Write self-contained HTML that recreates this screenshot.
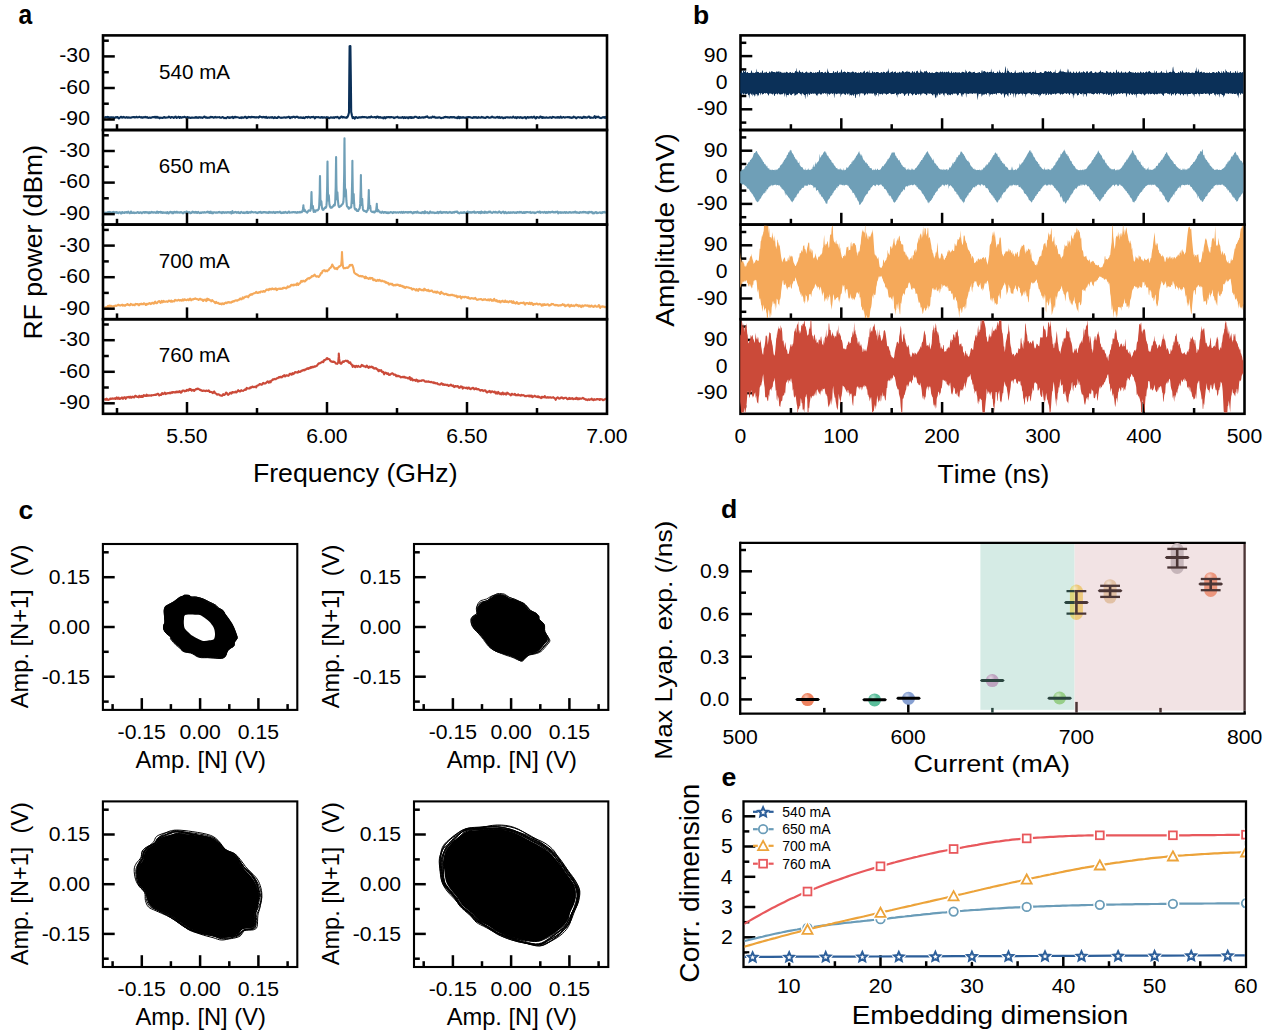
<!DOCTYPE html><html><head><meta charset="utf-8"><title>Figure</title><style>html,body{margin:0;padding:0;background:#fff;overflow:hidden}svg{display:block}text{font-family:"Liberation Sans",Arial,sans-serif;font-kerning:none;white-space:pre}</style></head><body>
<svg width="1268" height="1034" viewBox="0 0 1268 1034" font-family="Liberation Sans, Arial, sans-serif">
<rect width="1268" height="1034" fill="#fff"/>
<g id="pa">
<clipPath id="ca0"><rect x="104.1" y="36.5" width="501.8" height="92.4"/></clipPath>
<path d="M104.2 116.7 104.7 117.4 105.2 117.5 105.7 117.1 106.2 117.3 106.7 117.2 107.2 116.9 107.7 117.2 108.2 117.7 108.7 117 109.2 117.5 109.7 118.2 110.2 117.5 110.7 117.4 111.2 117.5 111.7 117.3 112.2 117.6 112.7 117.3 113.2 117.2 113.7 117.9 114.2 118.1 114.7 117.7 115.2 117.6 115.7 117.2 116.2 117 116.7 117.5 117.2 117.2 117.7 117 118.2 117.8 118.7 118.5 119.2 118.2 119.7 117.8 120.2 117.4 120.7 116.9 121.2 116.7 121.7 117.2 122.2 117.7 122.7 117.4 123.2 116.9 123.7 117.2 124.2 117.5 124.7 117.4 125.2 117.7 125.7 117.7 126.2 117.4 126.7 117.1 127.2 117.2 127.7 117.8 128.2 117.8 128.7 117.4 129.2 117.5 129.7 117.6 130.2 117.6 130.7 117.7 131.2 117.7 131.7 117.4 132.2 117.3 132.7 117.1 133.2 117.1 133.7 117.2 134.2 117.1 134.7 117.5 135.2 117.4 135.7 117.3 136.2 117 136.7 116.8 137.2 117.4 137.7 117.3 138.2 117.3 138.7 117.2 139.2 116.8 139.7 116.9 140.2 117.1 140.7 117.5 141.2 117.3 141.7 117.1 142.2 117.8 142.7 117.7 143.2 117.1 143.7 117.3 144.2 117.4 144.7 117.2 145.2 116.8 145.7 117.2 146.2 117.5 146.7 117.3 147.2 117.1 147.7 117.5 148.2 117.9 148.7 117.8 149.2 117.6 149.7 117.5 150.2 117.7 150.7 117.9 151.2 117.7 151.7 117.5 152.2 117.3 152.7 117.1 153.2 117 153.7 117.2 154.2 117.4 154.7 116.8 155.2 116.9 155.7 117.6 156.2 117.6 156.7 116.9 157.2 116.9 157.7 117.6 158.2 117.6 158.7 117.3 159.2 117.8 159.7 118.3 160.2 117.9 160.7 117.6 161.2 117.7 161.7 117.7 162.2 118 162.7 118 163.2 117.6 163.7 117.3 164.2 117 164.7 117.2 165.2 117.7 165.7 117.8 166.2 117.5 166.7 117.5 167.2 117.5 167.7 117.5 168.2 117.3 168.7 116.6 169.2 116.8 169.7 117 170.2 117.5 170.7 117.8 171.2 117.3 171.7 117 172.2 117.1 172.7 117.3 173.2 117.5 173.7 117.9 174.2 117.4 174.7 117.3 175.2 116.8 175.7 116.6 176.2 117.5 176.7 117.9 177.2 117.6 177.7 117.4 178.2 117 178.7 116.7 179.2 117.1 179.7 117.9 180.2 117.3 180.7 117 181.2 117.7 181.7 117.8 182.2 117.4 182.7 117.1 183.2 117.3 183.7 117.2 184.2 116.8 184.7 116.9 185.2 117.2 185.7 117.5 186.2 117.5 186.7 117.4 187.2 117.2 187.7 117 188.2 117.5 188.7 117.7 189.2 117.4 189.7 117.6 190.2 117.9 190.7 118 191.2 117.8 191.7 117.5 192.2 117.5 192.7 117.5 193.2 117.8 193.7 117.8 194.2 117.6 194.7 117.6 195.2 117.7 195.7 117.2 196.2 117 196.7 117.7 197.2 117.3 197.7 117.6 198.2 117.9 198.7 117.3 199.2 117.1 199.7 117.3 200.2 117.7 200.7 117.3 201.2 117.3 201.7 117.6 202.2 117.9 202.7 117.8 203.2 117.2 203.7 117 204.2 116.7 204.7 116.6 205.2 117.4 205.7 117.7 206.2 117.5 206.7 117.3 207.2 117.7 207.7 117.9 208.2 117.7 208.7 117.7 209.2 117.3 209.7 117.6 210.2 117.5 210.7 116.8 211.2 117 211.7 117.1 212.2 117.1 212.7 117.1 213.2 117.5 213.7 117.7 214.2 117.5 214.7 117.1 215.2 116.8 215.7 117.5 216.2 117.4 216.7 117.4 217.2 117.4 217.7 117.2 218.2 117.3 218.7 117.2 219.2 117.2 219.7 117.1 220.2 117.8 220.7 117.7 221.2 117.8 221.7 117.8 222.2 117 222.7 117.1 223.2 117.3 223.7 117.7 224.2 118.1 224.7 117.9 225.2 117.9 225.7 118.2 226.2 118.2 226.7 117.7 227.2 117.3 227.7 117 228.2 117.2 228.7 117.7 229.2 117.9 229.7 117.4 230.2 117.3 230.7 117.6 231.2 117.2 231.7 117.2 232.2 117 232.7 116.9 233.2 118.1 233.7 117.8 234.2 117.1 234.7 116.9 235.2 116.7 235.7 117.4 236.2 117.3 236.7 117.1 237.2 117.3 237.7 117.2 238.2 117.4 238.7 117.6 239.2 117.8 239.7 117.9 240.2 117.5 240.7 117.6 241.2 118.1 241.7 117.3 242.2 117.2 242.7 117.8 243.2 117.8 243.7 117.8 244.2 117.2 244.7 117 245.2 116.8 245.7 116.8 246.2 117.9 246.7 118.1 247.2 117.8 247.7 117.5 248.2 117 248.7 116.9 249.2 117.2 249.7 117.2 250.2 117 250.7 117.5 251.2 117.3 251.7 116.7 252.2 116.9 252.7 117.2 253.2 117.3 253.7 117 254.2 117.1 254.7 117.4 255.2 117.5 255.7 117.2 256.2 117.2 256.7 117.5 257.2 117.3 257.7 117.2 258.2 117.2 258.7 117.6 259.2 117 259.7 116.3 260.2 116.6 260.7 116.9 261.2 117.1 261.7 117.1 262.2 117.5 262.7 117.2 263.2 116.8 263.7 117.1 264.2 117 264.7 117.2 265.2 117.6 265.7 117.3 266.2 116.8 266.7 117.4 267.2 117.9 267.7 117.6 268.2 117.5 268.7 117.4 269.2 117.6 269.7 117.6 270.2 117.2 270.7 117.4 271.2 117.6 271.7 117.2 272.2 117 272.7 117.5 273.2 117.8 273.7 118.1 274.2 117.8 274.7 117.1 275.2 117.3 275.7 117.8 276.2 117.9 276.7 117.7 277.2 118 277.7 117.7 278.2 116.9 278.7 116.9 279.2 117.1 279.7 117.4 280.2 117.7 280.7 117.8 281.2 117.9 281.7 117.6 282.2 117.7 282.7 117.7 283.2 117.5 283.7 117.5 284.2 117.3 284.7 117.5 285.2 117.5 285.7 117.7 286.2 117.5 286.7 117.3 287.2 117.4 287.7 117.1 288.2 116.9 288.7 116.8 289.2 117 289.7 118 290.2 118.1 290.7 117.4 291.2 117 291.7 117.5 292.2 117.5 292.7 116.9 293.2 116.7 293.7 116.9 294.2 116.9 294.7 117.3 295.2 117.6 295.7 117 296.2 116.9 296.7 117 297.2 116.8 297.7 116.7 298.2 117.5 298.7 117.8 299.2 117.5 299.7 117.8 300.2 117.5 300.7 117.4 301.2 117.7 301.7 117.6 302.2 118 302.7 118 303.2 117.4 303.7 117.5 304.2 118 304.7 118.1 305.2 117.5 305.7 117.1 306.2 117 306.7 117 307.2 117.3 307.7 117.7 308.2 117 308.7 116.8 309.2 117.1 309.7 117.3 310.2 117.8 310.7 117.4 311.2 117.1 311.7 117 312.2 117.3 312.7 117.1 313.2 116.7 313.7 116.9 314.2 117.5 314.7 118.3 315.2 118 315.7 117.1 316.2 117.1 316.7 117.2 317.2 117.3 317.7 117.2 318.2 117 318.7 117.3 319.2 117.5 319.7 117.5 320.2 117.7 320.7 117.7 321.2 117 321.7 117.2 322.2 117.6 322.7 117.2 323.2 117.6 323.7 117.5 324.2 117.2 324.7 117.2 325.2 117.6 325.7 117.6 326.2 117.4 326.7 117.1 327.2 117.4 327.7 117.5 328.2 117.4 328.7 117.9 329.2 118 329.7 118.2 330.2 117.6 330.7 117.2 331.2 117.5 331.7 117.5 332.2 117.8 332.7 117.7 333.2 117.2 333.7 117.2 334.2 117.8 334.7 117.5 335.2 117.1 335.7 117.2 336.2 117.4 336.7 117.3 337.2 116.9 337.7 117.3 338.2 117.4 338.7 118 339.2 118.4 339.7 117.5 340.2 117.7 340.7 117.6 341.2 116.6 341.7 116.6 342.2 117.1 342.7 117.6 343.2 117 343.7 117 344.2 117.4 344.7 117.5 345.2 117.5 345.7 117.5 346.2 117.8 346.7 117.2 347.2 117.5 348.2 115.5 349 112.5 349.3 75 349.6 46.3 350.4 46 350.8 75 351.2 112 352 115.8 352.7 118.1 353.2 117.7 353.7 117.2 354.2 118 354.7 118.7 355.2 117.9 355.7 117.1 356.2 117.1 356.7 117.4 357.2 117.8 357.7 117.9 358.2 117.8 358.7 117.4 359.2 117.4 359.7 117.4 360.2 117.3 360.7 117.4 361.2 117.5 361.7 117.1 362.2 116.8 362.7 117.2 363.2 117 363.7 117.1 364.2 117.1 364.7 117 365.2 117.2 365.7 117.3 366.2 117.2 366.7 117.5 367.2 117.7 367.7 117.5 368.2 117.5 368.7 117.3 369.2 117 369.7 117.4 370.2 117.5 370.7 116.9 371.2 116.4 371.7 116.9 372.2 117.3 372.7 117.2 373.2 117.2 373.7 117.2 374.2 117.3 374.7 117 375.2 117.1 375.7 117.6 376.2 117.8 376.7 117.1 377.2 116.6 377.7 116.7 378.2 117 378.7 117.6 379.2 117.7 379.7 117 380.2 117 380.7 117.6 381.2 117.5 381.7 117.8 382.2 117.7 382.7 117.5 383.2 118.3 383.7 117.7 384.2 117 384.7 117.5 385.2 118.3 385.7 117.8 386.2 117.1 386.7 117.6 387.2 117.4 387.7 117.1 388.2 117.1 388.7 117.2 389.2 117 389.7 117.5 390.2 117.5 390.7 117 391.2 117.1 391.7 117.1 392.2 117.3 392.7 117.2 393.2 117.2 393.7 117.8 394.2 118.1 394.7 117.6 395.2 117.6 395.7 117.4 396.2 117.3 396.7 117.1 397.2 116.8 397.7 116.9 398.2 117.5 398.7 117.8 399.2 117.6 399.7 117.6 400.2 117.5 400.7 117.6 401.2 117.7 401.7 117.6 402.2 117.2 402.7 117 403.2 117.5 403.7 118.1 404.2 117.9 404.7 117.1 405.2 117.4 405.7 117.9 406.2 117.5 406.7 117.4 407.2 117.3 407.7 117.7 408.2 118.3 408.7 117.6 409.2 117.1 409.7 117.4 410.2 117.8 410.7 117.1 411.2 117 411.7 118 412.2 117.7 412.7 117.3 413.2 117.7 413.7 117.8 414.2 117.2 414.7 116.8 415.2 116.8 415.7 116.8 416.2 117 416.7 117.3 417.2 117.3 417.7 117.6 418.2 118 418.7 117.9 419.2 117 419.7 117.3 420.2 117.7 420.7 117.7 421.2 117.6 421.7 117.4 422.2 117.4 422.7 117.4 423.2 117.7 423.7 117.5 424.2 117.3 424.7 117.5 425.2 117.3 425.7 116.7 426.2 116.9 426.7 116.8 427.2 116.3 427.7 116.9 428.2 117.4 428.7 117.7 429.2 117.8 429.7 117.7 430.2 117.4 430.7 117.6 431.2 117.6 431.7 117.6 432.2 117.1 432.7 116.6 433.2 117 433.7 117.2 434.2 116.8 434.7 117 435.2 117.8 435.7 117.8 436.2 117.5 436.7 117.6 437.2 117.6 437.7 117.5 438.2 117.6 438.7 117.4 439.2 117.3 439.7 117.3 440.2 117.7 440.7 118 441.2 118.1 441.7 118 442.2 117.8 442.7 117.7 443.2 117.9 443.7 117.7 444.2 117.1 444.7 117.2 445.2 117 445.7 116.9 446.2 117.3 446.7 117.1 447.2 117 447.7 117.4 448.2 117.5 448.7 117.4 449.2 117.7 449.7 117.5 450.2 117 450.7 117.1 451.2 117.5 451.7 117 452.2 117.1 452.7 117.5 453.2 117.2 453.7 117.1 454.2 117.1 454.7 117.6 455.2 117.8 455.7 117.7 456.2 117.5 456.7 117.7 457.2 118.1 457.7 117.7 458.2 116.7 458.7 116.8 459.2 118.1 459.7 118.1 460.2 117.1 460.7 117.6 461.2 117.7 461.7 117.4 462.2 117.7 462.7 117.2 463.2 117.1 463.7 117.7 464.2 117.6 464.7 117.5 465.2 117.6 465.7 117.6 466.2 118.1 466.7 117.6 467.2 117.1 467.7 117.4 468.2 117.3 468.7 117 469.2 117.1 469.7 117.2 470.2 117.2 470.7 117.3 471.2 117.7 471.7 117.8 472.2 117.8 472.7 117.9 473.2 117.4 473.7 117 474.2 117.4 474.7 117.6 475.2 117.1 475.7 117.5 476.2 117.6 476.7 117.2 477.2 117.7 477.7 117.9 478.2 117.5 478.7 117.1 479.2 117.4 479.7 117.6 480.2 117.8 480.7 117.6 481.2 117.2 481.7 116.9 482.2 117.5 482.7 117.5 483.2 117.2 483.7 117.6 484.2 117.7 484.7 117.8 485.2 118 485.7 117.7 486.2 117.5 486.7 117 487.2 116.9 487.7 117.2 488.2 117.1 488.7 117.7 489.2 117.7 489.7 117.7 490.2 117.6 490.7 117.5 491.2 117.4 491.7 116.7 492.2 116.6 492.7 117.2 493.2 117.4 493.7 117.4 494.2 117.4 494.7 117.6 495.2 117.8 495.7 117.5 496.2 117.5 496.7 117.1 497.2 116.8 497.7 117.3 498.2 117.7 498.7 117.6 499.2 116.9 499.7 117.1 500.2 117.9 500.7 117.8 501.2 117.3 501.7 117.3 502.2 117.4 502.7 117.7 503.2 118.2 503.7 118 504.2 117.5 504.7 117.8 505.2 117.9 505.7 117.4 506.2 117.3 506.7 117.2 507.2 117.4 507.7 117.4 508.2 117.4 508.7 117.5 509.2 117.6 509.7 117.5 510.2 117.3 510.7 117.4 511.2 117.5 511.7 117.5 512.2 117.7 512.7 117.4 513.2 116.7 513.7 117.1 514.2 117.5 514.7 117.7 515.2 117.7 515.7 117.1 516.2 117.7 516.7 118.1 517.2 117.4 517.7 117.1 518.2 117.4 518.7 117.4 519.2 117.3 519.7 117.8 520.2 117.4 520.7 117 521.2 117.4 521.7 117.9 522.2 118.1 522.7 117.5 523.2 117.7 523.7 117.7 524.2 117.3 524.7 117.5 525.2 117.2 525.7 117.9 526.2 118.5 526.7 117.8 527.2 117.3 527.7 117 528.2 117.2 528.7 117.7 529.2 117.5 529.7 117.3 530.2 117.5 530.7 117.5 531.2 116.9 531.7 117.1 532.2 117.6 532.7 117.6 533.2 117.4 533.7 116.7 534.2 116.6 534.7 117.2 535.2 118 535.7 118.5 536.2 118.1 536.7 117.1 537.2 117 537.7 117.4 538.2 117.6 538.7 117.5 539.2 117.8 539.7 117.5 540.2 116.6 540.7 116.6 541.2 116.9 541.7 117.7 542.2 117.9 542.7 117 543.2 117.2 543.7 117.8 544.2 117.7 544.7 117.5 545.2 117.7 545.7 117.8 546.2 117.4 546.7 117.4 547.2 117.8 547.7 117.7 548.2 117.7 548.7 117.8 549.2 117.5 549.7 117.3 550.2 117.5 550.7 117.4 551.2 117.6 551.7 118 552.2 117.2 552.7 116.9 553.2 117.2 553.7 117.1 554.2 117.3 554.7 117.4 555.2 117.5 555.7 117.6 556.2 117.6 556.7 117.3 557.2 117.1 557.7 117.7 558.2 117.1 558.7 117.2 559.2 117.7 559.7 117.6 560.2 117 560.7 116.6 561.2 117.5 561.7 117.7 562.2 117.7 562.7 117.4 563.2 117 563.7 117.1 564.2 117.4 564.7 117.6 565.2 117.5 565.7 117.3 566.2 117.3 566.7 117.3 567.2 117.2 567.7 117.1 568.2 117.4 568.7 117.2 569.2 117.1 569.7 117.6 570.2 117.6 570.7 117.3 571.2 117.8 571.7 117.9 572.2 117.6 572.7 117.7 573.2 117.3 573.7 116.7 574.2 117 574.7 117.2 575.2 117.3 575.7 117.8 576.2 118.3 576.7 117.8 577.2 117.5 577.7 117.2 578.2 117.3 578.7 117.1 579.2 117.4 579.7 117.6 580.2 117.4 580.7 117.2 581.2 117.4 581.7 117.9 582.2 118 582.7 117.9 583.2 117 583.7 116.8 584.2 116.9 584.7 117.5 585.2 117.6 585.7 117.1 586.2 117.4 586.7 117.6 587.2 117.6 587.7 117.4 588.2 116.8 588.7 116.6 589.2 116.5 589.7 117.2 590.2 117.9 590.7 117.5 591.2 117.5 591.7 117.7 592.2 117.7 592.7 117.7 593.2 117.8 593.7 117.6 594.2 116.9 594.7 116.2 595.2 117 595.7 117.9 596.2 116.9 596.7 116.8 597.2 117.2 597.7 117 598.2 116.6 598.7 116.9 599.2 117.6 599.7 117.6 600.2 117.9 600.7 118 601.2 118.1 601.7 117.9 602.2 117.5 602.7 117.3 603.2 117.4 603.7 117.5 604.2 117 604.7 117.4 605.2 117.9 605.7 116.9 606.2 116.3" fill="none" stroke="#0b3058" stroke-width="2.1" stroke-linejoin="round" clip-path="url(#ca0)"/>
<clipPath id="ca1"><rect x="104.1" y="131.1" width="501.8" height="92.4"/></clipPath>
<path d="M104.2 212 104.5 212.3 104.7 212.4 105 212.8 105.2 212.7 105.5 213 105.7 212.8 106 212.7 106.2 212.5 106.5 212.7 106.7 212.7 107 213 107.2 212.9 107.5 212.7 107.7 212.4 108 212.1 108.2 212.3 108.5 212.6 108.7 212.7 109 212.3 109.2 211.9 109.5 212 109.7 212.3 110 212.2 110.2 212.3 110.5 212.1 110.7 212.5 111 212.5 111.2 212.8 111.5 212.6 111.7 212.6 112 212.6 112.2 212.4 112.5 212.4 112.7 212.2 113 212.4 113.2 212.2 113.5 212.1 113.7 211.8 114 212 114.2 212.4 114.5 212.5 114.7 212.6 115 212.4 115.2 212.6 115.5 212.5 115.7 212.7 116 212 116.2 212 116.5 212.1 116.7 212.8 117 213.1 117.2 212.7 117.5 212.5 117.7 212.4 118 212.8 118.2 212.9 118.5 213.1 118.7 212.6 119 212.6 119.2 212.4 119.5 212.5 119.7 212.2 120 212.3 120.2 212.4 120.5 212.7 120.7 212.9 121 213.5 121.2 213.2 121.5 213.3 121.7 212.5 122 212.5 122.2 212 122.5 212.4 122.7 212.5 123 212.8 123.2 212.5 123.5 212.6 123.7 212.5 124 212.6 124.2 212.9 124.5 213 124.7 212.8 125 212.1 125.2 212.3 125.5 212.4 125.7 212.5 126 212.1 126.2 212.1 126.5 212.1 126.7 212.7 127 212.6 127.2 212.8 127.5 212.4 127.7 212 128 211.8 128.2 211.7 128.4 212.1 128.7 212.1 128.9 212.5 129.2 212.6 129.4 213.1 129.7 213 129.9 212.9 130.2 213.1 130.4 212.9 130.7 212.6 130.9 211.6 131.2 211.6 131.4 212.2 131.7 212.6 131.9 213 132.2 212.8 132.4 212.9 132.7 212.7 132.9 212.5 133.2 212.5 133.4 212.4 133.7 212.8 133.9 213 134.2 213.1 134.4 212.7 134.7 212.6 134.9 212.7 135.2 212.8 135.4 212.8 135.7 212.8 135.9 213 136.2 212.9 136.4 212.8 136.7 212.6 136.9 212.6 137.2 212.4 137.4 212.3 137.7 212 137.9 212.1 138.2 212.3 138.4 212.7 138.7 212.9 138.9 212.7 139.2 212.8 139.4 212.6 139.7 212.8 139.9 212.6 140.2 212.5 140.4 212.2 140.7 212.3 140.9 212.5 141.2 212.7 141.4 213.1 141.7 213.2 141.9 213.2 142.2 212.7 142.4 212.5 142.7 212.4 142.9 212.4 143.2 212.3 143.4 212.4 143.7 212.2 143.9 212.4 144.2 212.1 144.4 212.5 144.7 212.4 144.9 212.9 145.2 212.3 145.4 212.1 145.7 212 145.9 212.1 146.2 212.5 146.4 212.3 146.7 212.2 146.9 212.1 147.2 212.5 147.4 212.8 147.7 212.8 147.9 212.7 148.2 212.3 148.4 212.6 148.7 212.8 148.9 213.2 149.2 212.6 149.4 212.5 149.7 212.2 149.9 212.6 150.2 212.5 150.4 212.9 150.7 212.7 150.9 212.6 151.2 212.1 151.4 211.9 151.7 212.1 151.9 212.1 152.2 212.5 152.4 212.3 152.7 212.4 152.9 212.4 153.2 212.7 153.4 212.6 153.7 212.4 153.9 212.2 154.2 212.5 154.4 212.4 154.7 212.3 154.9 212.2 155.2 212.5 155.4 212.7 155.7 212.6 155.9 212.9 156.2 212.8 156.4 212.7 156.7 212 156.9 211.9 157.2 211.5 157.4 211.9 157.7 212.1 157.9 212.8 158.2 212.9 158.4 212.4 158.7 212.1 158.9 212.2 159.2 212.1 159.4 212 159.7 212 159.9 212.4 160.2 212.2 160.4 211.9 160.7 211.9 160.9 212.7 161.2 212.8 161.4 212.6 161.7 212.2 161.9 212.4 162.2 212.7 162.4 212.9 162.7 212.8 162.9 212.4 163.2 212.2 163.4 212.2 163.7 212.6 163.9 212.8 164.2 212.6 164.4 212.6 164.7 212.6 164.9 212.7 165.2 212.8 165.4 212.6 165.7 212.7 165.9 212.5 166.2 212.6 166.4 213.1 166.7 213.2 166.9 212.8 167.2 212.2 167.4 212 167.7 212.3 167.9 212.4 168.2 213 168.4 213.1 168.7 213.5 168.9 212.8 169.2 212.6 169.4 212.7 169.7 212.5 169.9 212.5 170.2 211.8 170.4 212.5 170.7 212.1 170.9 212.4 171.2 212.1 171.4 212 171.7 212.6 171.9 212.6 172.2 213.2 172.4 212.6 172.7 212.3 172.9 212 173.2 212.2 173.4 213.1 173.7 212.8 173.9 212.5 174.2 211.8 174.4 212 174.7 212.5 174.9 212.5 175.2 212.3 175.4 212.3 175.7 212.7 175.9 212.6 176.2 212.6 176.4 211.8 176.7 211.7 176.9 211.8 177.2 212.3 177.4 212.5 177.7 212.7 177.9 212.7 178.2 212.5 178.4 212.2 178.7 212.3 178.9 212.3 179.2 212.4 179.4 212.7 179.7 212.8 179.9 212.5 180.2 212.1 180.4 212.5 180.7 212.5 180.9 212.4 181.2 212 181.4 212.2 181.7 212.4 181.9 212.5 182.2 212.7 182.4 213.1 182.7 213 182.9 213 183.2 212.6 183.4 213.3 183.7 212.9 183.9 212.8 184.2 212.2 184.4 212.1 184.7 212.1 184.9 212.2 185.2 212.2 185.4 212.3 185.7 212.5 185.9 212.7 186.2 212.5 186.4 211.6 186.7 211.7 186.9 211.6 187.2 212.2 187.4 212.5 187.7 213 187.9 212.7 188.2 212.5 188.4 212.3 188.7 212.2 188.9 212 189.2 212.1 189.4 212.3 189.7 212.5 189.9 212.9 190.2 213.1 190.4 213.1 190.7 212.6 190.9 212.7 191.2 212.6 191.4 213 191.7 212.5 191.9 212.5 192.2 211.8 192.4 211.9 192.7 211.7 192.9 212 193.2 212.4 193.4 212.3 193.7 212.4 193.9 212.1 194.2 212.5 194.4 212.7 194.7 212.4 194.9 212.2 195.2 211.8 195.4 212.3 195.7 212.6 195.9 212.7 196.2 212.4 196.4 212 196.7 212.2 196.9 212.6 197.2 212.9 197.4 212.7 197.7 212.2 197.9 212 198.2 211.8 198.4 212.3 198.7 212.4 198.9 212.7 199.2 212.8 199.4 212.8 199.7 213.2 199.9 212.8 200.2 213 200.4 212.7 200.7 212.6 200.9 212.4 201.2 212.6 201.4 212.9 201.7 212.8 201.9 212.6 202.2 212.3 202.4 212.3 202.7 212.3 202.9 212.3 203.2 212.4 203.4 212.6 203.7 212.7 203.9 212.5 204.2 212.1 204.4 212 204.7 212.2 204.9 212.4 205.2 212.4 205.4 212.5 205.7 212.6 205.9 212.6 206.2 212.2 206.4 212.2 206.7 212 206.9 211.9 207.2 212 207.4 211.6 207.7 211.9 207.9 212 208.2 212.6 208.4 212.3 208.7 212.2 208.9 211.8 209.2 211.9 209.4 212.1 209.7 212.5 209.9 213 210.2 212.5 210.4 212 210.7 211.6 210.9 212.1 211.2 212.7 211.4 213.1 211.7 212.8 211.9 212.6 212.2 212.3 212.4 212.9 212.7 213 212.9 213.4 213.2 212.7 213.4 213 213.7 212.4 213.9 212.4 214.2 212.2 214.4 212.3 214.7 212.3 214.9 212.2 215.2 212.2 215.4 212.6 215.7 212.8 215.9 212.7 216.2 212.7 216.4 212.5 216.7 212.7 216.9 212.4 217.2 212.5 217.4 212.7 217.7 212.6 217.9 212.5 218.2 212.1 218.4 212.5 218.7 212.4 218.9 212.4 219.2 211.9 219.4 212.1 219.7 212.4 219.9 212.5 220.2 212.5 220.4 212.3 220.7 212.6 220.9 212.7 221.2 212.4 221.4 212.4 221.7 212.4 221.9 213.2 222.2 212.7 222.4 212.6 222.7 212.2 222.9 212 223.2 212 223.4 212.3 223.7 212.7 223.9 212.3 224.2 212.3 224.4 212.3 224.7 212.9 224.9 212.7 225.2 212.6 225.4 212.5 225.7 212.5 225.9 212.2 226.2 212.4 226.4 212.5 226.7 212.8 226.9 212.6 227.2 212.5 227.4 212.4 227.7 212.1 227.9 212.2 228.2 212.3 228.4 212.5 228.7 212.1 228.9 212.3 229.2 212.3 229.4 212.7 229.7 212.3 229.9 212.2 230.2 212.2 230.4 212 230.7 212 230.9 212.5 231.2 213 231.4 213.5 231.7 212.9 231.9 212.3 232.2 211.6 232.4 211.2 232.7 211.8 232.9 212.4 233.2 212.9 233.4 212.8 233.7 212.6 233.9 212.5 234.2 212.6 234.4 212.3 234.7 212.3 234.9 212.1 235.2 212 235.4 211.9 235.7 212 235.9 212.4 236.2 212.1 236.4 212.2 236.7 212.2 236.9 212.8 237.2 212.6 237.4 212.7 237.7 212.3 237.9 212.2 238.2 211.9 238.4 212.1 238.7 212.3 238.9 212.9 239.2 213 239.4 212.7 239.7 212.5 239.9 212.6 240.2 213.1 240.4 213 240.7 212.5 240.9 212.1 241.2 211.9 241.4 212.2 241.7 212.2 241.9 212.3 242.2 212.4 242.4 212.7 242.7 212.7 242.9 212.9 243.2 212.6 243.4 212.8 243.7 212.5 243.9 212.7 244.2 212.4 244.4 212.9 244.7 213 244.9 213.1 245.2 212.7 245.4 212.5 245.7 212.5 245.9 212.3 246.2 212.1 246.4 211.9 246.7 212.5 246.9 212.9 247.2 212.9 247.4 212.5 247.7 211.9 247.9 212.1 248.2 212.4 248.4 213 248.7 212.7 248.9 212.7 249.2 212.3 249.4 212.4 249.7 212.2 249.9 212.1 250.2 212.3 250.4 212.4 250.7 212.7 250.9 212.6 251.2 212.2 251.4 211.7 251.7 211.9 251.9 212 252.2 212 252.4 212.1 252.7 212.1 252.9 212.4 253.2 212.4 253.4 212.5 253.7 212.4 253.9 212.2 254.2 212.2 254.4 212.2 254.7 212.3 254.9 212.3 255.2 212.3 255.4 212.1 255.7 212.5 255.9 212.4 256.2 212.6 256.4 212.4 256.7 212.8 256.9 212.7 257.2 212.9 257.4 213 257.7 213.1 257.9 212.5 258.2 212.2 258.4 212.3 258.7 212.4 258.9 212.2 259.2 212.1 259.4 212.2 259.7 212.5 259.9 212.2 260.2 211.7 260.4 211.7 260.7 212 260.9 212.6 261.2 212.4 261.4 212.8 261.7 212.9 261.9 212.8 262.2 212.5 262.4 212.4 262.7 212.6 262.9 212.5 263.2 212.1 263.4 212 263.7 212.1 263.9 212.4 264.2 212.2 264.4 212.3 264.7 212 264.9 212.1 265.2 212.2 265.4 212.4 265.7 212.5 265.9 212.4 266.2 212.7 266.4 212.3 266.7 212.4 266.9 212.3 267.2 212.7 267.4 212.6 267.7 212.6 267.9 212.7 268.2 213 268.4 212.6 268.7 212.2 268.9 211.9 269.2 211.8 269.4 212.2 269.7 212.1 269.9 212.7 270.2 212.4 270.4 212.5 270.7 212.2 270.9 212.1 271.2 212.2 271.4 212.5 271.7 212.6 271.9 212.5 272.2 212.3 272.4 212.6 272.7 212.7 272.9 212.6 273.2 212.1 273.4 212 273.7 211.9 273.9 212.1 274.2 212.4 274.4 212.7 274.7 212.9 274.9 212.7 275.2 212.9 275.4 212.6 275.7 212.6 275.9 212.2 276.2 212.5 276.4 212.4 276.7 212.4 276.9 212.5 277.2 212 277.4 212.2 277.7 212.2 277.9 212.4 278.2 212.2 278.4 212.4 278.7 212.4 278.9 212.5 279.2 212 279.4 212.1 279.7 212 279.9 211.7 280.2 212.3 280.4 212.3 280.7 212.8 280.9 212.3 281.2 212.7 281.4 212.8 281.7 213.1 281.9 213 282.2 213 282.4 212.8 282.7 212.8 282.9 212.3 283.2 212.5 283.4 212.4 283.7 212.8 283.9 212.4 284.2 212.5 284.4 212.3 284.7 212.7 284.9 212 285.2 212.1 285.4 211.9 285.7 212.1 285.9 212 286.2 212.5 286.4 212.6 286.7 212.8 286.9 212.9 287.2 212.6 287.4 212.9 287.7 212.4 287.9 212.5 288.2 212.1 288.4 211.8 288.7 211.7 288.9 211.5 289.2 211.8 289.4 212.2 289.7 212.7 289.9 212.7 290.2 212.6 290.4 212.5 290.7 212.5 290.9 212.5 291.2 212.3 291.4 212.4 291.7 212.3 291.9 212.5 292.2 212.4 292.4 212.5 292.7 212.3 292.9 212 293.2 212 293.4 212 293.7 212.1 293.9 212.1 294.2 212.1 294.4 212.3 294.7 212.4 294.9 212.4 295.2 212.3 295.4 212.1 295.7 212.4 295.9 212.4 296.2 212.6 296.4 212.6 296.7 212.7 296.9 212.8 297.2 212.2 297.4 212 297.7 212 297.9 212.5 298.2 212.3 298.4 212.4 298.7 212.3 298.9 212.5 299.2 212.1 299.4 211.9 299.7 212 299.9 212.4 300.2 212.5 300.4 212.5 300.7 212.3 300.9 212.2 301.2 211.7 301.4 211.8 301.7 211.8 301.9 212.1 302.2 211.5 302.4 211.2 302.7 210.6 302.9 209.8 303.2 208 303.4 205.3 303.4 206.1 303.7 208.7 303.9 210.3 304.2 211.1 304.4 210.6 304.7 209.8 304.9 210.5 305.2 211.2 305.4 211.3 305.7 211.5 305.9 211.5 306.2 211.7 306.4 211.9 306.7 212.3 306.9 212.4 307.2 212.6 307.4 212.2 307.7 212 307.9 211.5 308.2 211 308.4 210.7 308.7 210.3 308.9 210.3 309.2 210.2 309.4 210.4 309.7 210.5 309.9 210.6 310.2 210.8 310.4 210.6 310.7 209.4 310.9 206.9 311.2 202.3 311.4 194.3 311.5 192.1 311.7 199.2 311.9 204.8 312.2 208 312.4 208.1 312.7 205.8 312.9 206.2 313.2 208.7 313.4 210.5 313.7 211.9 313.9 211.8 314.2 211.5 314.4 210.4 314.7 210.6 314.9 211.1 315.2 211.8 315.4 211.7 315.7 211.1 315.9 210.5 316.2 210.3 316.4 210.2 316.7 210.2 316.9 210.3 317.2 210.3 317.4 210.3 317.7 210.4 317.9 210.1 318.2 209.7 318.4 209.2 318.7 209.1 318.9 208.4 319.2 205.6 319.4 200.9 319.7 193.2 319.9 179.6 320 176.1 320.2 188.4 320.4 198.5 320.7 204 320.9 204.7 321.2 201 321.4 201.6 321.7 205.2 321.9 207.3 322.2 208.6 322.4 209.2 322.7 209.6 322.9 209.9 323.2 209.9 323.4 209.8 323.7 209.4 323.9 209 324.2 208.4 324.4 208.6 324.7 208 324.9 207.8 325.2 207.3 325.4 207.5 325.7 207.8 325.9 207.5 326.2 207 326.4 205.9 326.7 202.5 326.9 196.6 327.2 185.9 327.4 167.1 327.5 161.5 327.7 178.5 327.9 192 328.2 199.9 328.4 200.4 328.7 195.1 328.9 196.3 329.2 201.2 329.4 204.2 329.7 205.4 329.9 206.5 330.2 206.6 330.4 207.5 330.7 207.6 330.9 207.8 331.2 207.4 331.4 207.5 331.7 207.6 331.9 207.5 332.2 207.1 332.4 206.6 332.7 206.6 332.9 206.4 333.2 206.4 333.4 205.8 333.7 205.5 333.9 204.9 334.2 205.1 334.4 205.2 334.7 205.3 334.9 204.7 335.2 201.8 335.4 196.2 335.7 187 335.9 171.5 336.1 157.1 336.2 167.5 336.4 184.6 336.7 194.3 336.9 199.2 337.2 195.1 337.4 192.2 337.7 197.5 337.9 200.7 338.2 202.8 338.4 205.1 338.7 206.1 338.9 206.8 339.2 207.1 339.4 207 339.7 206.7 339.9 206.5 340.2 206.4 340.4 206.4 340.7 206 340.9 205.8 341.2 205.8 341.4 205.4 341.7 204.9 341.9 204.4 342.2 204.3 342.4 204.3 342.7 204.1 342.9 203.3 343.2 202.8 343.4 201.7 343.7 197 343.9 188.1 344.2 172.6 344.4 145.5 344.5 138.3 344.7 163.7 344.9 183.4 345.2 194.6 345.4 196.2 345.7 189.3 345.9 190.6 346.2 196.6 346.4 200.7 346.7 203.8 346.9 206 347.2 206.4 347.4 206.8 347.7 206.7 347.9 207 348.2 207.3 348.4 208.2 348.7 208.6 348.9 208.8 349.2 208.1 349.4 207.9 349.7 207.7 349.9 207.8 350.2 207.6 350.4 207.5 350.7 207.4 350.9 207.6 351.2 207.1 351.4 204.7 351.7 199.9 351.9 192.1 352.2 178.8 352.4 160.8 352.4 166.1 352.7 185.4 352.9 196.5 353.2 203 353.4 200 353.7 194.1 353.9 200 354.2 204 354.4 206.4 354.7 208.3 354.9 208.8 355.2 209.4 355.4 209.7 355.7 209.7 355.9 209.6 356.2 209.2 356.4 209.8 356.7 210 356.9 210.9 357.2 210.9 357.4 210.5 357.7 210.6 357.9 210.6 358.2 210.9 358.4 210.3 358.7 210.1 358.9 209.3 359.2 209.3 359.4 208.5 359.7 208.5 359.9 206.6 360.2 203.9 360.4 198.4 360.7 188.4 360.9 175 360.9 178.8 361.2 192.8 361.4 200.6 361.7 205 361.9 203.1 362.2 198.8 362.4 203.5 362.7 206.6 362.9 208.7 363.2 209.9 363.4 210.4 363.7 210.4 363.9 210.6 364.2 211 364.4 211 364.7 211.1 364.9 210.9 365.2 211.2 365.4 211.5 365.7 211.4 365.9 211.5 366.2 211.6 366.4 212.1 366.7 211.8 366.9 211.2 367.2 210.5 367.4 210.4 367.7 210.3 367.9 209.1 368.2 206.5 368.4 201.8 368.7 194.3 368.8 190.1 368.9 196.6 369.2 203 369.4 206.8 369.7 208.1 369.9 206.1 370.2 205.8 370.4 208 370.7 209.7 370.9 210.6 371.2 211.2 371.4 211.3 371.7 211.4 371.9 211.7 372.2 212 372.4 211.9 372.7 211.9 372.9 212.1 373.2 211.9 373.4 211.7 373.7 211.5 373.9 211.8 374.2 212.3 374.4 212.5 374.7 212.4 374.9 212 375.2 211.5 375.4 211.2 375.7 211.4 375.9 210.9 376.2 210.2 376.4 208.2 376.7 205.7 376.8 203.9 376.9 206.7 377.2 209.4 377.4 211 377.7 211.3 377.9 210 378.2 210.1 378.4 210.4 378.7 211.2 378.9 211.3 379.2 211.7 379.4 211.5 379.7 211.6 379.9 211.9 380.2 212.4 380.4 212.3 380.7 212.4 380.9 212.5 381.2 212.4 381.4 212.9 381.7 212.4 381.9 212.2 382.2 211.7 382.4 212 382.7 211.9 382.9 211.9 383.2 212.2 383.4 212.5 383.7 212.9 383.9 212.6 384.2 212.5 384.4 212.1 384.7 212.1 384.9 212.2 385.2 212.3 385.4 212.1 385.7 212.4 385.9 212.7 386.2 212.9 386.4 212.6 386.7 212.3 386.9 212.6 387.2 212.6 387.4 213.1 387.7 212.6 387.9 212.4 388.2 212.4 388.4 212.5 388.7 213.1 388.9 212.8 389.2 212.7 389.4 212.6 389.7 212.5 389.9 212.6 390.2 212.4 390.4 212.1 390.7 212.1 390.9 212 391.2 212.3 391.4 212.3 391.7 212.2 391.9 212.3 392.2 212.3 392.4 213 392.7 213.1 392.9 213 393.2 212.5 393.4 212.3 393.7 212 393.9 212.2 394.2 212.2 394.4 212.4 394.7 212.3 394.9 212.4 395.2 212.5 395.4 212.3 395.7 212.5 395.9 212.4 396.2 212.7 396.4 212.5 396.7 212.3 396.9 212.3 397.2 212.2 397.4 212.2 397.7 212.2 397.9 212.4 398.2 212.7 398.4 212.7 398.7 212.4 398.9 212.2 399.2 212.2 399.4 212 399.7 212.2 399.9 212.3 400.2 212.3 400.4 212.4 400.7 212.8 400.9 212.8 401.2 212.5 401.4 211.9 401.7 212.3 401.9 212.1 402.2 212.4 402.4 212.3 402.7 212.8 402.9 212.3 403.2 212.1 403.4 211.8 403.7 212.4 403.9 212.5 404.2 212.7 404.4 212.6 404.7 212.4 404.9 212.3 405.2 212.1 405.4 212.2 405.7 212.1 405.9 212.3 406.2 212.4 406.4 212.2 406.7 212.2 406.9 212 407.2 212.1 407.4 212.2 407.7 212.3 407.9 212.7 408.2 212.4 408.4 212.4 408.7 212 408.9 212.2 409.2 212 409.4 212.4 409.7 212.2 409.9 212.2 410.2 211.9 410.4 211.9 410.7 212.3 410.9 212.5 411.2 212.4 411.4 212.1 411.7 212.2 411.9 212.5 412.2 212.6 412.4 213.2 412.7 213 412.9 213.4 413.2 212.7 413.4 212.8 413.7 212.1 413.9 212.1 414.2 212 414.4 212.4 414.7 212.7 414.9 212.7 415.2 212.3 415.4 212.1 415.7 212.1 415.9 212.3 416.2 212.4 416.4 212.7 416.7 212.7 416.9 212.3 417.2 211.6 417.4 211.6 417.7 211.9 417.9 212.3 418.2 212.6 418.4 212.5 418.7 212.8 418.9 212.8 419.2 212.6 419.4 212.7 419.7 212.8 419.9 212.9 420.2 212.7 420.4 212.7 420.7 213 420.9 212.9 421.2 212.8 421.4 212.5 421.7 213.1 421.9 212.8 422.2 212.7 422.4 212.1 422.7 212.3 422.9 212.2 423.2 212.5 423.4 212.2 423.7 212.7 423.9 212.9 424.2 213.2 424.4 212.6 424.7 212 424.9 211.2 425.2 212.1 425.4 212.3 425.7 212.8 425.9 212.2 426.2 212.5 426.4 212.5 426.7 212.5 426.9 212.4 427.2 212.2 427.4 212.5 427.7 212.9 427.9 213.1 428.2 212.8 428.4 212.8 428.7 213.3 428.9 213.3 429.2 213.1 429.4 212.5 429.7 212.5 429.9 211.9 430.2 211.5 430.4 211.6 430.7 212 430.9 212.6 431.2 212.5 431.4 212.7 431.7 212.6 431.9 212.6 432.2 212.5 432.4 212.4 432.7 212.7 432.9 212.4 433.2 212.5 433.4 212.4 433.7 212.5 433.9 212.7 434.2 212.9 434.4 213.1 434.7 212.8 434.9 212.9 435.2 212.8 435.4 212.7 435.7 212.8 435.9 212.7 436.2 213 436.4 212.8 436.7 212.7 436.9 212.7 437.2 212.3 437.4 212.2 437.7 211.9 437.9 212.6 438.2 212.9 438.4 213.2 438.7 212.7 438.9 212.7 439.2 212.1 439.4 212.1 439.7 212.1 439.9 212.4 440.2 212 440.4 211.6 440.7 211.9 440.9 212.5 441.2 212.8 441.4 213 441.7 212.4 441.9 212.6 442.2 212.4 442.4 212.9 442.7 212.4 442.9 212.6 443.2 212.4 443.4 212.5 443.7 212.2 443.9 212.1 444.2 212.4 444.4 212.3 444.7 212.2 444.9 212.1 445.2 212.3 445.4 212.6 445.7 212.7 445.9 212.3 446.2 212.2 446.4 212.1 446.7 212.5 446.9 212.3 447.2 212.4 447.4 212.7 447.7 212.9 447.9 212.6 448.2 212.4 448.4 212.4 448.7 212.6 448.9 212.5 449.2 212.4 449.4 212.4 449.7 212.2 449.9 211.9 450.2 212.1 450.4 212.3 450.7 212.7 450.9 212.7 451.2 212.6 451.4 212.9 451.7 212.8 451.9 212.7 452.2 212.3 452.4 212.2 452.7 212.3 452.9 212.8 453.2 212.3 453.4 212.3 453.7 212.1 453.9 212.5 454.2 212.5 454.4 212.6 454.7 212 454.9 211.9 455.2 211.7 455.4 211.9 455.7 212 455.9 212 456.2 212.1 456.4 211.8 456.7 212 456.9 211.7 457.2 211.9 457.4 211.6 457.7 212.2 457.9 212.6 458.2 213 458.4 213 458.7 212.9 458.9 213.1 459.2 213.3 459.4 213.4 459.7 213 459.9 213 460.2 212.6 460.4 212.4 460.7 212.3 460.9 212.2 461.2 212.2 461.4 212.7 461.7 213 461.9 213 462.2 212.9 462.4 213 462.7 212.8 462.9 212.4 463.2 212.4 463.4 212.6 463.7 212.8 463.9 212.4 464.2 212.1 464.4 212.3 464.7 212.3 464.9 212.6 465.2 212.7 465.4 213 465.7 212.9 465.9 212.6 466.2 212.6 466.4 212.6 466.7 212.5 466.9 212.1 467.2 211.9 467.4 211.7 467.7 211.6 467.9 211.8 468.2 211.9 468.4 212.3 468.7 212.8 468.9 212.6 469.2 212.5 469.4 212 469.7 212 469.9 212.5 470.2 212.5 470.4 212.6 470.7 212.2 470.9 212.8 471.2 212.8 471.4 212.7 471.7 212.4 471.9 212.4 472.2 212.1 472.4 212.1 472.7 212.4 472.9 212.5 473.2 212 473.4 211.8 473.7 211.9 473.9 211.9 474.2 211.6 474.4 212.2 474.7 212.7 474.9 212.8 475.2 212.4 475.4 212.2 475.7 212.3 475.9 212.3 476.2 212.7 476.4 212.6 476.7 212.4 476.9 212.1 477.2 212.1 477.4 212.1 477.7 212.1 477.9 212 478.2 212.3 478.4 212.3 478.7 212.8 478.9 212.3 479.2 212.3 479.4 212.1 479.7 212.2 479.9 212.5 480.2 212.6 480.4 213.2 480.7 212.4 480.9 212 481.2 211.5 481.4 212.1 481.7 212.3 481.9 212.8 482.2 212.4 482.4 212.6 482.7 212 482.9 212.5 483.2 212.5 483.4 212.6 483.7 212.7 483.9 212.8 484.2 213 484.4 212.5 484.7 212.1 484.9 211.6 485.2 211.8 485.4 211.9 485.7 212.6 485.9 212.6 486.2 212.6 486.4 212.1 486.7 212.6 486.9 212.5 487.2 212.6 487.4 212.5 487.7 212.7 487.9 212.2 488.2 211.8 488.4 211.8 488.7 211.9 488.9 212.1 489.2 211.6 489.4 212.1 489.7 212.1 489.9 212.1 490.2 212 490.4 211.7 490.7 211.9 490.9 212.3 491.2 212.5 491.4 212.7 491.7 212.8 491.9 212.7 492.2 212.9 492.4 212.7 492.7 212.7 492.9 212.4 493.2 212.1 493.4 211.9 493.7 211.8 493.9 212 494.2 212.3 494.4 212.3 494.7 212.5 494.9 212.3 495.2 212.4 495.4 211.8 495.7 211.8 495.9 212.1 496.2 212.4 496.4 212.5 496.7 212.5 496.9 212.4 497.2 212.6 497.4 212.5 497.7 212.7 497.9 212.6 498.2 212.1 498.4 212.3 498.7 211.9 498.9 212 499.2 211.4 499.4 211.7 499.7 212 499.9 212.3 500.2 212.3 500.4 212.2 500.7 212.6 500.9 213 501.2 213.1 501.4 212.5 501.7 212.2 501.9 212.2 502.2 212.3 502.4 212.3 502.7 212 502.9 211.8 503.2 211.6 503.4 211.9 503.7 212 503.9 212.7 504.2 212.8 504.4 213.1 504.7 212.8 504.9 212.5 505.2 212.1 505.4 211.9 505.7 212.2 505.9 212.5 506.2 212.9 506.4 213.1 506.7 213.2 506.9 213.1 507.2 212.9 507.4 212.8 507.7 212.6 507.9 212.4 508.2 212.4 508.4 212.2 508.7 212.5 508.9 212.7 509.2 213 509.4 212.9 509.7 212.5 509.9 212.4 510.2 212.3 510.4 212.4 510.7 212.8 510.9 212.7 511.2 212.6 511.4 212.3 511.7 212.6 511.9 212.5 512.2 212.8 512.5 212.5 512.7 212.5 513 212.2 513.2 212.1 513.5 212.3 513.7 212.5 514 212.6 514.2 212.5 514.5 212.4 514.7 212.8 515 212.5 515.2 212.6 515.5 212.7 515.7 212.5 516 212.9 516.2 212.5 516.5 213 516.7 212.4 517 212.4 517.2 212 517.5 212.4 517.7 212.3 518 212.5 518.2 212.2 518.5 212.2 518.7 212.5 519 212.7 519.2 212.6 519.5 212.2 519.7 211.9 520 212.2 520.2 212.5 520.5 212.5 520.7 212 521 211.9 521.2 212 521.5 212.4 521.7 212.4 522 212.6 522.2 212.6 522.5 212.9 522.7 212.7 523 212.7 523.2 212.4 523.5 212.2 523.7 212.1 524 212.5 524.2 213 524.5 212.9 524.7 212.3 525 212.1 525.2 212.1 525.5 212.6 525.7 212.7 526 212.7 526.2 212.4 526.5 212.1 526.7 212 527 212 527.2 212.1 527.5 212.1 527.7 212.2 528 212.1 528.2 212.2 528.5 212.3 528.7 212.3 529 212.4 529.2 212.4 529.5 212.5 529.7 212.2 530 212 530.2 211.9 530.5 212.3 530.7 212.8 531 212.9 531.2 212.7 531.5 212.7 531.7 212.5 532 212.6 532.2 212.4 532.5 212.5 532.7 212.4 533 212.4 533.2 212.7 533.5 212.8 533.7 212.7 534 212.4 534.2 212.5 534.5 213 534.7 213.1 535 212.9 535.2 212.9 535.5 212.9 535.7 212.9 536 212.5 536.2 212.3 536.5 212.5 536.7 212.4 537 212 537.2 212 537.5 211.9 537.7 211.9 538 211.8 538.2 212 538.5 212.3 538.7 212.4 539 212.5 539.2 212.5 539.5 212.3 539.7 211.6 540 211.9 540.2 212.2 540.5 212.9 540.7 212.6 541 212.3 541.2 212.3 541.5 212.3 541.7 212.2 542 212.3 542.2 212 542.5 212.2 542.7 212.3 543 212.5 543.2 212.6 543.5 212.4 543.7 212.6 544 212.3 544.2 212 544.5 212 544.7 211.9 545 212.3 545.2 212.4 545.5 212.8 545.7 212.6 546 212.6 546.2 212.4 546.5 212.1 546.7 212.1 547 212.2 547.2 212.8 547.5 212.4 547.7 212.5 548 212.6 548.2 212.5 548.5 212.3 548.7 211.9 549 212.5 549.2 212.5 549.5 212.5 549.7 212.1 550 212.2 550.2 212.1 550.5 212.4 550.7 212.6 551 212.3 551.2 212 551.5 212 551.7 211.9 552 211.9 552.2 211.8 552.5 211.7 552.7 212.2 553 212 553.2 212.4 553.5 212 553.7 212.2 554 212.4 554.2 212.5 554.5 212.4 554.7 212.4 555 212.5 555.2 212.5 555.5 211.9 555.7 212 556 212.2 556.2 212.2 556.5 212.1 556.7 211.9 557 212 557.2 211.7 557.5 211.6 557.7 211.9 558 212.8 558.2 213.3 558.5 213.2 558.7 212.5 559 212.3 559.2 212.3 559.5 212.5 559.7 212.4 560 212.4 560.2 212.2 560.5 212.4 560.7 212.6 561 212.9 561.2 212.7 561.5 212.4 561.7 212.3 562 212.3 562.2 212.4 562.5 212.4 562.7 212.5 563 212.8 563.2 212.5 563.5 212.6 563.7 212.3 564 212.6 564.2 212.2 564.5 212.2 564.7 212 565 212.6 565.2 212.4 565.5 212.8 565.7 212.3 566 212.2 566.2 212.1 566.5 212.4 566.7 212.6 567 212.7 567.2 212.5 567.5 212.5 567.7 212.7 568 212.7 568.2 212.8 568.5 212.3 568.7 212.3 569 212.3 569.2 212.4 569.5 212.1 569.7 212 570 212.2 570.2 212.6 570.5 212.5 570.7 212.3 571 212.4 571.2 212.6 571.5 212.8 571.7 212.7 572 212.3 572.2 212.3 572.5 212.2 572.7 212.5 573 212.3 573.2 212.3 573.5 212.1 573.7 212.4 574 212.6 574.2 212.4 574.5 212.4 574.7 212.1 575 211.9 575.2 211.6 575.5 211.9 575.7 212.5 576 212.7 576.2 212.5 576.5 212.2 576.7 212.6 577 212.8 577.2 212.8 577.5 212.4 577.7 212.4 578 212.7 578.2 212.8 578.5 212.6 578.7 212.6 579 212.5 579.2 213 579.5 212.6 579.7 212.5 580 212.2 580.2 212.1 580.5 212.1 580.7 212.2 581 212.5 581.2 212.6 581.5 212.5 581.7 212.4 582 212.4 582.2 212.2 582.5 212.4 582.7 212.1 583 212.3 583.2 212.3 583.5 212.4 583.7 211.8 584 211.8 584.2 212.1 584.5 212.1 584.7 212.3 585 212.1 585.2 212.1 585.5 212 585.7 212.2 586 212.5 586.2 212.7 586.5 212.7 586.7 212.6 587 212.7 587.2 212.3 587.5 212.2 587.7 212.3 588 212.8 588.2 213.2 588.5 212.6 588.7 212.3 589 211.9 589.2 212.6 589.5 212.4 589.7 212.3 590 211.8 590.2 212.1 590.5 212.3 590.7 212.3 591 212.3 591.2 212.4 591.5 212.1 591.7 211.8 592 212.1 592.2 212.5 592.5 213.1 592.7 213.1 593 213.3 593.2 213 593.5 213 593.7 212.7 594 213.1 594.2 212.9 594.5 213.1 594.7 212.6 595 212.4 595.2 212.2 595.5 212.2 595.7 212.1 596 212 596.2 212.1 596.5 212.5 596.7 213.1 597 213.2 597.2 213 597.5 212.7 597.7 212.9 598 213 598.2 213 598.5 212.8 598.7 212.8 599 212.5 599.2 212.5 599.5 212.3 599.7 212.3 600 212.2 600.2 212.5 600.5 212.9 600.7 213 601 212.8 601.2 212.6 601.5 212.6 601.7 213.1 602 212.6 602.2 212.6 602.5 212.2 602.7 212.8 603 212.4 603.2 212.2 603.5 212 603.7 212.2 604 212.1 604.2 212.3 604.5 211.9 604.7 212.4 605 212.5 605.2 212.6 605.5 212.5 605.7 212.2 606 212.3 606.2 212.2 606.5 212.3" fill="none" stroke="#6f9fb7" stroke-width="2.1" stroke-linejoin="round" clip-path="url(#ca1)"/>
<clipPath id="ca2"><rect x="104.1" y="225.7" width="501.8" height="92.4"/></clipPath>
<path d="M104.2 307.3 104.7 307.6 105.2 307.3 105.7 307.2 106.2 307.3 106.7 307.1 107.2 307.1 107.7 306.3 108.2 305.8 108.7 306.8 109.2 306.4 109.7 305.5 110.2 306.7 110.7 306.6 111.2 305.9 111.7 306.4 112.2 306.2 112.7 306.4 113.2 306.8 113.7 306.1 114.2 306.4 114.7 306.3 115.2 305.5 115.7 305.7 116.2 305.9 116.7 305.5 117.2 305.5 117.7 305.1 118.2 304.7 118.7 305.2 119.2 305.1 119.7 305.3 120.2 305.6 120.7 305.4 121.2 305.2 121.7 304.9 122.2 304.7 122.7 305.6 123.2 305.5 123.7 305 124.2 305.2 124.7 305.6 125.2 305.7 125.7 305.3 126.2 304.7 126.7 304.8 127.2 304.1 127.7 304.1 128.2 304.9 128.7 304.9 129.2 305.2 129.7 305.4 130.2 305.1 130.7 303.9 131.2 304.1 131.7 304.6 132.2 304.5 132.7 305.1 133.2 304.8 133.7 304.6 134.2 305.2 134.7 305.3 135.2 304.2 135.7 303.8 136.2 304.3 136.7 304.1 137.2 304 137.7 304 138.2 304.6 138.7 305.3 139.2 305.2 139.7 304 140.2 304.2 140.7 304.2 141.2 303.5 141.7 304.3 142.2 304.2 142.7 304 143.2 304.1 143.7 303.3 144.2 303.5 144.7 303.6 145.2 304.2 145.7 305 146.2 304.9 146.7 303.8 147.2 303.8 147.7 304.3 148.2 303.7 148.7 303.6 149.2 303.2 149.7 303.1 150.2 303.6 150.7 304.1 151.2 303.9 151.7 303.3 152.2 302.8 152.7 302.7 153.2 303.4 153.7 303.7 154.2 303.2 154.7 302.2 155.2 301.5 155.7 302.3 156.2 303.1 156.7 303.2 157.2 303 157.7 302.3 158.2 301.5 158.7 301.4 159.2 301.1 159.7 301.5 160.2 302.5 160.7 302.9 161.2 302 161.7 300.9 162.2 301.7 162.7 302.3 163.2 301.3 163.7 300.9 164.2 301.6 164.7 301.7 165.2 301.7 165.7 301.8 166.2 301.4 166.7 301.5 167.2 301.6 167.7 301.9 168.2 301.3 168.7 300.7 169.2 301 169.7 300.9 170.2 301.3 170.7 301.6 171.2 300.6 171.7 300.7 172.2 301.7 172.7 301.4 173.2 301.2 173.7 301.3 174.2 301.4 174.7 300.3 175.2 299.9 175.7 300.4 176.2 300.5 176.7 300.4 177.2 300.7 177.7 300.4 178.2 299.9 178.7 299.9 179.2 300.1 179.7 300.6 180.2 300.2 180.7 300.1 181.2 300.2 181.7 300.6 182.2 299.9 182.7 299.3 183.2 300.5 183.7 300.4 184.2 299.5 184.7 299.3 185.2 299.8 185.7 299.9 186.2 300.1 186.7 300.2 187.2 299.6 187.7 299.4 188.2 299.7 188.7 300.2 189.2 299.7 189.7 298.8 190.2 298.6 190.7 299.2 191.2 300.3 191.7 299.9 192.2 299.4 192.7 299.4 193.2 299.5 193.7 299 194.2 298.9 194.7 298.9 195.2 298.3 195.7 298.9 196.2 299.1 196.7 298.9 197.2 299.2 197.7 299.3 198.2 299.7 198.7 300 199.2 299.1 199.7 298.9 200.2 299 200.7 298.9 201.2 299.8 201.7 299.7 202.2 299.6 202.7 300.5 203.2 301 203.7 300.5 204.2 299.6 204.7 299.8 205.2 299.6 205.7 300.1 206.2 301.1 206.7 299.6 207.2 298.7 207.7 300.1 208.2 299.9 208.7 299.2 209.2 299.8 209.7 300.2 210.2 300.3 210.7 300.4 211.2 301.4 211.7 300.7 212.2 300.1 212.7 300.7 213.2 301.1 213.7 301.6 214.2 301.9 214.7 302.2 215.2 303.1 215.7 302.8 216.2 301.9 216.7 302.9 217.2 303.1 217.7 303 218.2 302.8 218.7 303.2 219.2 303.9 219.7 304 220.2 303.9 220.7 303.6 221.2 303.6 221.7 304.3 222.2 303.8 222.7 303.3 223.2 303.9 223.7 304.1 224.2 304 224.7 303 225.2 303 225.7 302.6 226.2 302.7 226.7 303.2 227.2 302.4 227.7 302.2 228.2 302.5 228.7 302 229.2 302.3 229.7 302.6 230.2 302.4 230.7 302.6 231.2 302.6 231.7 302 232.2 301.5 232.7 301.8 233.2 301.1 233.7 301.4 234.2 301.4 234.7 300.7 235.2 300.6 235.7 300.4 236.2 300.3 236.7 300.5 237.2 300.8 237.7 300.6 238.2 299.7 238.7 299.8 239.2 299.8 239.7 298.9 240.2 298.4 240.7 299.2 241.2 299.4 241.7 299.2 242.2 298.6 242.7 297.4 243.2 298.3 243.7 298.4 244.2 297.4 244.7 297.2 245.2 296.7 245.7 297 246.2 296.7 246.7 296.4 247.2 296.3 247.7 296.8 248.2 297.3 248.7 296.5 249.2 295.4 249.7 294.9 250.2 295.1 250.7 294.4 251.2 294.1 251.7 294.6 252.2 294.7 252.7 294 253.2 293.6 253.7 293.4 254.2 293.3 254.7 293.3 255.2 292.9 255.7 292.5 256.2 291.9 256.7 292.1 257.2 293 257.7 292.7 258.2 292.9 258.7 292.6 259.2 292 259.7 292.5 260.2 292.5 260.7 291.6 261.2 291.5 261.7 291.5 262.2 291.6 262.7 291.9 263.2 291.2 263.7 291 264.2 291.6 264.7 291.7 265.2 291.2 265.7 290.5 266.2 289.8 266.7 289.5 267.2 289.9 267.7 289.7 268.2 289.3 268.7 290.2 269.2 289.3 269.7 288.8 270.2 289.1 270.7 288.9 271.2 289.5 271.7 289.1 272.2 288.4 272.7 288.6 273.2 289.2 273.7 289.2 274.2 288.8 274.7 289.2 275.2 289.1 275.7 288.3 276.2 288.8 276.7 290.1 277.2 289.9 277.7 289 278.2 288.9 278.7 288.7 279.2 288.6 279.7 288.9 280.2 289 280.7 288.5 281.2 289 281.7 288.6 282.2 288.4 282.7 288.7 283.2 287.9 283.7 287.8 284.2 287.9 284.7 287.9 285.2 287.7 285.7 288.2 286.2 288.5 286.7 288.1 287.2 287.1 287.7 286.4 288.2 287.1 288.7 287.3 289.2 286.7 289.7 286.3 290.2 286.5 290.7 285.7 291.2 284.8 291.7 284.8 292.2 285.4 292.7 285.2 293.2 284.5 293.7 285.4 294.2 285.2 294.7 284.6 295.2 284.6 295.7 284.6 296.2 285.2 296.7 284.4 297.2 283.3 297.7 284.2 298.2 285 298.7 284.1 299.2 283.5 299.7 283.6 300.2 283.1 300.7 282 301.2 280.9 301.7 281.3 302.2 281.7 302.7 281.3 303.2 280.7 303.7 281.1 304.2 281.2 304.7 281.5 305.2 281.2 305.7 280.1 306.2 280.2 306.7 279.7 307.2 278.8 307.7 278.5 308.2 278.5 308.7 278.2 309.2 278.7 309.7 278.3 310.2 277.5 310.7 277.7 311.2 277.1 311.7 276.1 312.2 275.9 312.7 276.4 313.2 276.1 313.7 275.7 314.2 275 314.7 274.7 315.2 275.5 315.7 276.1 316.2 276.6 316.7 276.5 317.2 276.4 317.7 276.3 318.2 276.5 318.7 277 319.2 276.2 319.7 275.6 320.2 274.9 320.7 273.6 321.2 272.9 321.7 273.2 322.2 272 322.7 270.7 323.2 270.7 323.7 270.5 324.2 270.1 324.7 270.4 325.2 271.3 325.7 270.9 326.2 270.5 326.7 270.7 327.2 271.3 327.7 270.5 328.2 270.2 328.7 270 329.2 269.1 329.7 268.2 330.2 268 330.7 267.7 331.2 266.9 331.7 265.9 332.2 264.6 332.7 265.4 333.2 266.5 333.7 266.9 334.2 267.9 334.7 268.7 335.2 268.8 335.7 268.5 336.2 268 336.7 268.7 337.2 269.2 337.7 268 338.2 267.4 338.7 267.1 339.2 266.3 339.7 266.5 340.2 265.8 340.7 265.5 341.2 264.9 341.7 259.6 342 252 342.2 257.4 342.7 264.3 343.2 267.3 343.7 268.3 344.2 268 344.7 268 345.2 268.3 345.7 268.1 346.2 267.8 346.7 267.6 347.2 267.5 347.7 267.9 348.2 267.5 348.7 266.7 349.2 266.5 349.7 265.1 350.2 264.8 350.7 265.4 351.2 265.1 351.7 264.8 352.2 264.8 352.7 266 353.2 267.6 353.7 269.8 354.2 272.5 354.7 273 355.2 273.4 355.7 274 356.2 274.1 356.7 274.6 357.2 274.6 357.7 274.7 358.2 275.6 358.7 275.8 359.2 276 359.7 276.2 360.2 276.1 360.7 275.8 361.2 276.3 361.7 276.5 362.2 276.1 362.7 276.2 363.2 276.6 363.7 276.8 364.2 277 364.7 278.2 365.2 278.2 365.7 276.7 366.2 277.1 366.7 278.1 367.2 278 367.7 278.2 368.2 278.5 368.7 278.9 369.2 278.5 369.7 277.8 370.2 277.8 370.7 278.7 371.2 278.1 371.7 278 372.2 278.1 372.7 278.6 373.2 280.2 373.7 280.2 374.2 279.5 374.7 279.6 375.2 280.4 375.7 280.8 376.2 281 376.7 280.9 377.2 280.1 377.7 279.8 378.2 280.5 378.7 280.7 379.2 279.9 379.7 279.9 380.2 280.5 380.7 280.8 381.2 281.3 381.7 280.8 382.2 280.5 382.7 281.3 383.2 281.3 383.7 281.4 384.2 281.6 384.7 281.4 385.2 282.2 385.7 282.6 386.2 282.2 386.7 282.9 387.2 283.1 387.7 282.7 388.2 282.9 388.7 284.2 389.2 284.6 389.7 283.9 390.2 283.6 390.7 283.8 391.2 284.4 391.7 283.8 392.2 283.7 392.7 284.8 393.2 285.5 393.7 285.1 394.2 285.4 394.7 285.2 395.2 284.8 395.7 285.4 396.2 284.7 396.7 285 397.2 285 397.7 284.5 398.2 285.1 398.7 285 399.2 285.6 399.7 286 400.2 285.2 400.7 285.6 401.2 286.2 401.7 285.8 402.2 285.7 402.7 286.6 403.2 287.2 403.7 286.4 404.2 286.6 404.7 287.7 405.2 287.9 405.7 287.4 406.2 286.8 406.7 287.1 407.2 287.3 407.7 287.3 408.2 287.5 408.7 287.6 409.2 287.7 409.7 287.9 410.2 288.3 410.7 288.3 411.2 288.1 411.7 288.9 412.2 289.6 412.7 289.3 413.2 288.7 413.7 288.9 414.2 289.2 414.7 289.3 415.2 289.6 415.7 290.4 416.2 290.4 416.7 289.2 417.2 289.7 417.7 290.6 418.2 290.8 418.7 289.5 419.2 288.8 419.7 289.5 420.2 289.2 420.7 289.4 421.2 290 421.7 290.2 422.2 290.3 422.7 289.9 423.2 290.3 423.7 290.5 424.2 288.9 424.7 288.8 425.2 289.7 425.7 290 426.2 290.2 426.7 290.1 427.2 290.8 427.7 290.8 428.2 289.8 428.7 290.3 429.2 291.2 429.7 291.1 430.2 291 430.7 290.9 431.2 290.5 431.7 290.5 432.2 290.7 432.7 291.6 433.2 292 433.7 292.2 434.2 292.3 434.7 291.5 435.2 291.7 435.7 292.3 436.2 292.8 436.7 292.1 437.2 291.5 437.7 292.5 438.2 292.5 438.7 292.5 439.2 292.8 439.7 293.4 440.2 294 440.7 292.8 441.2 291.8 441.7 292.4 442.2 293.1 442.7 293.4 443.2 293.4 443.7 293.8 444.2 294.4 444.7 294.3 445.2 293.9 445.7 294 446.2 293.9 446.7 294.3 447.2 295 447.7 294.4 448.2 294.8 448.7 295.2 449.2 295 449.7 295.1 450.2 294.8 450.7 295.2 451.2 295 451.7 294.7 452.2 294.7 452.7 295 453.2 295.5 453.7 295.3 454.2 295.2 454.7 295.7 455.2 296.1 455.7 295.8 456.2 295.6 456.7 296.5 457.2 297.3 457.7 296.3 458.2 296.3 458.7 297 459.2 296.7 459.7 296.8 460.2 296.2 460.7 297.1 461.2 298.4 461.7 297.6 462.2 296.9 462.7 297 463.2 296.9 463.7 297.1 464.2 297.4 464.7 296.9 465.2 296.8 465.7 297 466.2 297.1 466.7 297.3 467.2 297.8 467.7 297.9 468.2 297.1 468.7 297.9 469.2 298.4 469.7 298.4 470.2 298.8 470.7 298.5 471.2 298.2 471.7 298.1 472.2 298.3 472.7 298.3 473.2 298.7 473.7 298.6 474.2 298.8 474.7 298.4 475.2 297.8 475.7 298.5 476.2 299.2 476.7 299.5 477.2 299.9 477.7 299.7 478.2 299.5 478.7 299.4 479.2 299.3 479.7 299.2 480.2 299.2 480.7 299.1 481.2 299 481.7 299.6 482.2 299.9 482.7 300.1 483.2 299.8 483.7 299.3 484.2 299.6 484.7 299.5 485.2 299.1 485.7 299.7 486.2 299.9 486.7 300.1 487.2 300.3 487.7 299.8 488.2 299.4 488.7 300.1 489.2 300.5 489.7 299.8 490.2 299.3 490.7 299.2 491.2 299.7 491.7 300.7 492.2 300.5 492.7 300.2 493.2 300.7 493.7 299.4 494.2 298.8 494.7 300.4 495.2 300.2 495.7 300.4 496.2 301.2 496.7 300.2 497.2 300.9 497.7 301.6 498.2 301.5 498.7 301.7 499.2 300.8 499.7 301.2 500.2 302.3 500.7 302.4 501.2 301.3 501.7 301.1 502.2 301.1 502.7 300.7 503.2 301.7 503.7 301.5 504.2 302 504.7 302 505.2 300.6 505.7 301.5 506.2 302 506.7 301.7 507.2 301.4 507.7 301.8 508.2 302.3 508.7 302 509.2 301.7 509.7 301.2 510.2 301.6 510.7 301.4 511.2 301.2 511.7 302.3 512.2 302.8 512.7 302.5 513.2 301.3 513.7 301.7 514.2 303.1 514.7 302.9 515.2 303.1 515.7 303.6 516.2 302.5 516.7 302.1 517.2 302.6 517.7 303.3 518.2 303.9 518.7 303.4 519.2 303.3 519.7 303.6 520.2 303.1 520.7 302.8 521.2 303 521.7 303 522.2 302.9 522.7 303.2 523.2 302.9 523.7 302.4 524.2 303.2 524.7 304.3 525.2 304.7 525.7 303.5 526.2 303 526.7 303.3 527.2 303 527.7 303.3 528.2 303.7 528.7 304 529.2 303 529.7 302.6 530.2 303.9 530.7 304.2 531.2 303.2 531.7 302.8 532.2 303.2 532.7 304 533.2 305 533.7 304.2 534.2 303.8 534.7 304.1 535.2 304.2 535.7 304.2 536.2 303.6 536.7 303.5 537.2 303.7 537.7 304.5 538.2 304.5 538.7 304.2 539.2 304.2 539.7 303.8 540.2 304.2 540.7 304.3 541.2 305 541.7 305.7 542.2 304.6 542.7 304.3 543.2 305.3 543.7 304.7 544.2 304 544.7 305 545.2 304.9 545.7 304.6 546.2 304.9 546.7 304.7 547.2 304.4 547.7 304.3 548.2 304.5 548.7 305.3 549.2 305.7 549.7 305.1 550.2 304.8 550.7 305.1 551.2 304.5 551.7 303.8 552.2 304.1 552.7 304.2 553.2 304 553.7 304.5 554.2 304.9 554.7 305.2 555.2 305.4 555.7 304.8 556.2 305 556.7 305.3 557.2 305.1 557.7 305.2 558.2 305.8 558.7 305.4 559.2 305.4 559.7 305.5 560.2 305.4 560.7 305.5 561.2 305 561.7 305.1 562.2 304.9 562.7 304.2 563.2 304.6 563.7 305.1 564.2 304.7 564.7 305.7 565.2 306.3 565.7 305.2 566.2 305.2 566.7 305.7 567.2 305.4 567.7 305.1 568.2 304.6 568.7 304.8 569.2 306.2 569.7 306.6 570.2 306.3 570.7 305.6 571.2 304.9 571.7 305.4 572.2 306 572.7 305.6 573.2 305.4 573.7 305.8 574.2 306.2 574.7 305.7 575.2 305.4 575.7 305 576.2 304.6 576.7 305.4 577.2 305.7 577.7 305.2 578.2 305.5 578.7 306.3 579.2 305.9 579.7 305.3 580.2 305.6 580.7 306.6 581.2 307.1 581.7 306.3 582.2 305.4 582.7 305.6 583.2 306.4 583.7 306 584.2 305.6 584.7 305.5 585.2 305.2 585.7 305.2 586.2 305.7 586.7 305.5 587.2 305.6 587.7 305.3 588.2 305.9 588.7 306.4 589.2 305.6 589.7 305.9 590.2 306.6 590.7 306.2 591.2 305.5 591.7 305.6 592.2 306.3 592.7 306.6 593.2 306.8 593.7 306.9 594.2 306 594.7 305.8 595.2 305.6 595.7 306 596.2 306.8 596.7 306.8 597.2 306.7 597.7 306.4 598.2 306.2 598.7 305.1 599.2 305.3 599.7 307.3 600.2 307.9 600.7 306.9 601.2 306.5 601.7 306.8 602.2 306.5 602.7 306.3 603.2 306.7 603.7 306.5 604.2 306.5 604.7 307.2 605.2 307.3 605.7 307 606.2 306.6" fill="none" stroke="#f5a95a" stroke-width="2.1" stroke-linejoin="round" clip-path="url(#ca2)"/>
<clipPath id="ca3"><rect x="104.1" y="320.3" width="501.8" height="92.4"/></clipPath>
<path d="M104.2 400.1 104.7 399.5 105.2 399 105.7 399.6 106.2 399.7 106.7 398.7 107.2 399.1 107.7 399.8 108.2 399.9 108.7 399.5 109.2 399.5 109.7 399.4 110.2 398.6 110.7 398.5 111.2 398.9 111.7 398.6 112.2 398.3 112.7 398.8 113.2 398.7 113.7 398.6 114.2 398.7 114.7 398.3 115.2 398.4 115.7 398.9 116.2 397.9 116.7 397.4 117.2 398.4 117.7 398.8 118.2 397.8 118.7 397.6 119.2 398.8 119.7 399 120.2 398.8 120.7 398.3 121.2 398 121.7 397.6 122.2 397.5 122.7 398.8 123.2 398.7 123.7 397.5 124.2 397.6 124.7 397.2 125.2 397.8 125.7 398.8 126.2 397.8 126.7 397.3 127.2 397.1 127.7 397.2 128.2 397.5 128.7 396.8 129.2 397.2 129.7 397.6 130.2 396.7 130.7 397.2 131.2 397.8 131.7 397.2 132.2 396.6 132.7 397.2 133.2 397.3 133.7 396.9 134.2 397.5 134.7 396.9 135.2 395.8 135.7 395.9 136.2 396.2 136.7 396.5 137.2 397 137.7 396.8 138.2 397.1 138.7 397.3 139.2 395.8 139.7 395.7 140.2 396.7 140.7 397 141.2 396.4 141.7 395.9 142.2 397 142.7 397 143.2 395.8 143.7 395.1 144.2 395.2 144.7 395.9 145.2 395.6 145.7 395.9 146.2 396 146.7 394.7 147.2 395.2 147.7 395.8 148.2 395.4 148.7 395.8 149.2 395.7 149.7 395.4 150.2 395.4 150.7 395.6 151.2 395.8 151.7 395.1 152.2 395.3 152.7 395.2 153.2 395.1 153.7 395 154.2 395 154.7 395 155.2 394.5 155.7 394.7 156.2 395 156.7 394.3 157.2 394 157.7 393.7 158.2 393.8 158.7 394.7 159.2 395.5 159.7 395.2 160.2 394.7 160.7 395 161.2 394.9 161.7 393.6 162.2 393.1 162.7 393.8 163.2 394.1 163.7 393.9 164.2 393.4 164.7 392.6 165.2 393 165.7 394.1 166.2 393.7 166.7 393.4 167.2 393.4 167.7 393 168.2 393 168.7 393.3 169.2 393.1 169.7 392.7 170.2 393.4 170.7 393.2 171.2 392.4 171.7 392.4 172.2 392.8 172.7 392.1 173.2 392 173.7 392.3 174.2 392.5 174.7 392.4 175.2 392.1 175.7 392.4 176.2 391.6 176.7 391.7 177.2 392.3 177.7 391.5 178.2 391.5 178.7 392.2 179.2 391.8 179.7 391.1 180.2 391.8 180.7 392.6 181.2 392.7 181.7 392.1 182.2 390.9 182.7 390.5 183.2 390.6 183.7 390.5 184.2 390.8 184.7 391.5 185.2 390.9 185.7 390.9 186.2 390.9 186.7 390 187.2 389.8 187.7 390.2 188.2 390.6 188.7 390.3 189.2 389.2 189.7 388.9 190.2 390 190.7 389.1 191.2 389.7 191.7 390.7 192.2 390.3 192.7 390 193.2 389.9 193.7 390.4 194.2 391 194.7 390 195.2 389.8 195.7 389.7 196.2 388.9 196.7 389.2 197.2 389.1 197.7 388.6 198.2 388.7 198.7 389 199.2 389.2 199.7 389.8 200.2 390 200.7 389.9 201.2 390.5 201.7 390.7 202.2 390.5 202.7 391 203.2 390.8 203.7 390.5 204.2 390.8 204.7 390.8 205.2 391.1 205.7 391 206.2 390.5 206.7 390.8 207.2 390.9 207.7 391 208.2 391 208.7 390.3 209.2 391 209.7 391.9 210.2 391.9 210.7 391.9 211.2 392 211.7 392.1 212.2 392.6 212.7 393.2 213.2 392.7 213.7 391.9 214.2 391.4 214.7 392.4 215.2 393.2 215.7 393.4 216.2 393.6 216.7 394.3 217.2 394.6 217.7 394.2 218.2 394.3 218.7 394.2 219.2 394.8 219.7 395.3 220.2 395.2 220.7 395.5 221.2 395.6 221.7 395.7 222.2 395.8 222.7 394.9 223.2 394.2 223.7 394.9 224.2 395 224.7 394.7 225.2 394.4 225.7 393.1 226.2 392.5 226.7 393 227.2 393.6 227.7 394.6 228.2 394.9 228.7 394.2 229.2 394.1 229.7 393.1 230.2 392.7 230.7 393.1 231.2 393.7 231.7 393.4 232.2 392 232.7 392.1 233.2 392.5 233.7 392.4 234.2 392.4 234.7 392.3 235.2 391.9 235.7 391.5 236.2 392.5 236.7 392.3 237.2 391.5 237.7 391.2 238.2 390.2 238.7 390.8 239.2 391.3 239.7 391.4 240.2 391.5 240.7 391 241.2 390.2 241.7 390.7 242.2 390.8 242.7 390.8 243.2 390.9 243.7 390.3 244.2 390.1 244.7 389.8 245.2 389.3 245.7 389.9 246.2 389.5 246.7 387.9 247.2 388.2 247.7 388.4 248.2 388.5 248.7 388.5 249.2 388.4 249.7 388.4 250.2 387.5 250.7 387.2 251.2 387.6 251.7 387.3 252.2 386.6 252.7 386.6 253.2 386.9 253.7 387.3 254.2 387.1 254.7 386.9 255.2 386.5 255.7 386.7 256.2 387.4 256.7 386.3 257.2 385.5 257.7 385.5 258.2 385.4 258.7 385.2 259.2 384.6 259.7 384.1 260.2 384 260.7 384.4 261.2 384.8 261.7 384.8 262.2 384.1 262.7 383.5 263.2 382.9 263.7 383.2 264.2 383.6 264.7 383.4 265.2 383.5 265.7 383.3 266.2 382.8 266.7 382.3 267.2 381.7 267.7 381.4 268.2 381.8 268.7 382.7 269.2 382.2 269.7 381.3 270.2 382.4 270.7 382.2 271.2 380.7 271.7 380.5 272.2 380.3 272.7 379.4 273.2 379.6 273.7 379.5 274.2 378.8 274.7 379.1 275.2 379.3 275.7 379.2 276.2 378.7 276.7 378.2 277.2 378.3 277.7 378.3 278.2 377.8 278.7 377.2 279.2 377 279.7 377.4 280.2 376.9 280.7 376.8 281.2 377.2 281.7 377.4 282.2 377 282.7 376.1 283.2 376.1 283.7 376.2 284.2 375.1 284.7 375.5 285.2 376.4 285.7 375.9 286.2 375.4 286.7 375.3 287.2 375.3 287.7 375.6 288.2 375.9 288.7 375.6 289.2 374.8 289.7 373.8 290.2 373.9 290.7 373.9 291.2 374.5 291.7 374.7 292.2 373.5 292.7 373.2 293.2 374.1 293.7 373.9 294.2 373.3 294.7 372.6 295.2 372.1 295.7 372.5 296.2 372.4 296.7 372.4 297.2 372.4 297.7 372.7 298.2 371.8 298.7 371.2 299.2 372 299.7 371.9 300.2 371.9 300.7 371.6 301.2 370.9 301.7 370.5 302.2 370.8 302.7 370.5 303.2 369.9 303.7 370.2 304.2 370.4 304.7 370.2 305.2 369.4 305.7 369.6 306.2 369.4 306.7 368.7 307.2 368.3 307.7 368.4 308.2 369 308.7 368.1 309.2 367.8 309.7 368.4 310.2 368.1 310.7 367 311.2 367 311.7 367.7 312.2 366.8 312.7 366.7 313.2 367.2 313.7 367 314.2 366.5 314.7 366.3 315.2 366.6 315.7 366.3 316.2 366 316.7 365.8 317.2 365.5 317.7 364.6 318.2 364 318.7 363.2 319.2 363.3 319.7 363.4 320.2 363 320.7 362.7 321.2 362.5 321.7 362.3 322.2 361.6 322.7 361.6 323.2 362.2 323.7 361.3 324.2 360 324.7 360.2 325.2 359.7 325.7 359.6 326.2 359.3 326.7 358.2 327.2 358.1 327.7 359.1 328.2 359 328.7 358.9 329.2 359.1 329.7 359.6 330.2 360.7 330.7 361 331.2 361.8 331.7 361.8 332.2 361.5 332.7 361.9 333.2 362 333.7 361.6 334.2 361.8 334.7 362.1 335.2 362.5 335.7 363.4 336.2 363.4 336.7 363.6 337.2 363.9 337.7 363.3 338.2 362.4 338.7 356.9 338.8 353.5 339.2 358.9 339.7 361.9 340.2 363.3 340.7 363.7 341.2 363.8 341.7 363.2 342.2 362.4 342.7 361.5 343.2 361.4 343.7 362 344.2 361.5 344.7 361.2 345.2 360.9 345.7 360.6 346.2 360.8 346.7 361.2 347.2 360.7 347.7 360.7 348.2 362 348.7 362.5 349.2 362.8 349.7 362.2 350.2 362.2 350.7 363.6 351.2 364.3 351.7 364.3 352.2 365.5 352.7 366.9 353.2 365.9 353.7 365.6 354.2 366.3 354.7 366.8 355.2 367.1 355.7 366.3 356.2 365.8 356.7 366.2 357.2 366.8 357.7 366.5 358.2 365.9 358.7 366.3 359.2 366.6 359.7 366.8 360.2 366.9 360.7 366.8 361.2 365.8 361.7 364.9 362.2 365.1 362.7 365.3 363.2 366.1 363.7 366.3 364.2 366.4 364.7 366.3 365.2 366.6 365.7 367.2 366.2 366.3 366.7 365.6 367.2 366.1 367.7 366.9 368.2 367.5 368.7 367.9 369.2 367.1 369.7 366.6 370.2 367.2 370.7 367.1 371.2 367.1 371.7 366.6 372.2 366.9 372.7 367.7 373.2 367.3 373.7 368.2 374.2 368.6 374.7 368.3 375.2 368.5 375.7 368.1 376.2 368.3 376.7 369.2 377.2 369.2 377.7 369.5 378.2 370.7 378.7 371.2 379.2 370.6 379.7 370.1 380.2 370.8 380.7 370.7 381.2 370.2 381.7 371.5 382.2 372.2 382.7 371.9 383.2 371.8 383.7 372.8 384.2 374.3 384.7 373.3 385.2 372.6 385.7 372.7 386.2 372.7 386.7 373.5 387.2 374 387.7 373.5 388.2 373.3 388.7 374.7 389.2 375 389.7 374.6 390.2 374.6 390.7 374.2 391.2 373.7 391.7 373.5 392.2 373.4 392.7 373.4 393.2 373.9 393.7 374.7 394.2 374.5 394.7 374.5 395.2 374.5 395.7 375.4 396.2 376.1 396.7 375.3 397.2 376.3 397.7 376.3 398.2 375.8 398.7 376 399.2 376.3 399.7 376.2 400.2 376.8 400.7 377.5 401.2 377.1 401.7 377.2 402.2 377.2 402.7 376.7 403.2 376.8 403.7 377.3 404.2 376.9 404.7 376.8 405.2 377.6 405.7 377.5 406.2 377.6 406.7 377.7 407.2 377.8 407.7 378.3 408.2 378.5 408.7 378.4 409.2 377.6 409.7 377 410.2 379.3 410.7 379.9 411.2 378.3 411.7 378.3 412.2 379.3 412.7 380.4 413.2 380.3 413.7 379.7 414.2 379.9 414.7 380.2 415.2 380.5 415.7 380.8 416.2 379.6 416.7 379.7 417.2 380.4 417.7 381.5 418.2 381.5 418.7 380.6 419.2 381.1 419.7 381 420.2 380.7 420.7 380.8 421.2 380.9 421.7 380.5 422.2 380.2 422.7 380.4 423.2 380.3 423.7 380.3 424.2 380.8 424.7 381.3 425.2 381.7 425.7 381.6 426.2 381.8 426.7 381.4 427.2 381.6 427.7 381.8 428.2 381.4 428.7 381.5 429.2 381.9 429.7 381.9 430.2 382 430.7 382.2 431.2 381.9 431.7 382.3 432.2 382.2 432.7 382.6 433.2 382.8 433.7 382.3 434.2 383.1 434.7 382.8 435.2 382.8 435.7 383.5 436.2 383.3 436.7 383.4 437.2 383.1 437.7 383.8 438.2 384.4 438.7 384.2 439.2 384.4 439.7 384.6 440.2 384.5 440.7 383.9 441.2 383.3 441.7 383.3 442.2 383.7 442.7 384.7 443.2 384.5 443.7 384.1 444.2 384.9 444.7 385 445.2 384.7 445.7 384.6 446.2 384.8 446.7 385.1 447.2 384.8 447.7 384.9 448.2 385.4 448.7 386 449.2 385.5 449.7 385.4 450.2 385.4 450.7 384.6 451.2 384.8 451.7 385.6 452.2 385.9 452.7 386.1 453.2 385.4 453.7 385.9 454.2 387.1 454.7 386.8 455.2 386 455.7 386 456.2 386.5 456.7 386.2 457.2 386.4 457.7 386.1 458.2 386.6 458.7 387.6 459.2 387.6 459.7 387.8 460.2 386.9 460.7 386.3 461.2 386.9 461.7 386.6 462.2 387.1 462.7 388.6 463.2 388 463.7 387.3 464.2 387.8 464.7 387.7 465.2 387.8 465.7 388.1 466.2 387.9 466.7 387.5 467.2 388.5 467.7 388.7 468.2 388.1 468.7 387.5 469.2 387.8 469.7 388.7 470.2 388.7 470.7 389.2 471.2 388.4 471.7 388.2 472.2 388.4 472.7 387.8 473.2 387.7 473.7 388.5 474.2 389.3 474.7 388.9 475.2 389 475.7 388.5 476.2 388.3 476.7 389.3 477.2 389.4 477.7 389.3 478.2 389 478.7 389.2 479.2 389.8 479.7 389.9 480.2 390.7 480.7 390.7 481.2 390 481.7 390.2 482.2 390 482.7 390.6 483.2 391.1 483.7 390.6 484.2 390.8 484.7 390.4 485.2 390.3 485.7 390.8 486.2 391.7 486.7 392.4 487.2 392.4 487.7 391.9 488.2 391.4 488.7 391.8 489.2 391.6 489.7 390.9 490.2 391.9 490.7 392.5 491.2 392.2 491.7 391.4 492.2 391.2 492.7 391.7 493.2 391.7 493.7 392.1 494.2 392.1 494.7 391.6 495.2 392.7 495.7 393.4 496.2 392.3 496.7 393 497.2 393.7 497.7 393.1 498.2 391.9 498.7 392.4 499.2 393.5 499.7 393.5 500.2 394.2 500.7 393.3 501.2 393.4 501.7 394.3 502.2 393.7 502.7 392.5 503.2 393.3 503.7 394.3 504.2 393.9 504.7 393.4 505.2 393.4 505.7 394.2 506.2 394.6 506.7 394.1 507.2 392.7 507.7 392.9 508.2 393.4 508.7 393.8 509.2 394.2 509.7 394.2 510.2 394.8 510.7 395.4 511.2 395 511.7 393.8 512.2 393.9 512.7 394.4 513.2 394.5 513.7 394.5 514.2 394.6 514.7 393.9 515.2 394.2 515.7 395.3 516.2 395.2 516.7 395 517.2 395.3 517.7 394.8 518.2 394.4 518.7 395.3 519.2 395.3 519.7 395.1 520.2 395.6 520.7 395.6 521.2 395 521.7 394.9 522.2 395.4 522.7 395.2 523.2 395.1 523.7 395.4 524.2 395.5 524.7 396 525.2 396.3 525.7 396 526.2 395.9 526.7 396.2 527.2 395.9 527.7 395.7 528.2 395.6 528.7 396 529.2 396.5 529.7 395.6 530.2 395.5 530.7 396.3 531.2 396.6 531.7 395.7 532.2 396.3 532.7 397.1 533.2 396.6 533.7 396.5 534.2 396.1 534.7 395.7 535.2 396.1 535.7 396.6 536.2 396.5 536.7 396.9 537.2 397.1 537.7 396.5 538.2 396.3 538.7 397.1 539.2 396.8 539.7 397.2 540.2 397.6 540.7 397.8 541.2 398.2 541.7 396.7 542.2 396.7 542.7 397.4 543.2 397.1 543.7 397.1 544.2 397.3 544.7 396.1 545.2 396.4 545.7 397.5 546.2 397.3 546.7 397.7 547.2 397.7 547.7 397 548.2 397.3 548.7 397.7 549.2 397.5 549.7 397.4 550.2 397.3 550.7 397.2 551.2 397.8 551.7 397.8 552.2 397.6 552.7 397.4 553.2 397.1 553.7 397.7 554.2 398 554.7 398.3 555.2 398.8 555.7 399.8 556.2 398.8 556.7 398 557.2 397.8 557.7 397.3 558.2 397.6 558.7 398.3 559.2 398.6 559.7 398.2 560.2 398.4 560.7 398.1 561.2 397.4 561.7 397.8 562.2 397.5 562.7 398.1 563.2 398.7 563.7 398.1 564.2 398.3 564.7 398 565.2 397.8 565.7 397.7 566.2 397.7 566.7 398.4 567.2 399.1 567.7 399.1 568.2 399 568.7 399 569.2 397.9 569.7 398.2 570.2 398.9 570.7 398.4 571.2 398.7 571.7 398.6 572.2 398.1 572.7 398.8 573.2 399.2 573.7 398.7 574.2 398.6 574.7 398.8 575.2 399 575.7 398.9 576.2 397.9 576.7 397.8 577.2 399.2 577.7 399.1 578.2 398.4 578.7 399.1 579.2 399.1 579.7 398.4 580.2 398.5 580.7 398.8 581.2 398.5 581.7 398.6 582.2 398.4 582.7 397.9 583.2 398 583.7 398.5 584.2 399 584.7 398.8 585.2 399.2 585.7 399.7 586.2 399.3 586.7 399.6 587.2 400.1 587.7 400 588.2 399.2 588.7 399.3 589.2 400 589.7 399.8 590.2 399.4 590.7 399.3 591.2 399.5 591.7 398.7 592.2 399.2 592.7 399.9 593.2 400.1 593.7 400.1 594.2 399.1 594.7 399.4 595.2 399.8 595.7 399.8 596.2 399.6 596.7 399.1 597.2 399.1 597.7 399 598.2 399.4 598.7 399.2 599.2 399.1 599.7 400 600.2 399.6 600.7 399.1 601.2 399.2 601.7 399.2 602.2 399.5 602.7 400 603.2 400.2 603.7 399.7 604.2 399.6 604.7 399.7 605.2 399 605.7 398.8 606.2 398.6" fill="none" stroke="#cb4a39" stroke-width="2.1" stroke-linejoin="round" clip-path="url(#ca3)"/>
<rect x="103.00" y="35.40" width="504.00" height="94.60" fill="none" stroke="#000" stroke-width="2.6"/>
<line x1="103" y1="56.4" x2="114.8" y2="56.4" stroke="#000" stroke-width="2.5"/>
<text transform="translate(59.31,62.34) scale(1.0700,1)" font-size="19.80" fill="#000">-30</text>
<line x1="103" y1="88" x2="114.8" y2="88" stroke="#000" stroke-width="2.5"/>
<text transform="translate(59.31,93.87) scale(1.0700,1)" font-size="19.80" fill="#000">-60</text>
<line x1="103" y1="119.5" x2="114.8" y2="119.5" stroke="#000" stroke-width="2.5"/>
<text transform="translate(59.31,125.40) scale(1.0700,1)" font-size="19.80" fill="#000">-90</text>
<line x1="103" y1="40.7" x2="108.8" y2="40.7" stroke="#000" stroke-width="2.5"/>
<line x1="103" y1="72.2" x2="108.8" y2="72.2" stroke="#000" stroke-width="2.5"/>
<line x1="103" y1="103.7" x2="108.8" y2="103.7" stroke="#000" stroke-width="2.5"/>
<line x1="187" y1="130" x2="187" y2="118.2" stroke="#000" stroke-width="2.5"/>
<line x1="327" y1="130" x2="327" y2="118.2" stroke="#000" stroke-width="2.5"/>
<line x1="467" y1="130" x2="467" y2="118.2" stroke="#000" stroke-width="2.5"/>
<line x1="117" y1="130" x2="117" y2="124.2" stroke="#000" stroke-width="2.5"/>
<line x1="257" y1="130" x2="257" y2="124.2" stroke="#000" stroke-width="2.5"/>
<line x1="397" y1="130" x2="397" y2="124.2" stroke="#000" stroke-width="2.5"/>
<line x1="537" y1="130" x2="537" y2="124.2" stroke="#000" stroke-width="2.5"/>
<rect x="103.00" y="130.00" width="504.00" height="94.60" fill="none" stroke="#000" stroke-width="2.6"/>
<line x1="103" y1="151" x2="114.8" y2="151" stroke="#000" stroke-width="2.5"/>
<text transform="translate(59.31,156.94) scale(1.0700,1)" font-size="19.80" fill="#000">-30</text>
<line x1="103" y1="182.6" x2="114.8" y2="182.6" stroke="#000" stroke-width="2.5"/>
<text transform="translate(59.31,188.47) scale(1.0700,1)" font-size="19.80" fill="#000">-60</text>
<line x1="103" y1="214.1" x2="114.8" y2="214.1" stroke="#000" stroke-width="2.5"/>
<text transform="translate(59.31,220.00) scale(1.0700,1)" font-size="19.80" fill="#000">-90</text>
<line x1="103" y1="135.3" x2="108.8" y2="135.3" stroke="#000" stroke-width="2.5"/>
<line x1="103" y1="166.8" x2="108.8" y2="166.8" stroke="#000" stroke-width="2.5"/>
<line x1="103" y1="198.3" x2="108.8" y2="198.3" stroke="#000" stroke-width="2.5"/>
<line x1="187" y1="224.6" x2="187" y2="212.8" stroke="#000" stroke-width="2.5"/>
<line x1="327" y1="224.6" x2="327" y2="212.8" stroke="#000" stroke-width="2.5"/>
<line x1="467" y1="224.6" x2="467" y2="212.8" stroke="#000" stroke-width="2.5"/>
<line x1="117" y1="224.6" x2="117" y2="218.8" stroke="#000" stroke-width="2.5"/>
<line x1="257" y1="224.6" x2="257" y2="218.8" stroke="#000" stroke-width="2.5"/>
<line x1="397" y1="224.6" x2="397" y2="218.8" stroke="#000" stroke-width="2.5"/>
<line x1="537" y1="224.6" x2="537" y2="218.8" stroke="#000" stroke-width="2.5"/>
<rect x="103.00" y="224.60" width="504.00" height="94.60" fill="none" stroke="#000" stroke-width="2.6"/>
<line x1="103" y1="245.6" x2="114.8" y2="245.6" stroke="#000" stroke-width="2.5"/>
<text transform="translate(59.31,251.54) scale(1.0700,1)" font-size="19.80" fill="#000">-30</text>
<line x1="103" y1="277.2" x2="114.8" y2="277.2" stroke="#000" stroke-width="2.5"/>
<text transform="translate(59.31,283.07) scale(1.0700,1)" font-size="19.80" fill="#000">-60</text>
<line x1="103" y1="308.7" x2="114.8" y2="308.7" stroke="#000" stroke-width="2.5"/>
<text transform="translate(59.31,314.60) scale(1.0700,1)" font-size="19.80" fill="#000">-90</text>
<line x1="103" y1="229.9" x2="108.8" y2="229.9" stroke="#000" stroke-width="2.5"/>
<line x1="103" y1="261.4" x2="108.8" y2="261.4" stroke="#000" stroke-width="2.5"/>
<line x1="103" y1="292.9" x2="108.8" y2="292.9" stroke="#000" stroke-width="2.5"/>
<line x1="187" y1="319.2" x2="187" y2="307.4" stroke="#000" stroke-width="2.5"/>
<line x1="327" y1="319.2" x2="327" y2="307.4" stroke="#000" stroke-width="2.5"/>
<line x1="467" y1="319.2" x2="467" y2="307.4" stroke="#000" stroke-width="2.5"/>
<line x1="117" y1="319.2" x2="117" y2="313.4" stroke="#000" stroke-width="2.5"/>
<line x1="257" y1="319.2" x2="257" y2="313.4" stroke="#000" stroke-width="2.5"/>
<line x1="397" y1="319.2" x2="397" y2="313.4" stroke="#000" stroke-width="2.5"/>
<line x1="537" y1="319.2" x2="537" y2="313.4" stroke="#000" stroke-width="2.5"/>
<rect x="103.00" y="319.20" width="504.00" height="94.60" fill="none" stroke="#000" stroke-width="2.6"/>
<line x1="103" y1="340.2" x2="114.8" y2="340.2" stroke="#000" stroke-width="2.5"/>
<text transform="translate(59.31,346.14) scale(1.0700,1)" font-size="19.80" fill="#000">-30</text>
<line x1="103" y1="371.8" x2="114.8" y2="371.8" stroke="#000" stroke-width="2.5"/>
<text transform="translate(59.31,377.67) scale(1.0700,1)" font-size="19.80" fill="#000">-60</text>
<line x1="103" y1="403.3" x2="114.8" y2="403.3" stroke="#000" stroke-width="2.5"/>
<text transform="translate(59.31,409.20) scale(1.0700,1)" font-size="19.80" fill="#000">-90</text>
<line x1="103" y1="324.5" x2="108.8" y2="324.5" stroke="#000" stroke-width="2.5"/>
<line x1="103" y1="356" x2="108.8" y2="356" stroke="#000" stroke-width="2.5"/>
<line x1="103" y1="387.5" x2="108.8" y2="387.5" stroke="#000" stroke-width="2.5"/>
<line x1="187" y1="413.8" x2="187" y2="402" stroke="#000" stroke-width="2.5"/>
<line x1="327" y1="413.8" x2="327" y2="402" stroke="#000" stroke-width="2.5"/>
<line x1="467" y1="413.8" x2="467" y2="402" stroke="#000" stroke-width="2.5"/>
<line x1="117" y1="413.8" x2="117" y2="408" stroke="#000" stroke-width="2.5"/>
<line x1="257" y1="413.8" x2="257" y2="408" stroke="#000" stroke-width="2.5"/>
<line x1="397" y1="413.8" x2="397" y2="408" stroke="#000" stroke-width="2.5"/>
<line x1="537" y1="413.8" x2="537" y2="408" stroke="#000" stroke-width="2.5"/>
<text transform="translate(159.08,78.60)" font-size="20.60" fill="#000">540 mA</text>
<text transform="translate(158.85,173.20)" font-size="20.60" fill="#000">650 mA</text>
<text transform="translate(158.84,267.80)" font-size="20.60" fill="#000">700 mA</text>
<text transform="translate(158.84,362.40)" font-size="20.60" fill="#000">760 mA</text>
<text transform="translate(166.37,443.02) scale(1.0700,1)" font-size="19.80" fill="#000">5.50</text>
<text transform="translate(306.26,443.02) scale(1.0700,1)" font-size="19.80" fill="#000">6.00</text>
<text transform="translate(446.26,443.02) scale(1.0700,1)" font-size="19.80" fill="#000">6.50</text>
<text transform="translate(586.25,443.02) scale(1.0700,1)" font-size="19.80" fill="#000">7.00</text>
<text transform="translate(252.91,482.10) scale(1.0269,1)" font-size="26.00" fill="#000">Frequency (GHz)</text>
<text transform="translate(42.38,339.58) rotate(-90) scale(1.0411,1)" font-size="25.50">RF power (dBm)</text>
<text transform="translate(18.48,23.70) scale(0.9200,1)" font-size="26.80" font-weight="bold" fill="#000">a</text>
</g>
<g id="pb">
<line x1="740.5" y1="56.1" x2="752.3" y2="56.1" stroke="#000" stroke-width="2.5"/>
<text transform="translate(703.86,62.11) scale(1.0700,1)" font-size="19.80" fill="#000">90</text>
<line x1="740.5" y1="82.7" x2="752.3" y2="82.7" stroke="#000" stroke-width="2.5"/>
<text transform="translate(715.64,88.72) scale(1.0700,1)" font-size="19.80" fill="#000">0</text>
<line x1="740.5" y1="109.3" x2="752.3" y2="109.3" stroke="#000" stroke-width="2.5"/>
<text transform="translate(696.81,115.32) scale(1.0700,1)" font-size="19.80" fill="#000">-90</text>
<line x1="740.5" y1="42.8" x2="746.3" y2="42.8" stroke="#000" stroke-width="2.5"/>
<line x1="740.5" y1="69.4" x2="746.3" y2="69.4" stroke="#000" stroke-width="2.5"/>
<line x1="740.5" y1="96" x2="746.3" y2="96" stroke="#000" stroke-width="2.5"/>
<line x1="740.5" y1="122.6" x2="746.3" y2="122.6" stroke="#000" stroke-width="2.5"/>
<line x1="841.3" y1="130" x2="841.3" y2="118.2" stroke="#000" stroke-width="2.5"/>
<line x1="942.1" y1="130" x2="942.1" y2="118.2" stroke="#000" stroke-width="2.5"/>
<line x1="1042.9" y1="130" x2="1042.9" y2="118.2" stroke="#000" stroke-width="2.5"/>
<line x1="1143.7" y1="130" x2="1143.7" y2="118.2" stroke="#000" stroke-width="2.5"/>
<line x1="790.9" y1="130" x2="790.9" y2="124.2" stroke="#000" stroke-width="2.5"/>
<line x1="891.7" y1="130" x2="891.7" y2="124.2" stroke="#000" stroke-width="2.5"/>
<line x1="992.5" y1="130" x2="992.5" y2="124.2" stroke="#000" stroke-width="2.5"/>
<line x1="1093.3" y1="130" x2="1093.3" y2="124.2" stroke="#000" stroke-width="2.5"/>
<line x1="1194.1" y1="130" x2="1194.1" y2="124.2" stroke="#000" stroke-width="2.5"/>
<rect x="740.50" y="35.40" width="504.00" height="94.60" fill="none" stroke="#000" stroke-width="2.6"/>
<line x1="740.5" y1="150.7" x2="752.3" y2="150.7" stroke="#000" stroke-width="2.5"/>
<text transform="translate(703.86,156.71) scale(1.0700,1)" font-size="19.80" fill="#000">90</text>
<line x1="740.5" y1="177.3" x2="752.3" y2="177.3" stroke="#000" stroke-width="2.5"/>
<text transform="translate(715.64,183.32) scale(1.0700,1)" font-size="19.80" fill="#000">0</text>
<line x1="740.5" y1="203.9" x2="752.3" y2="203.9" stroke="#000" stroke-width="2.5"/>
<text transform="translate(696.81,209.92) scale(1.0700,1)" font-size="19.80" fill="#000">-90</text>
<line x1="740.5" y1="137.4" x2="746.3" y2="137.4" stroke="#000" stroke-width="2.5"/>
<line x1="740.5" y1="164" x2="746.3" y2="164" stroke="#000" stroke-width="2.5"/>
<line x1="740.5" y1="190.6" x2="746.3" y2="190.6" stroke="#000" stroke-width="2.5"/>
<line x1="740.5" y1="217.2" x2="746.3" y2="217.2" stroke="#000" stroke-width="2.5"/>
<line x1="841.3" y1="224.6" x2="841.3" y2="212.8" stroke="#000" stroke-width="2.5"/>
<line x1="942.1" y1="224.6" x2="942.1" y2="212.8" stroke="#000" stroke-width="2.5"/>
<line x1="1042.9" y1="224.6" x2="1042.9" y2="212.8" stroke="#000" stroke-width="2.5"/>
<line x1="1143.7" y1="224.6" x2="1143.7" y2="212.8" stroke="#000" stroke-width="2.5"/>
<line x1="790.9" y1="224.6" x2="790.9" y2="218.8" stroke="#000" stroke-width="2.5"/>
<line x1="891.7" y1="224.6" x2="891.7" y2="218.8" stroke="#000" stroke-width="2.5"/>
<line x1="992.5" y1="224.6" x2="992.5" y2="218.8" stroke="#000" stroke-width="2.5"/>
<line x1="1093.3" y1="224.6" x2="1093.3" y2="218.8" stroke="#000" stroke-width="2.5"/>
<line x1="1194.1" y1="224.6" x2="1194.1" y2="218.8" stroke="#000" stroke-width="2.5"/>
<rect x="740.50" y="130.00" width="504.00" height="94.60" fill="none" stroke="#000" stroke-width="2.6"/>
<line x1="740.5" y1="245.3" x2="752.3" y2="245.3" stroke="#000" stroke-width="2.5"/>
<text transform="translate(703.86,251.31) scale(1.0700,1)" font-size="19.80" fill="#000">90</text>
<line x1="740.5" y1="271.9" x2="752.3" y2="271.9" stroke="#000" stroke-width="2.5"/>
<text transform="translate(715.64,277.92) scale(1.0700,1)" font-size="19.80" fill="#000">0</text>
<line x1="740.5" y1="298.5" x2="752.3" y2="298.5" stroke="#000" stroke-width="2.5"/>
<text transform="translate(696.81,304.52) scale(1.0700,1)" font-size="19.80" fill="#000">-90</text>
<line x1="740.5" y1="232" x2="746.3" y2="232" stroke="#000" stroke-width="2.5"/>
<line x1="740.5" y1="258.6" x2="746.3" y2="258.6" stroke="#000" stroke-width="2.5"/>
<line x1="740.5" y1="285.2" x2="746.3" y2="285.2" stroke="#000" stroke-width="2.5"/>
<line x1="740.5" y1="311.8" x2="746.3" y2="311.8" stroke="#000" stroke-width="2.5"/>
<line x1="841.3" y1="319.2" x2="841.3" y2="307.4" stroke="#000" stroke-width="2.5"/>
<line x1="942.1" y1="319.2" x2="942.1" y2="307.4" stroke="#000" stroke-width="2.5"/>
<line x1="1042.9" y1="319.2" x2="1042.9" y2="307.4" stroke="#000" stroke-width="2.5"/>
<line x1="1143.7" y1="319.2" x2="1143.7" y2="307.4" stroke="#000" stroke-width="2.5"/>
<line x1="790.9" y1="319.2" x2="790.9" y2="313.4" stroke="#000" stroke-width="2.5"/>
<line x1="891.7" y1="319.2" x2="891.7" y2="313.4" stroke="#000" stroke-width="2.5"/>
<line x1="992.5" y1="319.2" x2="992.5" y2="313.4" stroke="#000" stroke-width="2.5"/>
<line x1="1093.3" y1="319.2" x2="1093.3" y2="313.4" stroke="#000" stroke-width="2.5"/>
<line x1="1194.1" y1="319.2" x2="1194.1" y2="313.4" stroke="#000" stroke-width="2.5"/>
<rect x="740.50" y="224.60" width="504.00" height="94.60" fill="none" stroke="#000" stroke-width="2.6"/>
<line x1="740.5" y1="339.9" x2="752.3" y2="339.9" stroke="#000" stroke-width="2.5"/>
<text transform="translate(703.86,345.91) scale(1.0700,1)" font-size="19.80" fill="#000">90</text>
<line x1="740.5" y1="366.5" x2="752.3" y2="366.5" stroke="#000" stroke-width="2.5"/>
<text transform="translate(715.64,372.52) scale(1.0700,1)" font-size="19.80" fill="#000">0</text>
<line x1="740.5" y1="393.1" x2="752.3" y2="393.1" stroke="#000" stroke-width="2.5"/>
<text transform="translate(696.81,399.12) scale(1.0700,1)" font-size="19.80" fill="#000">-90</text>
<line x1="740.5" y1="326.6" x2="746.3" y2="326.6" stroke="#000" stroke-width="2.5"/>
<line x1="740.5" y1="353.2" x2="746.3" y2="353.2" stroke="#000" stroke-width="2.5"/>
<line x1="740.5" y1="379.8" x2="746.3" y2="379.8" stroke="#000" stroke-width="2.5"/>
<line x1="740.5" y1="406.4" x2="746.3" y2="406.4" stroke="#000" stroke-width="2.5"/>
<line x1="841.3" y1="413.8" x2="841.3" y2="402" stroke="#000" stroke-width="2.5"/>
<line x1="942.1" y1="413.8" x2="942.1" y2="402" stroke="#000" stroke-width="2.5"/>
<line x1="1042.9" y1="413.8" x2="1042.9" y2="402" stroke="#000" stroke-width="2.5"/>
<line x1="1143.7" y1="413.8" x2="1143.7" y2="402" stroke="#000" stroke-width="2.5"/>
<line x1="790.9" y1="413.8" x2="790.9" y2="408" stroke="#000" stroke-width="2.5"/>
<line x1="891.7" y1="413.8" x2="891.7" y2="408" stroke="#000" stroke-width="2.5"/>
<line x1="992.5" y1="413.8" x2="992.5" y2="408" stroke="#000" stroke-width="2.5"/>
<line x1="1093.3" y1="413.8" x2="1093.3" y2="408" stroke="#000" stroke-width="2.5"/>
<line x1="1194.1" y1="413.8" x2="1194.1" y2="408" stroke="#000" stroke-width="2.5"/>
<rect x="740.50" y="319.20" width="504.00" height="94.60" fill="none" stroke="#000" stroke-width="2.6"/>
<clipPath id="cb0"><rect x="739.5" y="36.6" width="503.8" height="92.2"/></clipPath>
<path d="M740.2 73.1 740.7 73.1 741.2 71.1 741.7 71.1 742.2 72.9 742.7 72.9 743.2 70.2 743.7 70.2 744.2 72.1 744.7 72.1 745.2 70.8 745.7 70.8 746.2 72.7 746.7 72.7 747.2 71.9 747.7 71.9 748.2 73 748.7 73 749.2 73.1 749.7 73.1 750.2 72.9 750.7 72.9 751.2 70.6 751.7 70.6 752.2 72.8 752.7 72.8 753.2 72.8 753.7 72.8 754.2 73 754.7 73 755.2 72.3 755.7 72.3 756.2 72.4 756.7 68.6 757.2 71.9 757.7 71.9 758.2 72.1 758.7 72.1 759.2 72.9 759.7 72.9 760.2 72.4 760.7 72.4 761.2 72.7 761.7 72.7 762.2 70.6 762.7 70.6 763.2 73 763.7 73 764.2 72.4 764.7 72.4 765.2 72.5 765.7 72.5 766.2 71.8 766.7 71.8 767.2 72.9 767.7 72.9 768.2 73 768.7 73 769.2 71.6 769.7 71.6 770.2 72.4 770.7 72.4 771.2 71.2 771.7 71.2 772.2 71.5 772.7 71.5 773.2 72 773.7 72 774.2 72.1 774.7 72.1 775.2 72.4 775.7 72.4 776.2 71.4 776.7 71.4 777.2 71.8 777.7 71.8 778.2 71.6 778.7 71.6 779.2 71.1 779.7 72.8 780.2 71.8 780.7 71.8 781.2 72.6 781.7 72.6 782.2 72.7 782.7 72.7 783.2 72.8 783.7 72.8 784.2 72.5 784.7 72.5 785.2 72.8 785.7 72.8 786.2 71.7 786.7 71.7 787.2 72.2 787.7 72.2 788.2 73.1 788.7 73.1 789.2 72.6 789.7 72.6 790.2 72 790.7 72 791.2 73.1 791.7 73.1 792.2 72.5 792.7 72.5 793.2 73 793.7 73 794.2 72.8 794.7 72.8 795.2 71.1 795.7 71.1 796.2 71.8 796.7 67.6 797.2 72 797.7 72 798.2 71.4 798.7 73 799.2 70.2 799.7 70.2 800.2 72.1 800.7 72.1 801.2 72.6 801.7 72.6 802.2 71.7 802.7 71.7 803.2 72.7 803.7 72.7 804.2 72.9 804.7 72.9 805.2 72.3 805.7 72.3 806.2 71.6 806.7 71.6 807.2 72.6 807.7 72.6 808.2 72.8 808.7 72.8 809.2 72.8 809.7 72.8 810.2 71.7 810.7 71.7 811.2 71.9 811.7 71.9 812.2 72.9 812.7 72.9 813.2 72.5 813.7 72.5 814.2 73 814.7 73 815.2 72.2 815.7 72.2 816.2 72.8 816.7 72.8 817.2 71.9 817.7 71.9 818.2 72.2 818.7 72.2 819.2 69.9 819.7 69.9 820.2 72.5 820.7 72.5 821.2 72 821.7 72 822.2 72 822.7 72 823.2 73 823.7 73 824.2 72.5 824.7 72.5 825.2 71.8 825.7 71.8 826.2 73.1 826.7 73.1 827.2 71.6 827.7 68 828.2 71.7 828.7 71.7 829.2 72.9 829.7 72.9 830.2 73.1 830.7 73.1 831.2 73 831.7 73 832.2 73 832.7 73 833.2 71 833.7 71 834.2 72.7 834.7 72.7 835.2 72 835.7 72 836.2 72.6 836.7 72.6 837.2 70.8 837.7 70.8 838.2 72.9 838.7 72.9 839.2 72.3 839.7 72.3 840.2 72.4 840.7 72.4 841.2 69.6 841.7 69.6 842.2 72.6 842.7 72.6 843.2 71.9 843.7 71.9 844.2 71.4 844.7 71.4 845.2 72 845.7 72 846.2 72.9 846.7 72.9 847.2 71.7 847.7 71.7 848.2 71.9 848.7 71.9 849.2 72.3 849.7 72.3 850.2 72.4 850.7 72.4 851.2 72.3 851.7 72.3 852.2 71.5 852.7 71.5 853.2 71.8 853.7 71.8 854.2 72.8 854.7 72.8 855.2 72 855.7 72 856.2 72.5 856.7 72.5 857.2 73 857.7 73 858.2 72.6 858.7 72.6 859.2 73 859.7 73 860.2 72.1 860.7 72.1 861.2 72.4 861.7 72.4 862.2 72.7 862.7 72.7 863.2 71.8 863.7 71.8 864.2 70.8 864.7 70.8 865.2 73 865.7 73 866.2 71.9 866.7 71.9 867.2 71.6 867.7 71.6 868.2 72.6 868.7 72.6 869.2 69.8 869.7 73 870.2 72.7 870.7 72.7 871.2 72.9 871.7 72.9 872.2 71.3 872.7 71.3 873.2 72.6 873.7 72.6 874.2 72.1 874.7 72.1 875.2 72.7 875.7 72.7 876.2 72.1 876.7 72.1 877.2 72.1 877.7 72.1 878.2 72.2 878.7 72.2 879.2 72.9 879.7 72.9 880.2 72.8 880.7 72.8 881.2 72 881.7 72 882.2 72.8 882.7 72.8 883.2 71.7 883.7 71.7 884.2 72.1 884.7 72.1 885.2 72.9 885.7 72.9 886.2 71.8 886.7 71.8 887.2 72.5 887.7 70.4 888.2 71.4 888.7 68.1 889.2 73 889.7 73 890.2 72.5 890.7 72.5 891.2 72.1 891.7 72.1 892.2 71.3 892.7 71.3 893.2 72.7 893.7 72.7 894.2 71.9 894.7 71.9 895.2 71.4 895.7 71.4 896.2 73.1 896.7 73.1 897.2 72.4 897.7 72.4 898.2 72.7 898.7 72.7 899.2 71.7 899.7 71.7 900.2 72.6 900.7 72.6 901.2 72.5 901.7 72.5 902.2 71.1 902.7 71.1 903.2 71.6 903.7 71.6 904.2 72.6 904.7 72.6 905.2 72 905.7 72 906.2 71.5 906.7 71.5 907.2 70.5 907.7 72.2 908.2 71.7 908.7 71.7 909.2 71.8 909.7 71.8 910.2 72.8 910.7 72.8 911.2 72.8 911.7 72.8 912.2 71.1 912.7 71.1 913.2 72.6 913.7 72.6 914.2 71.6 914.7 71.6 915.2 73 915.7 73 916.2 71.3 916.7 71.3 917.2 70.7 917.7 70.7 918.2 72.6 918.7 72.6 919.2 72.9 919.7 72.9 920.2 68.7 920.7 71.5 921.2 71.5 921.7 71.5 922.2 72.2 922.7 72.2 923.2 72.8 923.7 72.8 924.2 71.3 924.7 71.3 925.2 71.6 925.7 71.6 926.2 70.7 926.7 70.7 927.2 72.3 927.7 72.3 928.2 73 928.7 73 929.2 72.1 929.7 72.1 930.2 73.1 930.7 73.1 931.2 72.8 931.7 72.8 932.2 72.5 932.7 72.5 933.2 73 933.7 73 934.2 73 934.7 73 935.2 72.3 935.7 72.3 936.2 71.8 936.7 71.8 937.2 72.1 937.7 72.1 938.2 72.6 938.7 72.6 939.2 72.6 939.7 72.6 940.2 71.4 940.7 71.4 941.2 72.2 941.7 72.2 942.2 71.6 942.7 71.6 943.2 72.6 943.7 72.6 944.2 71.7 944.7 71.7 945.2 72.4 945.7 72.4 946.2 71.7 946.7 71.7 947.2 72.3 947.7 72.3 948.2 71.3 948.7 71.3 949.2 72.5 949.7 72.5 950.2 72.9 950.7 72.9 951.2 71.3 951.7 71.3 952.2 73 952.7 73 953.2 72.3 953.7 72.3 954.2 72.7 954.7 72.7 955.2 72.1 955.7 72.1 956.2 72.5 956.7 72.5 957.2 72.6 957.7 72.6 958.2 72.4 958.7 72.4 959.2 72.2 959.7 72.2 960.2 72.9 960.7 72.9 961.2 72.5 961.7 72.5 962.2 71.8 962.7 71.8 963.2 72.1 963.7 72.1 964.2 72.4 964.7 72.4 965.2 72.8 965.7 69.2 966.2 71.3 966.7 71.3 967.2 72.9 967.7 72.9 968.2 72 968.7 72 969.2 71.3 969.7 71.3 970.2 71.7 970.7 71.7 971.2 72.6 971.7 72.6 972.2 72.6 972.7 72.6 973.2 72.1 973.7 72.1 974.2 71.7 974.7 71.7 975.2 72.9 975.7 72.9 976.2 73 976.7 73 977.2 72.8 977.7 72.8 978.2 72.6 978.7 72.6 979.2 72 979.7 72 980.2 73 980.7 73 981.2 72.9 981.7 69.8 982.2 73 982.7 70.1 983.2 71.6 983.7 71.6 984.2 71 984.7 71 985.2 71.8 985.7 71.8 986.2 72.5 986.7 72.5 987.2 71.7 987.7 71.7 988.2 72.5 988.7 72.5 989.2 72.1 989.7 72.1 990.2 72.1 990.7 72.1 991.2 68.6 991.7 71.7 992.2 72.5 992.7 72.5 993.2 71.5 993.7 71.5 994.2 72.9 994.7 72.9 995.2 73 995.7 73 996.2 72.9 996.7 72.9 997.2 71.6 997.7 71.6 998.2 72.7 998.7 72.7 999.2 72.1 999.7 69.4 1000.2 72.3 1000.7 72.3 1001.2 72.9 1001.7 72.9 1002.2 72.3 1002.7 72.3 1003.2 72.9 1003.7 72.9 1004.2 72.6 1004.7 72.6 1005.2 67.7 1005.7 66 1006.2 72.9 1006.7 72.9 1007.2 67.5 1007.7 71.2 1008.2 70.8 1008.7 70.8 1009.2 72.3 1009.7 72.3 1010.2 72.8 1010.7 72.8 1011.2 72 1011.7 72 1012.2 73.1 1012.7 73.1 1013.2 72.9 1013.7 72.9 1014.2 72.4 1014.7 72.4 1015.2 69.8 1015.7 72.1 1016.2 73.1 1016.7 73.1 1017.2 72.7 1017.7 72.7 1018.2 72.7 1018.7 72.7 1019.2 72.2 1019.7 72.2 1020.2 72.5 1020.7 72.5 1021.2 71.8 1021.7 71.8 1022.2 73 1022.7 73 1023.2 70.5 1023.7 70.5 1024.2 72.3 1024.7 72.3 1025.2 72.7 1025.7 72.7 1026.2 72.6 1026.7 72.6 1027.2 72.6 1027.7 72.6 1028.2 72.7 1028.7 72.7 1029.2 72 1029.7 72 1030.2 71.7 1030.7 71.7 1031.2 73 1031.7 73 1032.2 71.9 1032.7 71.9 1033.2 71.8 1033.7 71.8 1034.2 72.4 1034.7 72.4 1035.2 72.2 1035.7 69.6 1036.2 73.1 1036.7 73.1 1037.2 72.9 1037.7 72.9 1038.2 72.9 1038.7 72.9 1039.2 72.7 1039.7 72.7 1040.2 72 1040.7 72 1041.2 72.4 1041.7 72.4 1042.2 72.9 1042.7 72.9 1043.2 73.1 1043.7 73.1 1044.2 71.6 1044.7 71.6 1045.2 71 1045.7 71 1046.2 71.5 1046.7 71.5 1047.2 72 1047.7 72 1048.2 71.3 1048.7 71.3 1049.2 72 1049.7 72 1050.2 71.1 1050.7 71.1 1051.2 72.1 1051.7 72.1 1052.2 72.9 1052.7 72.9 1053.2 72.2 1053.7 72.2 1054.2 72.2 1054.7 72.2 1055.2 69.2 1055.7 72.8 1056.2 72.9 1056.7 72.9 1057.2 72.9 1057.7 72.9 1058.2 72.5 1058.7 72.5 1059.2 71.6 1059.7 71.6 1060.2 68.6 1060.7 71.1 1061.2 71.4 1061.7 71.4 1062.2 71.4 1062.7 71.4 1063.2 71.6 1063.7 71.6 1064.2 72.1 1064.7 72.1 1065.2 72.3 1065.7 72.3 1066.2 72.3 1066.7 72.3 1067.2 72.7 1067.7 68.3 1068.2 72.8 1068.7 68.4 1069.2 72.5 1069.7 72.5 1070.2 71.4 1070.7 71.4 1071.2 72.7 1071.7 72.7 1072.2 73.1 1072.7 73.1 1073.2 71.5 1073.7 71.5 1074.2 72.7 1074.7 72.7 1075.2 73 1075.7 73 1076.2 71.5 1076.7 71.5 1077.2 73 1077.7 73 1078.2 72.5 1078.7 72.5 1079.2 71.3 1079.7 71.3 1080.2 72.7 1080.7 72.7 1081.2 72.2 1081.7 72.2 1082.2 72.5 1082.7 72.5 1083.2 71.3 1083.7 71.3 1084.2 71.9 1084.7 71.9 1085.2 73.1 1085.7 73.1 1086.2 71.5 1086.7 71.5 1087.2 71.3 1087.7 71.3 1088.2 73 1088.7 73 1089.2 72.2 1089.7 72.2 1090.2 71.5 1090.7 71.5 1091.2 71.1 1091.7 71.1 1092.2 72.8 1092.7 72.8 1093.2 72.9 1093.7 72.9 1094.2 72.8 1094.7 72.8 1095.2 71.8 1095.7 71.8 1096.2 72.4 1096.7 72.4 1097.2 72.8 1097.7 72.8 1098.2 72.5 1098.7 72.5 1099.2 72.1 1099.7 72.1 1100.2 70.6 1100.7 70.6 1101.2 72.2 1101.7 72.2 1102.2 71.9 1102.7 71.9 1103.2 72.5 1103.7 72.5 1104.2 72.8 1104.7 72.8 1105.2 73 1105.7 73 1106.2 70.9 1106.7 70.9 1107.2 71.5 1107.7 71.5 1108.2 72.4 1108.7 72.4 1109.2 72.6 1109.7 72.6 1110.2 71.8 1110.7 71.8 1111.2 72.8 1111.7 72.8 1112.2 73 1112.7 73 1113.2 71.8 1113.7 71.8 1114.2 72.5 1114.7 72.5 1115.2 72.9 1115.7 72.9 1116.2 69.7 1116.7 69.7 1117.2 72.6 1117.7 72.6 1118.2 71.6 1118.7 71.6 1119.2 72.7 1119.7 72.7 1120.2 72.8 1120.7 72.8 1121.2 71.2 1121.7 71.2 1122.2 72.7 1122.7 72.7 1123.2 72.4 1123.7 72.4 1124.2 72.7 1124.7 72.7 1125.2 71.8 1125.7 71.8 1126.2 72.7 1126.7 72.7 1127.2 72.7 1127.7 72.7 1128.2 72.2 1128.7 72.2 1129.2 70.9 1129.7 70.9 1130.2 72 1130.7 72 1131.2 72.2 1131.7 72.2 1132.2 72.5 1132.7 72.5 1133.2 72.6 1133.7 72.6 1134.2 73 1134.7 73 1135.2 72 1135.7 72 1136.2 73 1136.7 73 1137.2 72.4 1137.7 72.4 1138.2 72.5 1138.7 72.5 1139.2 72.9 1139.7 72.9 1140.2 71.5 1140.7 71.5 1141.2 72.5 1141.7 72.5 1142.2 72.7 1142.7 72.7 1143.2 72.1 1143.7 72.1 1144.2 72.9 1144.7 72.9 1145.2 72.3 1145.7 72.3 1146.2 71.4 1146.7 71.4 1147.2 72.4 1147.7 72.4 1148.2 71.6 1148.7 71.6 1149.2 71 1149.7 71 1150.2 71.9 1150.7 71.9 1151.2 72.8 1151.7 72.8 1152.2 72.7 1152.7 72.7 1153.2 72.7 1153.7 72.7 1154.2 73 1154.7 69.7 1155.2 72.8 1155.7 72.8 1156.2 71.1 1156.7 71.1 1157.2 73.1 1157.7 73.1 1158.2 72.8 1158.7 72.8 1159.2 72.8 1159.7 72.8 1160.2 72.5 1160.7 72.5 1161.2 70.9 1161.7 70.9 1162.2 72.7 1162.7 72.7 1163.2 72.5 1163.7 72.5 1164.2 72.8 1164.7 72.8 1165.2 72.9 1165.7 72.9 1166.2 73 1166.7 69.3 1167.2 72.8 1167.7 72.8 1168.2 72.7 1168.7 72.7 1169.2 72 1169.7 72 1170.2 71.7 1170.7 71.7 1171.2 72.3 1171.7 72.3 1172.2 72.1 1172.7 67.7 1173.2 66.6 1173.7 70.8 1174.2 71.8 1174.7 71.8 1175.2 73 1175.7 73 1176.2 72.9 1176.7 72.9 1177.2 72.9 1177.7 72.9 1178.2 71.9 1178.7 71.9 1179.2 72.9 1179.7 72.9 1180.2 71 1180.7 71 1181.2 72.4 1181.7 72.4 1182.2 70.5 1182.7 70.5 1183.2 72.5 1183.7 72.5 1184.2 72.8 1184.7 72.8 1185.2 72.5 1185.7 72.5 1186.2 72.1 1186.7 72.1 1187.2 72.8 1187.7 72.8 1188.2 72.3 1188.7 72.3 1189.2 72.4 1189.7 72.4 1190.2 73 1190.7 73 1191.2 72.7 1191.7 72.7 1192.2 72.4 1192.7 72.4 1193.2 72.7 1193.7 72.7 1194.2 73 1194.7 73 1195.2 71 1195.7 71 1196.2 67 1196.7 71 1197.2 71.8 1197.7 71.8 1198.2 70.8 1198.7 68.4 1199.2 72.6 1199.7 72.6 1200.2 72.1 1200.7 72.1 1201.2 71.6 1201.7 71.6 1202.2 72.7 1202.7 72.7 1203.2 72.2 1203.7 72.2 1204.2 72.3 1204.7 72.3 1205.2 73 1205.7 73 1206.2 72.8 1206.7 72.8 1207.2 72.8 1207.7 72.8 1208.2 73 1208.7 73 1209.2 72.2 1209.7 72.2 1210.2 73.1 1210.7 73.1 1211.2 72.9 1211.7 72.9 1212.2 72.2 1212.7 72.2 1213.2 72 1213.7 72 1214.2 72.4 1214.7 72.4 1215.2 72.9 1215.7 72.9 1216.2 72.1 1216.7 72.1 1217.2 72.8 1217.7 72.8 1218.2 71.1 1218.7 71.1 1219.2 71.9 1219.7 71.9 1220.2 73 1220.7 73 1221.2 72.9 1221.7 70.5 1222.2 72.9 1222.7 72.9 1223.2 70.9 1223.7 70.9 1224.2 72.4 1224.7 72.4 1225.2 73 1225.7 68.8 1226.2 71.1 1226.7 71.1 1227.2 72.3 1227.7 72.3 1228.2 72.3 1228.7 72.3 1229.2 72.7 1229.7 72.7 1230.2 71.1 1230.7 71.1 1231.2 72.9 1231.7 72.9 1232.2 72.8 1232.7 72.8 1233.2 72.5 1233.7 72.5 1234.2 72.9 1234.7 72.9 1235.2 70.9 1235.7 70.9 1236.2 72.7 1236.7 72.7 1237.2 72.9 1237.7 70.2 1238.2 72.9 1238.7 72.9 1239.2 72.5 1239.7 72.5 1240.2 72.1 1240.7 72.1 1241.2 72.8 1241.7 72.8 1242.2 72.3 1242.7 72.3 1243.2 71.3 1243.7 71.3 1244.2 71.7 1244.2 94.9 1243.7 93.4 1243.2 93.4 1242.7 93.7 1242.2 93.7 1241.7 93.3 1241.2 93.3 1240.7 94.7 1240.2 94.7 1239.7 93.1 1239.2 93.1 1238.7 95.3 1238.2 98.6 1237.7 94 1237.2 96 1236.7 93.4 1236.2 93.4 1235.7 94 1235.2 94 1234.7 94 1234.2 94 1233.7 93.4 1233.2 93.4 1232.7 94 1232.2 94 1231.7 93.4 1231.2 93.4 1230.7 93.4 1230.2 93.4 1229.7 93.2 1229.2 93.2 1228.7 94 1228.2 94 1227.7 93.5 1227.2 93.5 1226.7 93.4 1226.2 93.4 1225.7 93.3 1225.2 93.3 1224.7 95.6 1224.2 95.6 1223.7 97.8 1223.2 95.6 1222.7 95.1 1222.2 95.1 1221.7 94.2 1221.2 94.2 1220.7 93.7 1220.2 93.7 1219.7 94.4 1219.2 97.7 1218.7 93.9 1218.2 93.9 1217.7 94.8 1217.2 94.8 1216.7 93.8 1216.2 93.8 1215.7 96.8 1215.2 93.9 1214.7 94.8 1214.2 94.8 1213.7 93.1 1213.2 93.1 1212.7 93.2 1212.2 93.2 1211.7 93.9 1211.2 93.9 1210.7 93.8 1210.2 93.8 1209.7 95.6 1209.2 95.6 1208.7 93.8 1208.2 93.8 1207.7 93.4 1207.2 93.4 1206.7 93.7 1206.2 93.7 1205.7 93.9 1205.2 93.9 1204.7 93.3 1204.2 93.3 1203.7 93.7 1203.2 93.7 1202.7 94 1202.2 94 1201.7 94.1 1201.2 94.1 1200.7 93.7 1200.2 93.7 1199.7 93.9 1199.2 97 1198.7 94.1 1198.2 94.1 1197.7 93.2 1197.2 93.2 1196.7 94.3 1196.2 94.3 1195.7 93.9 1195.2 93.9 1194.7 93.9 1194.2 97.5 1193.7 93.4 1193.2 95.6 1192.7 93.8 1192.2 93.8 1191.7 93.3 1191.2 93.3 1190.7 93.9 1190.2 93.9 1189.7 94 1189.2 94 1188.7 94 1188.2 94 1187.7 94.2 1187.2 97 1186.7 93.8 1186.2 93.8 1185.7 94.2 1185.2 94.2 1184.7 94 1184.2 94 1183.7 95.5 1183.2 95.5 1182.7 94.1 1182.2 94.1 1181.7 93.7 1181.2 93.7 1180.7 95.2 1180.2 95.2 1179.7 93.7 1179.2 93.7 1178.7 93.8 1178.2 93.8 1177.7 93.3 1177.2 93.3 1176.7 93.9 1176.2 93.9 1175.7 95.6 1175.2 95.6 1174.7 93.1 1174.2 93.1 1173.7 94.4 1173.2 94.4 1172.7 94 1172.2 94 1171.7 95.7 1171.2 95.7 1170.7 93.3 1170.2 93.3 1169.7 94.4 1169.2 94.4 1168.7 93.8 1168.2 93.8 1167.7 93.7 1167.2 93.7 1166.7 93.1 1166.2 93.1 1165.7 93.3 1165.2 93.3 1164.7 93.6 1164.2 93.6 1163.7 95.9 1163.2 95.9 1162.7 94.8 1162.2 94.8 1161.7 93.8 1161.2 93.8 1160.7 93.6 1160.2 93.6 1159.7 93.7 1159.2 93.7 1158.7 93.4 1158.2 93.4 1157.7 94.2 1157.2 94.2 1156.7 94.2 1156.2 94.2 1155.7 93.8 1155.2 93.8 1154.7 94.7 1154.2 94.7 1153.7 94.1 1153.2 94.1 1152.7 93.6 1152.2 93.6 1151.7 94.1 1151.2 94.1 1150.7 94.3 1150.2 94.3 1149.7 93.5 1149.2 93.5 1148.7 94.6 1148.2 94.6 1147.7 93.4 1147.2 93.4 1146.7 93.7 1146.2 93.7 1145.7 94.4 1145.2 94.4 1144.7 95.5 1144.2 95.5 1143.7 94.2 1143.2 94.2 1142.7 93.4 1142.2 93.4 1141.7 94.6 1141.2 94.6 1140.7 93.9 1140.2 93.9 1139.7 93.8 1139.2 93.8 1138.7 93.8 1138.2 93.8 1137.7 94 1137.2 94 1136.7 94.8 1136.2 98.4 1135.7 94 1135.2 94 1134.7 94.7 1134.2 94.7 1133.7 93.8 1133.2 93.8 1132.7 95 1132.2 95 1131.7 94.3 1131.2 94.3 1130.7 93.3 1130.2 93.3 1129.7 95.1 1129.2 95.1 1128.7 93.5 1128.2 93.5 1127.7 93.6 1127.2 93.6 1126.7 97.4 1126.2 95.8 1125.7 93.3 1125.2 93.3 1124.7 93.2 1124.2 93.2 1123.7 93.3 1123.2 93.3 1122.7 94 1122.2 94 1121.7 93.1 1121.2 93.1 1120.7 93.6 1120.2 93.6 1119.7 94 1119.2 94 1118.7 93.3 1118.2 93.3 1117.7 94 1117.2 94 1116.7 94.6 1116.2 94.6 1115.7 93.4 1115.2 93.4 1114.7 94.1 1114.2 94.1 1113.7 95.4 1113.2 95.4 1112.7 93.5 1112.2 93.5 1111.7 96.6 1111.2 96.6 1110.7 93.7 1110.2 93.7 1109.7 94.8 1109.2 94.8 1108.7 95 1108.2 95 1107.7 93.4 1107.2 93.4 1106.7 94.8 1106.2 94.8 1105.7 93.5 1105.2 93.5 1104.7 94 1104.2 94 1103.7 94.6 1103.2 94.6 1102.7 93.6 1102.2 93.6 1101.7 93.3 1101.2 93.3 1100.7 93.1 1100.2 93.1 1099.7 94.5 1099.2 94.5 1098.7 93.1 1098.2 93.1 1097.7 94.2 1097.2 94.2 1096.7 93.8 1096.2 93.8 1095.7 93.1 1095.2 93.1 1094.7 94.1 1094.2 94.1 1093.7 94.4 1093.2 94.4 1092.7 94.1 1092.2 94.1 1091.7 93.7 1091.2 93.7 1090.7 93.3 1090.2 93.3 1089.7 93.5 1089.2 93.5 1088.7 93.2 1088.2 93.2 1087.7 93.3 1087.2 93.3 1086.7 97.2 1086.2 95.4 1085.7 93.9 1085.2 93.9 1084.7 94.3 1084.2 94.3 1083.7 93.2 1083.2 97.5 1082.7 93.2 1082.2 93.2 1081.7 94.3 1081.2 94.3 1080.7 93.9 1080.2 93.9 1079.7 93.1 1079.2 93.1 1078.7 94.9 1078.2 94.9 1077.7 95.6 1077.2 95.6 1076.7 93.4 1076.2 93.4 1075.7 93.5 1075.2 93.5 1074.7 93.5 1074.2 95.4 1073.7 94.8 1073.2 99 1072.7 93.9 1072.2 93.9 1071.7 93.4 1071.2 93.4 1070.7 93.2 1070.2 93.2 1069.7 95.1 1069.2 95.1 1068.7 93.6 1068.2 93.6 1067.7 93.3 1067.2 93.3 1066.7 94.1 1066.2 94.1 1065.7 93.2 1065.2 93.2 1064.7 93.3 1064.2 93.3 1063.7 93.9 1063.2 93.9 1062.7 94.6 1062.2 94.6 1061.7 93.7 1061.2 93.7 1060.7 94.8 1060.2 94.8 1059.7 93.6 1059.2 93.6 1058.7 93.3 1058.2 93.3 1057.7 93.2 1057.2 93.2 1056.7 93.7 1056.2 93.7 1055.7 94.4 1055.2 94.4 1054.7 93.4 1054.2 93.4 1053.7 94.1 1053.2 94.1 1052.7 93.8 1052.2 93.8 1051.7 94.8 1051.2 94.8 1050.7 94.5 1050.2 94.5 1049.7 93.7 1049.2 93.7 1048.7 94.9 1048.2 94.9 1047.7 93.2 1047.2 93.2 1046.7 95 1046.2 95 1045.7 95.8 1045.2 93.2 1044.7 93.7 1044.2 93.7 1043.7 94.3 1043.2 94.3 1042.7 93.5 1042.2 93.5 1041.7 93.9 1041.2 93.9 1040.7 95.6 1040.2 95.6 1039.7 94.1 1039.2 97.4 1038.7 95 1038.2 95 1037.7 94.1 1037.2 94.1 1036.7 94.2 1036.2 94.2 1035.7 94.3 1035.2 94.3 1034.7 94 1034.2 94 1033.7 93.3 1033.2 96.1 1032.7 93.8 1032.2 93.8 1031.7 95.1 1031.2 95.1 1030.7 93.7 1030.2 93.7 1029.7 93.2 1029.2 93.2 1028.7 93.3 1028.2 93.3 1027.7 93.5 1027.2 93.5 1026.7 94.2 1026.2 94.2 1025.7 97.7 1025.2 94 1024.7 94 1024.2 94 1023.7 93.6 1023.2 93.6 1022.7 95.9 1022.2 93.8 1021.7 93.7 1021.2 93.7 1020.7 93.4 1020.2 93.4 1019.7 94.1 1019.2 94.1 1018.7 94.6 1018.2 94.6 1017.7 93.5 1017.2 93.5 1016.7 94.3 1016.2 94.3 1015.7 98.3 1015.2 94.5 1014.7 93.2 1014.2 93.2 1013.7 98 1013.2 93.6 1012.7 93.7 1012.2 93.7 1011.7 93.3 1011.2 93.3 1010.7 95 1010.2 95 1009.7 93.1 1009.2 93.1 1008.7 93.2 1008.2 97.2 1007.7 95.4 1007.2 95.4 1006.7 93.9 1006.2 93.9 1005.7 94.4 1005.2 94.4 1004.7 97.7 1004.2 97.4 1003.7 93.6 1003.2 93.6 1002.7 93.6 1002.2 93.6 1001.7 94.8 1001.2 94.8 1000.7 93.6 1000.2 93.6 999.7 93.1 999.2 93.1 998.7 93.3 998.2 93.3 997.7 93.1 997.2 93.1 996.7 94.7 996.2 94.7 995.7 93.5 995.2 93.5 994.7 94.1 994.2 94.1 993.7 93.8 993.2 93.8 992.7 94.4 992.2 94.4 991.7 94 991.2 94 990.7 94.7 990.2 94.7 989.7 93.5 989.2 97.4 988.7 93.3 988.2 93.3 987.7 93.1 987.2 93.1 986.7 94.7 986.2 94.7 985.7 93.8 985.2 93.8 984.7 94.5 984.2 94.5 983.7 94.4 983.2 94.4 982.7 95.9 982.2 94.1 981.7 97.2 981.2 93.8 980.7 93.8 980.2 93.8 979.7 94 979.2 94 978.7 93.5 978.2 95.8 977.7 100.2 977.2 96.6 976.7 93.3 976.2 93.3 975.7 93.5 975.2 93.5 974.7 93.6 974.2 93.6 973.7 93.2 973.2 93.2 972.7 94.1 972.2 94.1 971.7 93.5 971.2 93.5 970.7 93.4 970.2 93.4 969.7 93.6 969.2 93.6 968.7 94.1 968.2 94.1 967.7 93.7 967.2 93.7 966.7 93.6 966.2 98 965.7 93.3 965.2 93.3 964.7 93.3 964.2 93.3 963.7 94.4 963.2 94.4 962.7 93.9 962.2 97 961.7 96.5 961.2 94.9 960.7 93.2 960.2 93.2 959.7 93.1 959.2 93.1 958.7 94.7 958.2 94.7 957.7 95.6 957.2 95.6 956.7 93.8 956.2 93.8 955.7 93.5 955.2 93.5 954.7 93.8 954.2 93.8 953.7 93.4 953.2 93.4 952.7 94.8 952.2 94.8 951.7 94 951.2 94 950.7 95.2 950.2 95.2 949.7 94.7 949.2 94.7 948.7 93.8 948.2 95.7 947.7 94.9 947.2 94.9 946.7 93.4 946.2 93.4 945.7 93.2 945.2 93.2 944.7 93.6 944.2 97 943.7 94.8 943.2 94.8 942.7 93.2 942.2 93.2 941.7 93.8 941.2 93.8 940.7 93.3 940.2 95.1 939.7 94.8 939.2 94.8 938.7 93.2 938.2 93.2 937.7 97 937.2 94.5 936.7 94.8 936.2 97.8 935.7 97.3 935.2 98.5 934.7 94.2 934.2 94.2 933.7 93.8 933.2 95.4 932.7 95.2 932.2 95.2 931.7 94 931.2 94 930.7 93.6 930.2 93.6 929.7 93.8 929.2 93.8 928.7 93.4 928.2 93.4 927.7 93.1 927.2 94.8 926.7 95.2 926.2 95.2 925.7 94 925.2 94 924.7 93.8 924.2 93.8 923.7 93.3 923.2 93.3 922.7 93.5 922.2 93.5 921.7 94.9 921.2 93.2 920.7 96.3 920.2 94.2 919.7 93.7 919.2 93.7 918.7 94.5 918.2 94.5 917.7 93.8 917.2 93.8 916.7 94.9 916.2 94.9 915.7 94.9 915.2 94.9 914.7 93.6 914.2 93.6 913.7 94.2 913.2 94.2 912.7 95.4 912.2 95.4 911.7 94.1 911.2 94.1 910.7 93.3 910.2 93.3 909.7 93.6 909.2 93.6 908.7 96.1 908.2 96.1 907.7 93.2 907.2 93.2 906.7 93.7 906.2 93.7 905.7 94.4 905.2 94.4 904.7 96.1 904.2 96.1 903.7 93.8 903.2 93.8 902.7 93.3 902.2 93.3 901.7 93.3 901.2 93.3 900.7 94.1 900.2 94.1 899.7 93.4 899.2 93.4 898.7 94.5 898.2 94.5 897.7 93.7 897.2 98 896.7 94.9 896.2 94.9 895.7 93.1 895.2 93.1 894.7 93.8 894.2 93.8 893.7 93.9 893.2 93.9 892.7 94.1 892.2 94.1 891.7 94.2 891.2 94.2 890.7 93.4 890.2 93.4 889.7 93.1 889.2 93.1 888.7 93.7 888.2 93.7 887.7 93.9 887.2 93.9 886.7 94.8 886.2 94.8 885.7 93.7 885.2 93.7 884.7 93.5 884.2 93.5 883.7 93.5 883.2 93.5 882.7 94.8 882.2 94.8 881.7 93.7 881.2 93.7 880.7 94.2 880.2 94.2 879.7 93.7 879.2 93.7 878.7 97.1 878.2 93.1 877.7 93.1 877.2 93.1 876.7 95.1 876.2 95.1 875.7 96.9 875.2 93.5 874.7 96.2 874.2 93.9 873.7 93.2 873.2 93.2 872.7 93.7 872.2 93.7 871.7 93.4 871.2 93.4 870.7 93.5 870.2 93.5 869.7 93.6 869.2 93.6 868.7 93.2 868.2 93.2 867.7 94.5 867.2 94.5 866.7 93.3 866.2 93.3 865.7 94.6 865.2 94.6 864.7 95.4 864.2 95.4 863.7 93.6 863.2 93.6 862.7 93.6 862.2 93.6 861.7 93.3 861.2 93.3 860.7 93.4 860.2 93.4 859.7 97.7 859.2 93.2 858.7 93.9 858.2 93.9 857.7 93.8 857.2 95.4 856.7 94.3 856.2 94.3 855.7 98.1 855.2 98.1 854.7 93.9 854.2 93.9 853.7 95.7 853.2 95.7 852.7 94.4 852.2 94.4 851.7 95.4 851.2 95.4 850.7 95 850.2 95 849.7 93.1 849.2 96.6 848.7 93.6 848.2 93.6 847.7 94.4 847.2 94.4 846.7 93.3 846.2 93.3 845.7 94.9 845.2 94.9 844.7 94.3 844.2 94.3 843.7 93.6 843.2 93.6 842.7 93.8 842.2 93.8 841.7 94.6 841.2 94.6 840.7 97.5 840.2 93.3 839.7 93.8 839.2 93.8 838.7 93.4 838.2 93.4 837.7 93.8 837.2 93.8 836.7 94.2 836.2 94.2 835.7 93.4 835.2 93.4 834.7 94.8 834.2 98.6 833.7 93.3 833.2 93.3 832.7 93.9 832.2 93.9 831.7 93.2 831.2 93.2 830.7 93.8 830.2 93.8 829.7 94.8 829.2 94.8 828.7 93.7 828.2 93.7 827.7 93.5 827.2 97.3 826.7 93.2 826.2 93.2 825.7 93.7 825.2 93.7 824.7 93.1 824.2 93.1 823.7 93.8 823.2 93.8 822.7 93.2 822.2 93.2 821.7 94.5 821.2 94.5 820.7 94.6 820.2 94.6 819.7 93.4 819.2 93.4 818.7 93.8 818.2 93.8 817.7 96.6 817.2 94 816.7 95.6 816.2 95.6 815.7 93.7 815.2 93.7 814.7 93.5 814.2 93.5 813.7 93.8 813.2 93.8 812.7 93.5 812.2 93.5 811.7 93.9 811.2 93.9 810.7 93.5 810.2 93.5 809.7 94.9 809.2 94.9 808.7 93.6 808.2 93.6 807.7 97.7 807.2 93.7 806.7 94 806.2 94 805.7 95.3 805.2 99.6 804.7 95.1 804.2 95.1 803.7 94.2 803.2 94.2 802.7 93.3 802.2 93.3 801.7 96.2 801.2 93.4 800.7 94.3 800.2 94.3 799.7 93.3 799.2 93.3 798.7 93.1 798.2 93.1 797.7 94.3 797.2 94.3 796.7 94.4 796.2 94.4 795.7 95.3 795.2 95.3 794.7 96.2 794.2 93.3 793.7 93.4 793.2 93.4 792.7 93.9 792.2 93.9 791.7 95.2 791.2 95.2 790.7 94.8 790.2 94.8 789.7 93.5 789.2 93.5 788.7 95.3 788.2 95.3 787.7 95.1 787.2 95.1 786.7 94.7 786.2 97.9 785.7 93.6 785.2 93.6 784.7 97.3 784.2 93.7 783.7 93.3 783.2 93.3 782.7 94.3 782.2 94.3 781.7 94.3 781.2 94.3 780.7 94.4 780.2 94.4 779.7 94.2 779.2 94.2 778.7 93.2 778.2 93.2 777.7 94.5 777.2 94.5 776.7 93.5 776.2 93.5 775.7 94 775.2 94 774.7 96 774.2 96 773.7 93.4 773.2 93.4 772.7 94.6 772.2 94.6 771.7 93.7 771.2 93.7 770.7 93.5 770.2 93.5 769.7 93.4 769.2 93.4 768.7 95.6 768.2 95.6 767.7 93.7 767.2 93.7 766.7 93.1 766.2 93.1 765.7 93.5 765.2 93.5 764.7 93.1 764.2 93.1 763.7 94.1 763.2 94.1 762.7 94.5 762.2 94.5 761.7 93.1 761.2 93.1 760.7 95.5 760.2 93.5 759.7 93.1 759.2 93.1 758.7 95.5 758.2 95.5 757.7 94.2 757.2 96.7 756.7 94.1 756.2 94.1 755.7 93.8 755.2 95.7 754.7 96.8 754.2 95.1 753.7 94.5 753.2 94.5 752.7 96.5 752.2 93.2 751.7 94.8 751.2 94.8 750.7 93.4 750.2 93.4 749.7 94.8 749.2 98.7 748.7 94.9 748.2 94.9 747.7 93.4 747.2 93.4 746.7 93.9 746.2 93.9 745.7 94.6 745.2 94.6 744.7 93.4 744.2 93.4 743.7 94.4 743.2 94.4 742.7 93.3 742.2 93.3 741.7 95.1 741.2 95.1 740.7 93.2 740.2 93.2Z" fill="#0b3058" clip-path="url(#cb0)"/>
<clipPath id="cb1"><rect x="739.5" y="131.2" width="503.8" height="92.2"/></clipPath>
<path d="M740.2 171.3 740.7 171.3 741.2 171.3 741.7 168.7 742.2 170.3 742.7 169.3 743.2 169.7 743.7 169 744.2 168.9 744.7 167.7 745.2 166.8 745.7 166.1 746.2 165.9 746.7 166.1 747.2 163.8 747.7 164.2 748.2 162.7 748.7 162 749.2 162.2 749.7 161.5 750.2 159.7 750.7 160 751.2 159.3 751.7 158.6 752.2 158 752.7 157.1 753.2 155.6 753.7 153.8 754.2 153.1 754.7 153.1 755.2 152.8 755.7 151.8 756.2 151 756.7 151.1 757.2 152.1 757.7 153.5 758.2 154 758.7 154.7 759.2 155.6 759.7 156.1 760.2 157.2 760.7 157.3 761.2 158.3 761.7 159.5 762.2 159.4 762.7 160.9 763.2 162.1 763.7 161.8 764.2 163.4 764.7 164.2 765.2 163.8 765.7 165.3 766.2 165.4 766.7 166.8 767.2 165.6 767.7 168 768.2 168.6 768.7 168.3 769.2 168.2 769.7 170.1 770.2 169.5 770.7 169.9 771.2 169.6 771.7 170.2 772.2 169.9 772.7 169.6 773.2 169.9 773.7 170.1 774.2 170.3 774.7 169.8 775.2 169.2 775.7 170.4 776.2 169.3 776.7 170.1 777.2 169.5 777.7 169.4 778.2 168.1 778.7 168.4 779.2 168.1 779.7 167.2 780.2 165.4 780.7 165.3 781.2 165 781.7 164.1 782.2 164.1 782.7 162.5 783.2 162.2 783.7 160.9 784.2 160.1 784.7 159.8 785.2 158.6 785.7 158.2 786.2 157.8 786.7 155.8 787.2 154.7 787.7 155.1 788.2 153.1 788.7 152 789.2 152.6 789.7 150.6 790.2 150.7 790.7 149.8 791.2 150.1 791.7 151.8 792.2 153.2 792.7 153.2 793.2 154.6 793.7 154.8 794.2 156.8 794.7 156.9 795.2 158.3 795.7 159.3 796.2 159.1 796.7 160.5 797.2 160 797.7 162.3 798.2 162.9 798.7 163.1 799.2 160.9 799.7 165.1 800.2 165.4 800.7 166.2 801.2 167.2 801.7 166.7 802.2 167.7 802.7 167 803.2 169.3 803.7 169.4 804.2 169.5 804.7 170.3 805.2 168 805.7 170.3 806.2 169.7 806.7 170.2 807.2 169.3 807.7 170.3 808.2 167.9 808.7 169.8 809.2 169.9 809.7 169.7 810.2 169.4 810.7 169.9 811.2 169.6 811.7 168.4 812.2 169.2 812.7 166.4 813.2 167.3 813.7 164 814.2 167 814.7 166.5 815.2 161.4 815.7 164.2 816.2 164.5 816.7 163.1 817.2 162.6 817.7 161.9 818.2 161.5 818.7 161 819.2 158.9 819.7 153.4 820.2 157.5 820.7 157.5 821.2 156.2 821.7 155 822.2 154.7 822.7 154.4 823.2 153.1 823.7 152.3 824.2 151.9 824.7 150.9 825.2 151.3 825.7 152.8 826.2 152.6 826.7 154.5 827.2 155.2 827.7 155.9 828.2 155.7 828.7 157.2 829.2 158.3 829.7 158.6 830.2 159.4 830.7 160.1 831.2 160.2 831.7 162.2 832.2 162.2 832.7 163.3 833.2 163.1 833.7 164.4 834.2 165.1 834.7 166 835.2 166.3 835.7 167.2 836.2 168.1 836.7 168.2 837.2 167.8 837.7 169.5 838.2 168.9 838.7 169.5 839.2 169.7 839.7 169.1 840.2 168 840.7 169.8 841.2 169 841.7 169.9 842.2 170.2 842.7 170.2 843.2 168.1 843.7 170.4 844.2 169.5 844.7 170.4 845.2 169.7 845.7 170.1 846.2 168.5 846.7 166.7 847.2 168.3 847.7 167.5 848.2 167.5 848.7 166.6 849.2 165.5 849.7 165.2 850.2 164.3 850.7 163.9 851.2 163.9 851.7 161.5 852.2 162.4 852.7 160.6 853.2 160.4 853.7 160.5 854.2 159.7 854.7 158.6 855.2 158.3 855.7 157.2 856.2 155.7 856.7 155.8 857.2 154.6 857.7 154.2 858.2 153 858.7 151.9 859.2 151.1 859.7 153.4 860.2 153.7 860.7 155.3 861.2 156.3 861.7 154.1 862.2 156.1 862.7 158 863.2 159.3 863.7 160 864.2 160.7 864.7 160.6 865.2 162.2 865.7 162.8 866.2 162.3 866.7 163.3 867.2 164.1 867.7 163.7 868.2 166.1 868.7 165.7 869.2 165.9 869.7 167.8 870.2 168.2 870.7 168 871.2 168.1 871.7 168.6 872.2 170 872.7 170.2 873.2 169.1 873.7 170.2 874.2 169.8 874.7 170.2 875.2 168.3 875.7 169.7 876.2 169.7 876.7 170.2 877.2 169.1 877.7 168.5 878.2 170.1 878.7 170.1 879.2 169.8 879.7 169.9 880.2 169.3 880.7 169.4 881.2 168.1 881.7 167.5 882.2 166.6 882.7 165.8 883.2 166.4 883.7 165.8 884.2 165 884.7 163.9 885.2 163.8 885.7 163 886.2 162.2 886.7 161.3 887.2 160.8 887.7 158.9 888.2 159.6 888.7 158.6 889.2 158.1 889.7 157.2 890.2 155.7 890.7 154.9 891.2 154 891.7 152.4 892.2 152.9 892.7 152.2 893.2 151.7 893.7 153 894.2 152.5 894.7 152.3 895.2 154.8 895.7 155.9 896.2 156.1 896.7 157.7 897.2 157.9 897.7 158.6 898.2 159.9 898.7 160.5 899.2 159.5 899.7 160.7 900.2 162.3 900.7 162.8 901.2 163.7 901.7 164.9 902.2 165.1 902.7 166.3 903.2 166.7 903.7 167.1 904.2 167.1 904.7 168 905.2 167 905.7 169 906.2 169.2 906.7 170.2 907.2 169.4 907.7 169.3 908.2 168.1 908.7 170 909.2 169.3 909.7 169.8 910.2 170.2 910.7 169.6 911.2 170.2 911.7 168.1 912.2 170.1 912.7 168.2 913.2 170 913.7 169.4 914.2 170 914.7 169.4 915.2 168 915.7 168.5 916.2 167.8 916.7 167.3 917.2 166.3 917.7 165.8 918.2 164.7 918.7 164.6 919.2 164.1 919.7 162.4 920.2 161.7 920.7 161.5 921.2 160.1 921.7 159.9 922.2 159.9 922.7 158.3 923.2 157.6 923.7 157.2 924.2 155.9 924.7 154.9 925.2 154.7 925.7 153.8 926.2 152.2 926.7 152.8 927.2 150.8 927.7 151.8 928.2 152.5 928.7 153.7 929.2 154.2 929.7 155.3 930.2 156.1 930.7 156.8 931.2 157.4 931.7 158.3 932.2 159.4 932.7 160 933.2 161 933.7 158.3 934.2 162.2 934.7 163.2 935.2 163.5 935.7 163.6 936.2 164.5 936.7 165.4 937.2 165.7 937.7 166 938.2 167.3 938.7 168.1 939.2 168.5 939.7 169.1 940.2 169.1 940.7 169.7 941.2 169.4 941.7 169.6 942.2 169.3 942.7 169.9 943.2 170.3 943.7 168.8 944.2 169.5 944.7 169.8 945.2 169.7 945.7 169.7 946.2 169 946.7 169.4 947.2 168.8 947.7 170.4 948.2 170.1 948.7 169.5 949.2 168 949.7 166.9 950.2 168.3 950.7 167.1 951.2 166.5 951.7 165.6 952.2 164.5 952.7 162.3 953.2 164.3 953.7 162.5 954.2 161.7 954.7 161.9 955.2 161.6 955.7 159.6 956.2 159.6 956.7 156.7 957.2 157.4 957.7 157.3 958.2 156.1 958.7 154.8 959.2 155.2 959.7 154.4 960.2 153.3 960.7 151.6 961.2 151.4 961.7 151.7 962.2 152.4 962.7 153.2 963.2 154.2 963.7 153.9 964.2 155.8 964.7 155.8 965.2 157.2 965.7 158.3 966.2 159.3 966.7 159.7 967.2 160.8 967.7 161.1 968.2 160.6 968.7 162.1 969.2 162.6 969.7 162.6 970.2 164.8 970.7 165.5 971.2 166.4 971.7 166.5 972.2 167.1 972.7 167.9 973.2 168.7 973.7 169.1 974.2 168.3 974.7 169.8 975.2 169.5 975.7 169.6 976.2 170.1 976.7 170.2 977.2 169.8 977.7 169.9 978.2 170 978.7 170.1 979.2 170.3 979.7 169.2 980.2 170.2 980.7 170.2 981.2 170.4 981.7 169.3 982.2 169.7 982.7 169.6 983.2 168.6 983.7 167.5 984.2 167.5 984.7 167.7 985.2 166.6 985.7 165.7 986.2 163.7 986.7 165.7 987.2 164.9 987.7 164.3 988.2 163.6 988.7 162.1 989.2 162.6 989.7 161.7 990.2 159.9 990.7 160.2 991.2 159.6 991.7 158.1 992.2 157.4 992.7 156.5 993.2 155.2 993.7 155.2 994.2 155 994.7 153.2 995.2 152.9 995.7 152 996.2 153.7 996.7 153.8 997.2 153.5 997.7 155.9 998.2 156.8 998.7 157.2 999.2 156.6 999.7 158.7 1000.2 158.5 1000.7 160.5 1001.2 160.8 1001.7 160.9 1002.2 162.5 1002.7 163 1003.2 162.7 1003.7 164.3 1004.2 164.6 1004.7 163.5 1005.2 166.1 1005.7 166.5 1006.2 167.3 1006.7 166.6 1007.2 167.8 1007.7 167.5 1008.2 168.9 1008.7 169.9 1009.2 170.2 1009.7 169.7 1010.2 170.3 1010.7 169.6 1011.2 170.2 1011.7 166.2 1012.2 170.2 1012.7 166.2 1013.2 170.1 1013.7 170.2 1014.2 170.1 1014.7 169.9 1015.2 169.1 1015.7 169.4 1016.2 170.3 1016.7 169.8 1017.2 168.5 1017.7 168.4 1018.2 168.2 1018.7 167.4 1019.2 166.5 1019.7 163 1020.2 165.6 1020.7 164.2 1021.2 164.2 1021.7 163 1022.2 162.6 1022.7 162.4 1023.2 161.8 1023.7 160.3 1024.2 159.7 1024.7 159 1025.2 158.1 1025.7 157.3 1026.2 156.4 1026.7 155.6 1027.2 154.4 1027.7 153.8 1028.2 152.4 1028.7 152.4 1029.2 150.7 1029.7 150.5 1030.2 149.7 1030.7 151.9 1031.2 151.2 1031.7 153 1032.2 153.1 1032.7 154.3 1033.2 155.6 1033.7 156.8 1034.2 157.7 1034.7 156.9 1035.2 159.1 1035.7 159.9 1036.2 160.8 1036.7 161.1 1037.2 162.1 1037.7 161.7 1038.2 163.4 1038.7 164.3 1039.2 163.7 1039.7 166.3 1040.2 166.5 1040.7 166.8 1041.2 167.4 1041.7 168 1042.2 169.1 1042.7 168.7 1043.2 170 1043.7 169.1 1044.2 169.4 1044.7 166.9 1045.2 169.9 1045.7 169.6 1046.2 169.4 1046.7 169.4 1047.2 170.2 1047.7 168.6 1048.2 169.5 1048.7 168.8 1049.2 169.5 1049.7 169.8 1050.2 169.6 1050.7 170.2 1051.2 169.6 1051.7 168.1 1052.2 168.5 1052.7 168.1 1053.2 167 1053.7 166.1 1054.2 165.4 1054.7 165.2 1055.2 164.8 1055.7 162.4 1056.2 162.5 1056.7 161.6 1057.2 160.9 1057.7 160.3 1058.2 159.4 1058.7 157.4 1059.2 158 1059.7 157.3 1060.2 156.6 1060.7 153.6 1061.2 154.3 1061.7 154.3 1062.2 152.6 1062.7 152.4 1063.2 151.5 1063.7 150.7 1064.2 149.3 1064.7 150.7 1065.2 151.2 1065.7 152.9 1066.2 153.7 1066.7 154.5 1067.2 154.1 1067.7 155.9 1068.2 155.7 1068.7 156.4 1069.2 158.2 1069.7 158.5 1070.2 160.4 1070.7 160.7 1071.2 161 1071.7 161.8 1072.2 163.7 1072.7 164 1073.2 164.7 1073.7 165.7 1074.2 165.9 1074.7 166.3 1075.2 167.2 1075.7 168.5 1076.2 168.8 1076.7 169.5 1077.2 168.9 1077.7 170.1 1078.2 170.2 1078.7 169.9 1079.2 170.2 1079.7 170 1080.2 170.2 1080.7 169.5 1081.2 169.9 1081.7 170.3 1082.2 170 1082.7 169.2 1083.2 170.4 1083.7 169.3 1084.2 170.2 1084.7 168.8 1085.2 169.6 1085.7 169 1086.2 169 1086.7 168.3 1087.2 167.4 1087.7 166.4 1088.2 166 1088.7 165.2 1089.2 165 1089.7 163.9 1090.2 163.9 1090.7 162.9 1091.2 162.8 1091.7 161.2 1092.2 160 1092.7 160.5 1093.2 159.2 1093.7 158.8 1094.2 157.2 1094.7 157.1 1095.2 156.4 1095.7 155.1 1096.2 154.5 1096.7 153.9 1097.2 153.3 1097.7 152.1 1098.2 150.2 1098.7 151.5 1099.2 152.9 1099.7 152.7 1100.2 154 1100.7 154.6 1101.2 155.9 1101.7 154.7 1102.2 157.5 1102.7 158.6 1103.2 159.1 1103.7 160 1104.2 159.3 1104.7 160.6 1105.2 162.1 1105.7 163.3 1106.2 162.7 1106.7 164.2 1107.2 164.9 1107.7 165.6 1108.2 166.3 1108.7 166.3 1109.2 166.9 1109.7 168.2 1110.2 168.4 1110.7 168.3 1111.2 169.8 1111.7 168.7 1112.2 168.9 1112.7 169.6 1113.2 169.7 1113.7 169 1114.2 169.1 1114.7 168.5 1115.2 170.4 1115.7 170.2 1116.2 169.5 1116.7 170.4 1117.2 169 1117.7 170.3 1118.2 170.2 1118.7 169.3 1119.2 169.9 1119.7 169 1120.2 168.7 1120.7 168.8 1121.2 167.9 1121.7 167.5 1122.2 166.8 1122.7 165.4 1123.2 165.6 1123.7 164.4 1124.2 163.4 1124.7 162.5 1125.2 162.3 1125.7 161.8 1126.2 160.7 1126.7 159.2 1127.2 160 1127.7 158.4 1128.2 158.2 1128.7 157.1 1129.2 156.5 1129.7 155.3 1130.2 155.1 1130.7 153.8 1131.2 153.4 1131.7 152.4 1132.2 150.8 1132.7 150 1133.2 150.9 1133.7 153 1134.2 153.6 1134.7 154.8 1135.2 155.5 1135.7 154.9 1136.2 156.1 1136.7 157.9 1137.2 158.9 1137.7 159.9 1138.2 159.7 1138.7 160.6 1139.2 161.8 1139.7 162 1140.2 161.3 1140.7 163.5 1141.2 164.8 1141.7 165 1142.2 165.4 1142.7 166.9 1143.2 166 1143.7 167.8 1144.2 168 1144.7 168.6 1145.2 168.1 1145.7 169.8 1146.2 170 1146.7 169.3 1147.2 168.1 1147.7 169.4 1148.2 166.5 1148.7 170.1 1149.2 169.1 1149.7 170.3 1150.2 169.8 1150.7 169.5 1151.2 169.7 1151.7 169.9 1152.2 169.6 1152.7 170 1153.2 169.3 1153.7 169.2 1154.2 167.9 1154.7 168.8 1155.2 168.6 1155.7 167.2 1156.2 165.7 1156.7 165.9 1157.2 166 1157.7 165.5 1158.2 164 1158.7 162.7 1159.2 162.4 1159.7 163.2 1160.2 161.2 1160.7 161.5 1161.2 159.3 1161.7 160.3 1162.2 159.9 1162.7 158.5 1163.2 157.8 1163.7 157.1 1164.2 156.3 1164.7 155.3 1165.2 153.7 1165.7 154.1 1166.2 152.5 1166.7 152 1167.2 152.8 1167.7 154.5 1168.2 154.9 1168.7 156.1 1169.2 156.2 1169.7 157.3 1170.2 158.4 1170.7 158.7 1171.2 159.8 1171.7 159.9 1172.2 160.4 1172.7 161.5 1173.2 161.5 1173.7 163.2 1174.2 164 1174.7 164 1175.2 164.1 1175.7 165 1176.2 166 1176.7 166.4 1177.2 167 1177.7 167.5 1178.2 167.8 1178.7 168.6 1179.2 168.7 1179.7 169.1 1180.2 168.2 1180.7 170.3 1181.2 169.8 1181.7 169.9 1182.2 170.3 1182.7 168.5 1183.2 168.6 1183.7 169.9 1184.2 168.3 1184.7 169.8 1185.2 170.3 1185.7 168.9 1186.2 168.9 1186.7 169.9 1187.2 169.4 1187.7 168.6 1188.2 168 1188.7 168.7 1189.2 168.3 1189.7 167.5 1190.2 166.5 1190.7 166 1191.2 165 1191.7 165.1 1192.2 163.9 1192.7 164.1 1193.2 161.8 1193.7 162.4 1194.2 161.9 1194.7 161.2 1195.2 160.5 1195.7 159.6 1196.2 158.7 1196.7 158.2 1197.2 156.1 1197.7 155.8 1198.2 154.8 1198.7 153.7 1199.2 154.1 1199.7 153 1200.2 151.6 1200.7 150.9 1201.2 151.6 1201.7 151.8 1202.2 149.4 1202.7 149.5 1203.2 154.8 1203.7 155.5 1204.2 154.6 1204.7 157.4 1205.2 157.9 1205.7 159.2 1206.2 159.9 1206.7 159.8 1207.2 160.9 1207.7 162.1 1208.2 162.2 1208.7 163.6 1209.2 162.9 1209.7 164.9 1210.2 165.8 1210.7 165.8 1211.2 166.5 1211.7 167.2 1212.2 167.5 1212.7 168.7 1213.2 168.5 1213.7 169 1214.2 169.8 1214.7 170.1 1215.2 169.4 1215.7 169.9 1216.2 169.6 1216.7 169.4 1217.2 169.5 1217.7 169.3 1218.2 170.1 1218.7 170.1 1219.2 169.8 1219.7 169.7 1220.2 170 1220.7 170 1221.2 170 1221.7 169.5 1222.2 169 1222.7 168.8 1223.2 168.5 1223.7 167.9 1224.2 167.7 1224.7 166.7 1225.2 166.8 1225.7 165.3 1226.2 163.2 1226.7 164.8 1227.2 163.6 1227.7 161.6 1228.2 162.6 1228.7 160.6 1229.2 160.9 1229.7 160.2 1230.2 159.7 1230.7 158.4 1231.2 156.8 1231.7 156.3 1232.2 157 1232.7 155.6 1233.2 155.3 1233.7 154.6 1234.2 153 1234.7 152.7 1235.2 151.4 1235.7 152.2 1236.2 153.5 1236.7 154.9 1237.2 155.4 1237.7 155.1 1238.2 155.9 1238.7 157.6 1239.2 158.6 1239.7 159 1240.2 160.2 1240.7 160.5 1241.2 161.3 1241.7 160.5 1242.2 162.1 1242.7 163.1 1243.2 163.6 1243.7 164.7 1244.2 165.7 1244.2 190.8 1243.7 191.1 1243.2 193.6 1242.7 192.6 1242.2 194 1241.7 194.2 1241.2 194.7 1240.7 195.9 1240.2 196.7 1239.7 197.3 1239.2 197.6 1238.7 198.4 1238.2 200 1237.7 201.4 1237.2 200.9 1236.7 202 1236.2 200.8 1235.7 199.9 1235.2 199.8 1234.7 198.4 1234.2 197.6 1233.7 198 1233.2 196.6 1232.7 197.3 1232.2 195.6 1231.7 195.1 1231.2 193.4 1230.7 193.2 1230.2 192.2 1229.7 192.8 1229.2 191.7 1228.7 190.6 1228.2 189.7 1227.7 190.7 1227.2 188.5 1226.7 189 1226.2 187.8 1225.7 186.8 1225.2 187.1 1224.7 186.4 1224.2 185.6 1223.7 185.8 1223.2 185.3 1222.7 184.4 1222.2 184.4 1221.7 184.7 1221.2 184.4 1220.7 185.2 1220.2 184.8 1219.7 185 1219.2 184.5 1218.7 185.2 1218.2 184.6 1217.7 184.7 1217.2 185.4 1216.7 185.3 1216.2 184.3 1215.7 185.3 1215.2 185 1214.7 185.7 1214.2 186.2 1213.7 186.3 1213.2 188.4 1212.7 188.3 1212.2 188.4 1211.7 188.9 1211.2 189.2 1210.7 190.5 1210.2 191.2 1209.7 192 1209.2 192.2 1208.7 192.6 1208.2 193.3 1207.7 193.9 1207.2 195.9 1206.7 196.3 1206.2 196.2 1205.7 196.7 1205.2 197.6 1204.7 199.3 1204.2 199 1203.7 200.3 1203.2 201.3 1202.7 201.8 1202.2 201.9 1201.7 201.3 1201.2 200.1 1200.7 200.4 1200.2 200.1 1199.7 198.2 1199.2 198.9 1198.7 196.4 1198.2 195.7 1197.7 198.4 1197.2 194.6 1196.7 194.5 1196.2 193.2 1195.7 192.6 1195.2 192.1 1194.7 191.6 1194.2 190.2 1193.7 190.7 1193.2 189.7 1192.7 189.1 1192.2 188.4 1191.7 187 1191.2 187 1190.7 186.7 1190.2 186.3 1189.7 185 1189.2 184.6 1188.7 185.1 1188.2 185.3 1187.7 184.5 1187.2 184.5 1186.7 184.9 1186.2 184.7 1185.7 185.3 1185.2 184.6 1184.7 185.6 1184.2 185.2 1183.7 185 1183.2 184.9 1182.7 184.6 1182.2 185.2 1181.7 184.9 1181.2 185.4 1180.7 188.7 1180.2 186.5 1179.7 186.3 1179.2 188.1 1178.7 187.5 1178.2 187.9 1177.7 188.5 1177.2 189.7 1176.7 191.3 1176.2 190.6 1175.7 191.3 1175.2 192.5 1174.7 192.4 1174.2 195.6 1173.7 194 1173.2 194.7 1172.7 196 1172.2 196.7 1171.7 197.2 1171.2 197.8 1170.7 198.6 1170.2 199.5 1169.7 200.9 1169.2 201.3 1168.7 202.2 1168.2 202.4 1167.7 202.6 1167.2 201.6 1166.7 201.1 1166.2 199.9 1165.7 199.8 1165.2 199.4 1164.7 196.9 1164.2 196.2 1163.7 195.9 1163.2 194.7 1162.7 195 1162.2 193.2 1161.7 192.6 1161.2 192.1 1160.7 191.2 1160.2 191.4 1159.7 191.7 1159.2 189.2 1158.7 188.6 1158.2 187.9 1157.7 187.5 1157.2 187 1156.7 186.9 1156.2 186.2 1155.7 186 1155.2 184.7 1154.7 184.7 1154.2 184.5 1153.7 185 1153.2 184.7 1152.7 184.4 1152.2 185 1151.7 184.5 1151.2 185.7 1150.7 184.8 1150.2 184.5 1149.7 185.2 1149.2 184.6 1148.7 184.9 1148.2 184.4 1147.7 185.5 1147.2 184.7 1146.7 185.9 1146.2 185.8 1145.7 186.6 1145.2 186.5 1144.7 188.1 1144.2 188.1 1143.7 188.4 1143.2 189.7 1142.7 189.4 1142.2 191.2 1141.7 191.8 1141.2 192 1140.7 192.5 1140.2 193.1 1139.7 193.7 1139.2 194.5 1138.7 196 1138.2 195.8 1137.7 196.5 1137.2 198 1136.7 198.7 1136.2 199.9 1135.7 201 1135.2 200.4 1134.7 201.4 1134.2 202.8 1133.7 202.2 1133.2 201.8 1132.7 201.9 1132.2 199.9 1131.7 198.9 1131.2 197.9 1130.7 197.8 1130.2 197.3 1129.7 196.2 1129.2 194.8 1128.7 195 1128.2 193.4 1127.7 193.2 1127.2 193.1 1126.7 191.6 1126.2 191.1 1125.7 191 1125.2 189.7 1124.7 188.6 1124.2 190 1123.7 187.5 1123.2 188.1 1122.7 186.3 1122.2 186.8 1121.7 185.7 1121.2 185.7 1120.7 185.6 1120.2 184.6 1119.7 184.5 1119.2 184.5 1118.7 186.3 1118.2 185.6 1117.7 186.6 1117.2 184.9 1116.7 184.8 1116.2 184.3 1115.7 184.8 1115.2 184.8 1114.7 186.5 1114.2 185.7 1113.7 184.8 1113.2 184.8 1112.7 185.3 1112.2 185.6 1111.7 186.3 1111.2 186.9 1110.7 187.3 1110.2 188.2 1109.7 187.9 1109.2 189.1 1108.7 189.5 1108.2 189.8 1107.7 190.2 1107.2 191.3 1106.7 191.8 1106.2 192.3 1105.7 194.2 1105.2 193.4 1104.7 194.1 1104.2 195.1 1103.7 196.9 1103.2 196.7 1102.7 197.1 1102.2 198.5 1101.7 198.4 1101.2 199.6 1100.7 200.1 1100.2 201.2 1099.7 201.6 1099.2 200.7 1098.7 199.8 1098.2 199.5 1097.7 199.1 1097.2 198.3 1096.7 196.9 1096.2 196.9 1095.7 196.6 1095.2 195 1094.7 194.5 1094.2 193.3 1093.7 194.7 1093.2 191.9 1092.7 191.2 1092.2 191.4 1091.7 190.1 1091.2 190.5 1090.7 189.3 1090.2 189.2 1089.7 188.3 1089.2 187.1 1088.7 186.6 1088.2 186 1087.7 186 1087.2 186.7 1086.7 184.8 1086.2 184.7 1085.7 184.7 1085.2 184.3 1084.7 186 1084.2 185.1 1083.7 184.6 1083.2 185 1082.7 184.3 1082.2 185.4 1081.7 185.8 1081.2 184.3 1080.7 184.6 1080.2 186.1 1079.7 185.7 1079.2 185.7 1078.7 185.6 1078.2 186.3 1077.7 186.6 1077.2 187.2 1076.7 188.8 1076.2 188.4 1075.7 188.3 1075.2 188.6 1074.7 189.7 1074.2 189.8 1073.7 190.5 1073.2 192 1072.7 193.1 1072.2 193.7 1071.7 193.7 1071.2 195.2 1070.7 195.1 1070.2 196.8 1069.7 197.4 1069.2 198 1068.7 199.2 1068.2 200.4 1067.7 199.9 1067.2 200.9 1066.7 201.7 1066.2 202.8 1065.7 203.7 1065.2 203.2 1064.7 201.9 1064.2 201.1 1063.7 202.5 1063.2 201.2 1062.7 200.5 1062.2 198.2 1061.7 197.5 1061.2 196 1060.7 196.4 1060.2 197.9 1059.7 193.7 1059.2 193.4 1058.7 192.4 1058.2 192 1057.7 191.1 1057.2 190.6 1056.7 189.4 1056.2 191.1 1055.7 188.6 1055.2 188.5 1054.7 187.5 1054.2 187.9 1053.7 186.2 1053.2 185.8 1052.7 185.5 1052.2 184.8 1051.7 184.6 1051.2 184.8 1050.7 184.5 1050.2 186 1049.7 184.4 1049.2 184.7 1048.7 184.3 1048.2 185.2 1047.7 185.6 1047.2 185.3 1046.7 186.1 1046.2 185.1 1045.7 184.4 1045.2 184.8 1044.7 184.8 1044.2 185.6 1043.7 185.6 1043.2 186.4 1042.7 186.6 1042.2 187.8 1041.7 187.9 1041.2 189.1 1040.7 189.1 1040.2 191.3 1039.7 190.9 1039.2 191.3 1038.7 191.8 1038.2 192.3 1037.7 193.9 1037.2 193.9 1036.7 194.4 1036.2 195.9 1035.7 195.8 1035.2 196.5 1034.7 198.3 1034.2 198.3 1033.7 199.7 1033.2 199.9 1032.7 200.3 1032.2 201.7 1031.7 202.5 1031.2 202.3 1030.7 201.3 1030.2 201 1029.7 199.8 1029.2 200.7 1028.7 199.4 1028.2 197.8 1027.7 196.9 1027.2 196.3 1026.7 195.8 1026.2 194.8 1025.7 193.8 1025.2 194.2 1024.7 193.4 1024.2 193.2 1023.7 191.8 1023.2 190.3 1022.7 189.5 1022.2 189.8 1021.7 188.5 1021.2 188.4 1020.7 187.8 1020.2 186.5 1019.7 187.2 1019.2 187.1 1018.7 187 1018.2 184.7 1017.7 185.2 1017.2 184.8 1016.7 185.5 1016.2 185.4 1015.7 184.4 1015.2 185.7 1014.7 185.2 1014.2 185 1013.7 184.5 1013.2 184.8 1012.7 185.5 1012.2 185.6 1011.7 185 1011.2 186.6 1010.7 185.9 1010.2 185.1 1009.7 185.6 1009.2 186.6 1008.7 187.1 1008.2 187.7 1007.7 188.9 1007.2 188 1006.7 188.7 1006.2 190 1005.7 191 1005.2 191.8 1004.7 192.4 1004.2 191.9 1003.7 192.6 1003.2 193.2 1002.7 194.3 1002.2 194.9 1001.7 195.7 1001.2 198.8 1000.7 197 1000.2 198.6 999.7 199.8 999.2 199.5 998.7 200 998.2 201.5 997.7 202.1 997.2 203 996.7 202.1 996.2 201.2 995.7 200.3 995.2 200.1 994.7 199.1 994.2 197.7 993.7 197.9 993.2 196.2 992.7 196.6 992.2 194.9 991.7 195.2 991.2 194.2 990.7 193.2 990.2 193.3 989.7 192.2 989.2 192.2 988.7 190 988.2 189.4 987.7 188.6 987.2 187.9 986.7 188 986.2 188.3 985.7 187.8 985.2 186.2 984.7 185.3 984.2 185.1 983.7 185.4 983.2 185.8 982.7 184.8 982.2 184.5 981.7 184.3 981.2 184.3 980.7 184.9 980.2 186.4 979.7 184.5 979.2 185.2 978.7 184.8 978.2 184.3 977.7 185.3 977.2 184.6 976.7 185.9 976.2 186.5 975.7 185.5 975.2 187.2 974.7 187.5 974.2 187.3 973.7 187.1 973.2 187.6 972.7 188.3 972.2 189.1 971.7 190.4 971.2 190 970.7 192.5 970.2 191.6 969.7 192.7 969.2 192.8 968.7 193.4 968.2 195.8 967.7 195.1 967.2 196.2 966.7 197 966.2 197.7 965.7 198.3 965.2 198.9 964.7 201.4 964.2 201.9 963.7 203.5 963.2 201.8 962.7 201.6 962.2 201.6 961.7 200.2 961.2 199.5 960.7 198.4 960.2 199.8 959.7 197.9 959.2 196.7 958.7 196.6 958.2 195 957.7 194.9 957.2 193.5 956.7 194.5 956.2 192.1 955.7 191.8 955.2 191.4 954.7 191.3 954.2 190.2 953.7 188.7 953.2 188.3 952.7 188.1 952.2 187 951.7 186.6 951.2 186 950.7 185.4 950.2 185 949.7 186.3 949.2 185.7 948.7 189.2 948.2 184.4 947.7 184.3 947.2 184.4 946.7 185.5 946.2 184.8 945.7 184.7 945.2 184.6 944.7 185.5 944.2 186.4 943.7 184.6 943.2 185.7 942.7 184.5 942.2 184.7 941.7 185.6 941.2 186.6 940.7 186.9 940.2 186.5 939.7 187.4 939.2 188.5 938.7 188.3 938.2 188.7 937.7 190.6 937.2 191.3 936.7 191.5 936.2 191.7 935.7 192.7 935.2 193.1 934.7 194.7 934.2 195.2 933.7 195.5 933.2 196.7 932.7 198.6 932.2 198 931.7 199.8 931.2 199.9 930.7 201.3 930.2 200.8 929.7 201.7 929.2 202.8 928.7 203.5 928.2 202.1 927.7 202.7 927.2 200.6 926.7 200.2 926.2 199.6 925.7 199 925.2 198 924.7 196.4 924.2 196.2 923.7 194.9 923.2 194.3 922.7 193.9 922.2 193.2 921.7 192.5 921.2 191.1 920.7 190.5 920.2 190.1 919.7 189.4 919.2 189.5 918.7 188.9 918.2 188.4 917.7 187.6 917.2 186.7 916.7 187.2 916.2 185.2 915.7 185.4 915.2 185.3 914.7 184.3 914.2 184.5 913.7 184.7 913.2 185.2 912.7 185.5 912.2 185 911.7 184.9 911.2 184.6 910.7 185.2 910.2 185 909.7 186.2 909.2 184.6 908.7 186.2 908.2 185.1 907.7 187.2 907.2 185.9 906.7 186.1 906.2 186.4 905.7 186.6 905.2 187.2 904.7 190.6 904.2 189.8 903.7 188.9 903.2 190.1 902.7 191.2 902.2 191.6 901.7 192 901.2 192.6 900.7 193.4 900.2 194.7 899.7 195.1 899.2 195.8 898.7 196.4 898.2 197.4 897.7 198 897.2 199.7 896.7 199.7 896.2 200.5 895.7 201.6 895.2 201.9 894.7 202.6 894.2 202.8 893.7 202.1 893.2 201.5 892.7 199.8 892.2 199 891.7 198.7 891.2 197.2 890.7 196.3 890.2 195.6 889.7 196.4 889.2 195 888.7 195.2 888.2 193.1 887.7 193.5 887.2 192 886.7 190.9 886.2 189.9 885.7 189.6 885.2 189.1 884.7 189.1 884.2 188.7 883.7 186.9 883.2 186.5 882.7 186 882.2 186.6 881.7 184.9 881.2 184.5 880.7 184.6 880.2 184.4 879.7 185.2 879.2 184.5 878.7 185.9 878.2 185.3 877.7 184.9 877.2 184.4 876.7 185 876.2 184.3 875.7 186.1 875.2 186.3 874.7 185.8 874.2 185.2 873.7 184.9 873.2 185 872.7 186.1 872.2 186.5 871.7 187.3 871.2 187.6 870.7 187.8 870.2 189.8 869.7 190.4 869.2 190 868.7 190.7 868.2 191.5 867.7 193.6 867.2 194.1 866.7 194.2 866.2 194.5 865.7 195.4 865.2 196.1 864.7 197 864.2 198.1 863.7 199.1 863.2 200.6 862.7 201.4 862.2 201.8 861.7 202.6 861.2 203.1 860.7 204.3 860.2 204.6 859.7 205.1 859.2 204.5 858.7 201.3 858.2 201.5 857.7 200.6 857.2 199.5 856.7 198.1 856.2 197.2 855.7 198 855.2 195.5 854.7 195.3 854.2 193.7 853.7 193.1 853.2 192.7 852.7 193.2 852.2 191.5 851.7 190.5 851.2 189.8 850.7 189.3 850.2 188.9 849.7 187.4 849.2 188.1 848.7 186.6 848.2 185.6 847.7 186.1 847.2 184.7 846.7 185 846.2 184.7 845.7 185 845.2 184.7 844.7 184.9 844.2 185.9 843.7 185.6 843.2 184.4 842.7 185.3 842.2 185.2 841.7 185.1 841.2 184.6 840.7 184.7 840.2 184.5 839.7 184.5 839.2 185.1 838.7 186.8 838.2 186.1 837.7 186.3 837.2 188.4 836.7 187.6 836.2 188 835.7 189.5 835.2 190.1 834.7 190.5 834.2 190.7 833.7 191.8 833.2 193.3 832.7 193 832.2 195 831.7 195.1 831.2 196.1 830.7 196.1 830.2 197 829.7 198.8 829.2 198.5 828.7 199.4 828.2 199.9 827.7 200.7 827.2 204 826.7 203.3 826.2 204.1 825.7 203.2 825.2 201.8 824.7 200.7 824.2 200.6 823.7 199.1 823.2 198.7 822.7 197.6 822.2 196.7 821.7 196.9 821.2 195.9 820.7 195.1 820.2 193.8 819.7 194.7 819.2 192.3 818.7 192.8 818.2 190.6 817.7 190 817.2 190.1 816.7 190.5 816.2 190.9 815.7 188.1 815.2 187.1 814.7 186.9 814.2 187.9 813.7 188.2 813.2 186.2 812.7 186 812.2 185.1 811.7 185 811.2 185.1 810.7 184.6 810.2 184.8 809.7 185.3 809.2 184.7 808.7 184.6 808.2 184.4 807.7 185.9 807.2 185.4 806.7 186.1 806.2 185.5 805.7 185.2 805.2 185.9 804.7 185.3 804.2 186.5 803.7 188 803.2 187.5 802.7 188.1 802.2 187.7 801.7 188.6 801.2 189.4 800.7 190.3 800.2 190.3 799.7 190.6 799.2 191.7 798.7 193 798.2 193.8 797.7 193.5 797.2 194.6 796.7 195.3 796.2 197.2 795.7 196.8 795.2 198.1 794.7 198 794.2 199.6 793.7 200.9 793.2 200.2 792.7 201.7 792.2 202.6 791.7 201.8 791.2 200.9 790.7 200.5 790.2 199.6 789.7 198.5 789.2 198.3 788.7 197.3 788.2 197.3 787.7 195.4 787.2 195.7 786.7 194.9 786.2 194.3 785.7 192.8 785.2 196 784.7 191.9 784.2 190.8 783.7 190.2 783.2 189.8 782.7 188.6 782.2 189.7 781.7 188.6 781.2 187.2 780.7 187.3 780.2 186.2 779.7 185.3 779.2 185.4 778.7 185.8 778.2 185 777.7 184.9 777.2 184.9 776.7 185.7 776.2 184.7 775.7 184.4 775.2 185 774.7 184.8 774.2 185.1 773.7 185.5 773.2 185.1 772.7 184.9 772.2 186.6 771.7 184.5 771.2 185.8 770.7 185.4 770.2 186.4 769.7 185.9 769.2 187.3 768.7 187 768.2 188.3 767.7 189.2 767.2 189.5 766.7 189.3 766.2 191.8 765.7 190.7 765.2 192.9 764.7 192.5 764.2 193.5 763.7 193.2 763.2 194 762.7 194.9 762.2 195.4 761.7 196.3 761.2 197.6 760.7 198.7 760.2 198.5 759.7 199.2 759.2 200.7 758.7 200.7 758.2 202.1 757.7 202.2 757.2 201.9 756.7 200.4 756.2 201.9 755.7 199.9 755.2 199.2 754.7 197.7 754.2 197.3 753.7 196.5 753.2 195.4 752.7 194.5 752.2 193.7 751.7 193.5 751.2 192.4 750.7 191.9 750.2 191.4 749.7 190.5 749.2 189.5 748.7 188.9 748.2 188.6 747.7 188.6 747.2 188.4 746.7 187.1 746.2 186.6 745.7 185.5 745.2 186.3 744.7 185.2 744.2 184.7 743.7 184.6 743.2 184.3 742.7 184.5 742.2 184.5 741.7 184.3 741.2 183.3 740.7 183.3 740.2 183.3Z" fill="#6f9fb7" clip-path="url(#cb1)"/>
<clipPath id="cb2"><rect x="739.5" y="225.8" width="503.8" height="92.2"/></clipPath>
<path d="M740.2 252 740.7 258.2 741.2 259.4 741.7 262.4 742.2 261.8 742.7 260.4 743.2 261.3 743.7 263.2 744.2 263.7 744.7 266.7 745.2 265.3 745.7 266.9 746.2 266.3 746.7 264.6 747.2 262 747.7 263.5 748.2 261.7 748.7 260.4 749.2 260.9 749.7 258.3 750.2 257 750.7 255.7 751.2 256.7 751.7 253.5 752.2 258 752.7 259.7 753.2 261.2 753.7 263.9 754.2 263 754.7 262.6 755.2 261.6 755.7 260.3 756.2 259.7 756.7 259.8 757.2 260.2 757.7 260.9 758.2 260.4 758.7 261 759.2 255.2 759.7 248.4 760.2 249.1 760.7 241.3 761.2 240.5 761.7 237.3 762.2 233.8 762.7 237.2 763.2 232.6 763.7 231 764.2 221.8 764.7 223.3 765.2 219 765.7 219.2 766.2 221.2 766.7 225.8 767.2 226 767.7 225.3 768.2 225.2 768.7 233.7 769.2 227.2 769.7 236.9 770.2 237.3 770.7 237.3 771.2 237.3 771.7 239 772.2 232 772.7 235.7 773.2 237.5 773.7 240.2 774.2 241.5 774.7 235.3 775.2 240.9 775.7 246.8 776.2 246.2 776.7 249.5 777.2 239.9 777.7 239.4 778.2 246.2 778.7 241.5 779.2 245.2 779.7 245.7 780.2 249.5 780.7 253.6 781.2 257.2 781.7 259.7 782.2 262.6 782.7 261 783.2 259.8 783.7 258.8 784.2 257.9 784.7 256.9 785.2 259.9 785.7 261.7 786.2 261.3 786.7 261.2 787.2 261.6 787.7 258.7 788.2 257.1 788.7 259.9 789.2 260.4 789.7 254.5 790.2 257.5 790.7 255.7 791.2 255.5 791.7 256.8 792.2 255.9 792.7 257.5 793.2 261.1 793.7 262.8 794.2 263.8 794.7 264.7 795.2 265.9 795.7 266 796.2 265 796.7 263.5 797.2 262.5 797.7 261.6 798.2 260.1 798.7 257.6 799.2 257.6 799.7 253.3 800.2 253.3 800.7 253.2 801.2 251.6 801.7 249.7 802.2 252.2 802.7 250 803.2 245.2 803.7 246 804.2 245 804.7 249.1 805.2 249 805.7 250.5 806.2 253.9 806.7 251.3 807.2 247.7 807.7 246 808.2 243 808.7 242.4 809.2 242.8 809.7 252.1 810.2 247.8 810.7 250.8 811.2 253.3 811.7 249.1 812.2 249.9 812.7 251.8 813.2 259.1 813.7 257.4 814.2 257.9 814.7 256.8 815.2 255.8 815.7 253 816.2 256.8 816.7 258.5 817.2 259.6 817.7 260.4 818.2 256.1 818.7 257.5 819.2 257.1 819.7 255.9 820.2 255.5 820.7 254.7 821.2 253.2 821.7 255 822.2 252.4 822.7 247.9 823.2 246.9 823.7 240.3 824.2 234.7 824.7 244.8 825.2 245.9 825.7 243.4 826.2 244.6 826.7 243.9 827.2 242 827.7 240.8 828.2 244.8 828.7 247.9 829.2 246.9 829.7 239.2 830.2 234.1 830.7 234.9 831.2 234.6 831.7 227.9 832.2 225.9 832.7 225 833.2 236.8 833.7 240.6 834.2 241.7 834.7 242.3 835.2 244.1 835.7 241.7 836.2 240 836.7 243.8 837.2 244.3 837.7 243.2 838.2 247.9 838.7 245.1 839.2 242.9 839.7 249.7 840.2 247.3 840.7 251.8 841.2 254 841.7 256.5 842.2 258 842.7 258.6 843.2 256 843.7 255.9 844.2 256.4 844.7 254.1 845.2 256.5 845.7 254.6 846.2 249.9 846.7 247 847.2 246.7 847.7 247.4 848.2 246.1 848.7 251 849.2 249.7 849.7 250.1 850.2 250.1 850.7 243.4 851.2 241.6 851.7 246.2 852.2 246.6 852.7 243.7 853.2 243.6 853.7 243.1 854.2 243.5 854.7 243.1 855.2 245.3 855.7 244.6 856.2 248.2 856.7 252.4 857.2 252.6 857.7 256.3 858.2 253.1 858.7 251.3 859.2 251.7 859.7 250.3 860.2 245.5 860.7 243.7 861.2 237.4 861.7 234.4 862.2 228.9 862.7 232 863.2 230.3 863.7 232.2 864.2 231.9 864.7 233.4 865.2 221.8 865.7 237.9 866.2 234.5 866.7 232 867.2 235.7 867.7 238.4 868.2 239.8 868.7 235.2 869.2 237.5 869.7 236.3 870.2 235.3 870.7 237.6 871.2 231.4 871.7 234.8 872.2 232.3 872.7 229.3 873.2 235 873.7 242.2 874.2 249.7 874.7 254.5 875.2 254.5 875.7 255.8 876.2 255.5 876.7 257 877.2 258 877.7 259.3 878.2 256.8 878.7 259.6 879.2 263.7 879.7 267.1 880.2 267.2 880.7 267.8 881.2 268 881.7 267.5 882.2 266.2 882.7 265.4 883.2 259.6 883.7 259.9 884.2 261.8 884.7 263.2 885.2 260.2 885.7 260.7 886.2 260 886.7 257.7 887.2 257.1 887.7 249.6 888.2 253.3 888.7 253.5 889.2 255.4 889.7 253.9 890.2 246.5 890.7 246.6 891.2 246.5 891.7 249 892.2 248 892.7 245.1 893.2 243 893.7 239.6 894.2 237.8 894.7 242.9 895.2 245.9 895.7 244.8 896.2 244 896.7 240.8 897.2 240.5 897.7 239.1 898.2 236.5 898.7 241.2 899.2 235.6 899.7 236.2 900.2 241 900.7 241.1 901.2 243.8 901.7 244.3 902.2 245 902.7 243.7 903.2 244.9 903.7 251.6 904.2 251.3 904.7 252.2 905.2 252.2 905.7 254.8 906.2 256.1 906.7 253.6 907.2 257.7 907.7 256.1 908.2 257.3 908.7 260 909.2 258.6 909.7 260.5 910.2 258 910.7 258.3 911.2 258.6 911.7 255.5 912.2 260 912.7 255.5 913.2 255.1 913.7 255.8 914.2 250 914.7 250.8 915.2 253.2 915.7 248.8 916.2 250.1 916.7 252.3 917.2 241 917.7 243.9 918.2 240.4 918.7 237 919.2 240.6 919.7 235.9 920.2 234.7 920.7 233.3 921.2 234.5 921.7 239.1 922.2 228.3 922.7 237.8 923.2 234.5 923.7 226.1 924.2 235.2 924.7 227.7 925.2 228.4 925.7 228.5 926.2 236.5 926.7 234.2 927.2 233.3 927.7 227.7 928.2 228.2 928.7 238.5 929.2 237.6 929.7 236.9 930.2 239.4 930.7 242.6 931.2 244.9 931.7 249.2 932.2 250.1 932.7 253.1 933.2 253.5 933.7 256.1 934.2 258.8 934.7 256.8 935.2 256.1 935.7 252.7 936.2 251.3 936.7 253.5 937.2 242.2 937.7 246.3 938.2 253.4 938.7 257 939.2 259.4 939.7 257.4 940.2 258.7 940.7 257 941.2 253.3 941.7 253.8 942.2 253.5 942.7 255.5 943.2 255.9 943.7 259 944.2 260 944.7 259.6 945.2 257.7 945.7 258 946.2 255.7 946.7 255.8 947.2 253.5 947.7 251 948.2 252.6 948.7 249.8 949.2 250.1 949.7 251.3 950.2 251.5 950.7 252.9 951.2 250.5 951.7 252.1 952.2 248.9 952.7 250.3 953.2 251 953.7 250.9 954.2 250.8 954.7 243.3 955.2 244.1 955.7 245.8 956.2 246.3 956.7 244.7 957.2 241.5 957.7 239.1 958.2 239.1 958.7 240.2 959.2 238.7 959.7 236.6 960.2 238.1 960.7 229.9 961.2 238.4 961.7 241.9 962.2 244.3 962.7 245.1 963.2 241.9 963.7 235.3 964.2 236.5 964.7 234.7 965.2 240.3 965.7 241.1 966.2 242.7 966.7 243 967.2 246 967.7 247.9 968.2 250 968.7 249.5 969.2 251.9 969.7 250.3 970.2 254 970.7 253.6 971.2 255.6 971.7 259.1 972.2 255.9 972.7 256.2 973.2 257.6 973.7 258.5 974.2 262.7 974.7 263.2 975.2 262.5 975.7 262.2 976.2 261.2 976.7 260.3 977.2 262.1 977.7 259.5 978.2 258.2 978.7 258.8 979.2 259.9 979.7 259.3 980.2 259.6 980.7 258.3 981.2 259.5 981.7 259.3 982.2 257.4 982.7 258 983.2 257.8 983.7 256.8 984.2 258.1 984.7 259.4 985.2 256.9 985.7 257.3 986.2 259.3 986.7 261.7 987.2 262.9 987.7 264.9 988.2 261.1 988.7 258.1 989.2 254.7 989.7 246.2 990.2 243.5 990.7 244.7 991.2 242.6 991.7 240.6 992.2 231.4 992.7 235.9 993.2 235.1 993.7 231.1 994.2 237.3 994.7 230.8 995.2 236.3 995.7 241.1 996.2 245 996.7 248.1 997.2 245.3 997.7 243.7 998.2 244.3 998.7 244.4 999.2 241 999.7 237.2 1000.2 238.5 1000.7 236.5 1001.2 243.8 1001.7 250.5 1002.2 254.1 1002.7 254.5 1003.2 256.6 1003.7 255.7 1004.2 253.6 1004.7 254.4 1005.2 250.6 1005.7 252.9 1006.2 251.8 1006.7 251 1007.2 250.8 1007.7 252.1 1008.2 251.2 1008.7 247.8 1009.2 252.5 1009.7 248.9 1010.2 250.1 1010.7 250.5 1011.2 253.2 1011.7 252.6 1012.2 250.3 1012.7 255 1013.2 253.3 1013.7 254.1 1014.2 256.7 1014.7 255.8 1015.2 252.3 1015.7 254.1 1016.2 254.8 1016.7 253.2 1017.2 252.1 1017.7 251.7 1018.2 256 1018.7 257.2 1019.2 256 1019.7 251.6 1020.2 249.7 1020.7 248.5 1021.2 245.1 1021.7 248.2 1022.2 245.5 1022.7 246.3 1023.2 244.9 1023.7 244.4 1024.2 245 1024.7 249.1 1025.2 253.9 1025.7 251.5 1026.2 249 1026.7 252.2 1027.2 251 1027.7 250.5 1028.2 248.7 1028.7 248.4 1029.2 250.4 1029.7 249.2 1030.2 249.1 1030.7 255.5 1031.2 252.1 1031.7 258 1032.2 259.9 1032.7 261 1033.2 261.3 1033.7 261.6 1034.2 262.1 1034.7 264.1 1035.2 264.9 1035.7 264.9 1036.2 265.7 1036.7 263.8 1037.2 265 1037.7 262.1 1038.2 261.3 1038.7 259.6 1039.2 257 1039.7 256.8 1040.2 256.6 1040.7 255.4 1041.2 256.2 1041.7 252.8 1042.2 249 1042.7 251.3 1043.2 246.3 1043.7 244.3 1044.2 243.2 1044.7 243.8 1045.2 242.6 1045.7 245 1046.2 248 1046.7 245.1 1047.2 239.4 1047.7 240.2 1048.2 234.6 1048.7 232.1 1049.2 237.2 1049.7 233.9 1050.2 234.7 1050.7 233.9 1051.2 227.5 1051.7 231 1052.2 242.8 1052.7 240.9 1053.2 241.5 1053.7 238.1 1054.2 235.9 1054.7 245.4 1055.2 243.3 1055.7 247.2 1056.2 245 1056.7 244.9 1057.2 248.2 1057.7 249.6 1058.2 253.6 1058.7 254.2 1059.2 254.5 1059.7 253.8 1060.2 254.8 1060.7 257.3 1061.2 257.2 1061.7 259 1062.2 255.4 1062.7 257.2 1063.2 255.5 1063.7 249.8 1064.2 248.7 1064.7 244.2 1065.2 245.5 1065.7 246.6 1066.2 245.7 1066.7 245.2 1067.2 247.6 1067.7 239.5 1068.2 244.6 1068.7 241.1 1069.2 240.2 1069.7 242.8 1070.2 240.8 1070.7 246.2 1071.2 236.6 1071.7 234.6 1072.2 239.5 1072.7 237.3 1073.2 239.4 1073.7 235.7 1074.2 234.9 1074.7 232.6 1075.2 231.8 1075.7 233.7 1076.2 231.4 1076.7 227 1077.2 233.1 1077.7 228.5 1078.2 230.2 1078.7 230.3 1079.2 232.4 1079.7 231.2 1080.2 236.3 1080.7 239 1081.2 237.4 1081.7 246.5 1082.2 250.8 1082.7 250 1083.2 251.9 1083.7 256.3 1084.2 257 1084.7 256.5 1085.2 256.2 1085.7 256.4 1086.2 255.4 1086.7 258 1087.2 260 1087.7 259.4 1088.2 260.4 1088.7 260.9 1089.2 259.8 1089.7 259.2 1090.2 264 1090.7 261.8 1091.2 261.6 1091.7 262.3 1092.2 260.5 1092.7 261.5 1093.2 261.4 1093.7 260.8 1094.2 263.3 1094.7 262.6 1095.2 264.7 1095.7 264.8 1096.2 264.7 1096.7 265 1097.2 265.6 1097.7 265.5 1098.2 265.1 1098.7 264.8 1099.2 266.9 1099.7 267.2 1100.2 267.4 1100.7 267.6 1101.2 267.4 1101.7 266.9 1102.2 267.2 1102.7 266.1 1103.2 264.6 1103.7 263.5 1104.2 262.5 1104.7 256.4 1105.2 256.1 1105.7 260 1106.2 259 1106.7 258.9 1107.2 259.5 1107.7 259.5 1108.2 258.5 1108.7 257.7 1109.2 257.6 1109.7 255.3 1110.2 255 1110.7 249.9 1111.2 245.4 1111.7 241.9 1112.2 229.5 1112.7 220.6 1113.2 236.1 1113.7 240.4 1114.2 246 1114.7 249.2 1115.2 245.3 1115.7 238.5 1116.2 236.7 1116.7 235.5 1117.2 237.2 1117.7 235.6 1118.2 231.7 1118.7 236.4 1119.2 233.4 1119.7 240.1 1120.2 236 1120.7 232.6 1121.2 237.3 1121.7 232.7 1122.2 235.1 1122.7 229.7 1123.2 222 1123.7 232.8 1124.2 229.1 1124.7 235.3 1125.2 232.1 1125.7 230 1126.2 226.9 1126.7 229.4 1127.2 233.1 1127.7 235 1128.2 237.9 1128.7 240.7 1129.2 241.3 1129.7 243.8 1130.2 239.9 1130.7 243.1 1131.2 244 1131.7 249.9 1132.2 247.4 1132.7 254.3 1133.2 257.1 1133.7 260.4 1134.2 261.9 1134.7 261.1 1135.2 259.9 1135.7 255.5 1136.2 258.7 1136.7 256.7 1137.2 257.9 1137.7 259.1 1138.2 254.6 1138.7 260.3 1139.2 257 1139.7 255.5 1140.2 257.1 1140.7 256.2 1141.2 259.2 1141.7 259.5 1142.2 261.1 1142.7 259 1143.2 261.5 1143.7 260.7 1144.2 259.2 1144.7 257.9 1145.2 259.4 1145.7 260.1 1146.2 260.1 1146.7 260.2 1147.2 258.6 1147.7 259.4 1148.2 257.5 1148.7 259.3 1149.2 260.9 1149.7 263.3 1150.2 260 1150.7 257.7 1151.2 258.3 1151.7 253.6 1152.2 250 1152.7 248.1 1153.2 243 1153.7 239.3 1154.2 235.6 1154.7 232.3 1155.2 241.1 1155.7 245.8 1156.2 242.5 1156.7 246 1157.2 243.1 1157.7 244.1 1158.2 250 1158.7 249.7 1159.2 253.7 1159.7 252.4 1160.2 253.8 1160.7 254.3 1161.2 256.8 1161.7 255.8 1162.2 256.5 1162.7 254.4 1163.2 256.3 1163.7 256.7 1164.2 258.5 1164.7 261.4 1165.2 262.1 1165.7 260.4 1166.2 256.8 1166.7 257.5 1167.2 259.5 1167.7 256.2 1168.2 259 1168.7 257.9 1169.2 255.9 1169.7 258.1 1170.2 255.9 1170.7 258.7 1171.2 258.2 1171.7 257 1172.2 259.7 1172.7 257.1 1173.2 257 1173.7 259.1 1174.2 257.5 1174.7 256.7 1175.2 258.3 1175.7 258.7 1176.2 256.3 1176.7 257.5 1177.2 254.6 1177.7 257 1178.2 254.1 1178.7 255.3 1179.2 256.3 1179.7 252.5 1180.2 253.2 1180.7 250.4 1181.2 254.9 1181.7 249.6 1182.2 251.8 1182.7 248.8 1183.2 251.8 1183.7 251.7 1184.2 254.8 1184.7 253.7 1185.2 252.9 1185.7 252.1 1186.2 247.2 1186.7 242 1187.2 236.7 1187.7 232.8 1188.2 228.7 1188.7 226.9 1189.2 227.3 1189.7 226.3 1190.2 229.3 1190.7 229 1191.2 228.3 1191.7 235.5 1192.2 241.6 1192.7 246.6 1193.2 251.8 1193.7 255.3 1194.2 253.7 1194.7 257.2 1195.2 254.9 1195.7 255.1 1196.2 257.5 1196.7 254.7 1197.2 255.1 1197.7 254.5 1198.2 253.9 1198.7 258.4 1199.2 262 1199.7 262.7 1200.2 261.8 1200.7 262.5 1201.2 259.6 1201.7 257.9 1202.2 254.3 1202.7 250.5 1203.2 253 1203.7 248.1 1204.2 245 1204.7 243 1205.2 238 1205.7 239.2 1206.2 240.8 1206.7 238.3 1207.2 242.9 1207.7 245.6 1208.2 247.3 1208.7 249.4 1209.2 253.1 1209.7 250.4 1210.2 253.3 1210.7 247 1211.2 247.1 1211.7 241.5 1212.2 238.9 1212.7 238.1 1213.2 238.8 1213.7 237.6 1214.2 242.1 1214.7 236.6 1215.2 225.9 1215.7 237.4 1216.2 245.9 1216.7 245.5 1217.2 244.5 1217.7 246.6 1218.2 241.6 1218.7 237.8 1219.2 243.8 1219.7 245.1 1220.2 245.9 1220.7 250.5 1221.2 252.4 1221.7 254.9 1222.2 252.6 1222.7 250.4 1223.2 253.6 1223.7 255.4 1224.2 253 1224.7 253.2 1225.2 255.2 1225.7 255.7 1226.2 260.1 1226.7 260.8 1227.2 262.4 1227.7 262.3 1228.2 260.3 1228.7 263.3 1229.2 263.6 1229.7 263 1230.2 263.5 1230.7 260.2 1231.2 258.3 1231.7 260.9 1232.2 260 1232.7 260.2 1233.2 257.4 1233.7 254.5 1234.2 251.8 1234.7 248.4 1235.2 248.7 1235.7 246.3 1236.2 244.1 1236.7 244.3 1237.2 242.7 1237.7 241.9 1238.2 239.6 1238.7 240.7 1239.2 237.7 1239.7 238.1 1240.2 232.6 1240.7 229.1 1241.2 227.4 1241.7 229.2 1242.2 223.2 1242.7 228.2 1243.2 219.6 1243.7 218.6 1244.2 227.2 1244.2 302.5 1243.7 304.8 1243.2 310.1 1242.7 305.6 1242.2 309.7 1241.7 308.1 1241.2 307.2 1240.7 306.7 1240.2 308.5 1239.7 305.9 1239.2 302.7 1238.7 305.1 1238.2 309.1 1237.7 300.5 1237.2 302 1236.7 297.4 1236.2 299.6 1235.7 299.5 1235.2 299.3 1234.7 296.5 1234.2 293.4 1233.7 295.4 1233.2 293.4 1232.7 292.9 1232.2 292.2 1231.7 286 1231.2 283.3 1230.7 279.6 1230.2 278.4 1229.7 279.6 1229.2 279.4 1228.7 280.7 1228.2 281.4 1227.7 280.5 1227.2 282.2 1226.7 281.3 1226.2 279.3 1225.7 281.6 1225.2 282.9 1224.7 283.6 1224.2 284.7 1223.7 284.1 1223.2 284.3 1222.7 291.8 1222.2 290.9 1221.7 293.8 1221.2 294.3 1220.7 294.2 1220.2 296.7 1219.7 295.8 1219.2 295.8 1218.7 293.4 1218.2 290.7 1217.7 294.6 1217.2 306.5 1216.7 301.8 1216.2 305.5 1215.7 301.4 1215.2 299.7 1214.7 300.7 1214.2 297.7 1213.7 296 1213.2 296.3 1212.7 289.5 1212.2 291.3 1211.7 294.5 1211.2 292.9 1210.7 297.8 1210.2 295.1 1209.7 295.1 1209.2 291.9 1208.7 298.1 1208.2 300.5 1207.7 297.3 1207.2 302.7 1206.7 305.3 1206.2 304.3 1205.7 300.3 1205.2 301.5 1204.7 301.3 1204.2 301.2 1203.7 302.1 1203.2 298.2 1202.7 294.8 1202.2 286.7 1201.7 287.4 1201.2 286.2 1200.7 285.8 1200.2 287.7 1199.7 286.6 1199.2 286.7 1198.7 285.2 1198.2 284.8 1197.7 285.9 1197.2 287 1196.7 287.4 1196.2 287.5 1195.7 293.8 1195.2 295.3 1194.7 289.9 1194.2 290.1 1193.7 290.9 1193.2 293.9 1192.7 300.5 1192.2 305.1 1191.7 313 1191.2 314.6 1190.7 311.1 1190.2 307.3 1189.7 303.1 1189.2 298.2 1188.7 306.2 1188.2 304.1 1187.7 301.9 1187.2 307 1186.7 299.2 1186.2 294.8 1185.7 297 1185.2 293.9 1184.7 289.6 1184.2 287.7 1183.7 287.2 1183.2 286.8 1182.7 290 1182.2 288.8 1181.7 289.1 1181.2 291.3 1180.7 288.7 1180.2 290 1179.7 287.6 1179.2 287.5 1178.7 291 1178.2 287.9 1177.7 287.1 1177.2 288.3 1176.7 286.3 1176.2 285.5 1175.7 289 1175.2 289.1 1174.7 285.8 1174.2 283.8 1173.7 283.4 1173.2 281.2 1172.7 281.4 1172.2 286 1171.7 285.1 1171.2 284.8 1170.7 286.9 1170.2 287 1169.7 286.3 1169.2 287.4 1168.7 285.7 1168.2 286.8 1167.7 286.1 1167.2 287.8 1166.7 287.9 1166.2 284.3 1165.7 282.8 1165.2 280.9 1164.7 284.1 1164.2 284.6 1163.7 285 1163.2 285.6 1162.7 282.8 1162.2 282.4 1161.7 280.8 1161.2 283.2 1160.7 284.5 1160.2 287.4 1159.7 289 1159.2 291.9 1158.7 299.6 1158.2 301.6 1157.7 306.5 1157.2 305.6 1156.7 303.1 1156.2 307.3 1155.7 295.5 1155.2 294.4 1154.7 298.3 1154.2 299.9 1153.7 301.4 1153.2 296.9 1152.7 297.7 1152.2 298.6 1151.7 296.2 1151.2 291.6 1150.7 291.6 1150.2 289.8 1149.7 290 1149.2 295.6 1148.7 294.3 1148.2 287.5 1147.7 287.3 1147.2 287.8 1146.7 286.9 1146.2 288 1145.7 283.9 1145.2 285.5 1144.7 286.3 1144.2 281.5 1143.7 282.2 1143.2 282.8 1142.7 281.5 1142.2 286.1 1141.7 288 1141.2 287.4 1140.7 286.7 1140.2 287.7 1139.7 285.4 1139.2 287.8 1138.7 287.6 1138.2 288.2 1137.7 289.2 1137.2 286.9 1136.7 287.8 1136.2 286.5 1135.7 287.5 1135.2 286.3 1134.7 286.3 1134.2 285.8 1133.7 288 1133.2 288.9 1132.7 289.4 1132.2 290.8 1131.7 293.7 1131.2 297.3 1130.7 298.9 1130.2 300 1129.7 304.4 1129.2 308 1128.7 304.7 1128.2 309.3 1127.7 305.3 1127.2 307 1126.7 307.1 1126.2 303.1 1125.7 303.1 1125.2 303.9 1124.7 298.3 1124.2 301.3 1123.7 303.4 1123.2 303.9 1122.7 307.2 1122.2 306.7 1121.7 306.3 1121.2 311 1120.7 306.7 1120.2 308 1119.7 307.4 1119.2 306.7 1118.7 307.1 1118.2 306.9 1117.7 311.4 1117.2 316.8 1116.7 313.9 1116.2 319 1115.7 313.1 1115.2 310.8 1114.7 312.5 1114.2 309.6 1113.7 313.8 1113.2 318.4 1112.7 304.8 1112.2 309.5 1111.7 309.7 1111.2 302.6 1110.7 296.2 1110.2 293.6 1109.7 286.6 1109.2 282.8 1108.7 284.4 1108.2 281.6 1107.7 282.5 1107.2 281.1 1106.7 280 1106.2 278.7 1105.7 278.7 1105.2 279.4 1104.7 279.8 1104.2 279.6 1103.7 279 1103.2 277.7 1102.7 277.8 1102.2 278.3 1101.7 277.5 1101.2 276.7 1100.7 276.9 1100.2 276.4 1099.7 276.4 1099.2 276.8 1098.7 278.4 1098.2 277.4 1097.7 280.3 1097.2 279.8 1096.7 280.3 1096.2 281.7 1095.7 281.6 1095.2 281.3 1094.7 281.5 1094.2 282.4 1093.7 285.6 1093.2 286.6 1092.7 285 1092.2 284.5 1091.7 281 1091.2 282.7 1090.7 281.6 1090.2 282.4 1089.7 284.7 1089.2 286.7 1088.7 283.6 1088.2 283.8 1087.7 287.7 1087.2 284.2 1086.7 288.5 1086.2 287 1085.7 288.9 1085.2 291.8 1084.7 290 1084.2 290.8 1083.7 291 1083.2 288.7 1082.7 290.2 1082.2 289.4 1081.7 300.6 1081.2 304.1 1080.7 305.1 1080.2 305.6 1079.7 301.8 1079.2 302.6 1078.7 303.1 1078.2 313 1077.7 308.7 1077.2 311 1076.7 308.2 1076.2 306.3 1075.7 303.2 1075.2 303.5 1074.7 300.4 1074.2 296.4 1073.7 301.8 1073.2 300.2 1072.7 303.7 1072.2 305.6 1071.7 302.8 1071.2 305.6 1070.7 299.6 1070.2 303.9 1069.7 300.7 1069.2 298.9 1068.7 296.8 1068.2 292 1067.7 291 1067.2 292.2 1066.7 292.3 1066.2 293.8 1065.7 298.4 1065.2 301.5 1064.7 295.6 1064.2 294.3 1063.7 294.1 1063.2 291.5 1062.7 290.8 1062.2 288.6 1061.7 285.5 1061.2 287.5 1060.7 289.1 1060.2 289.3 1059.7 290.8 1059.2 291.3 1058.7 291.2 1058.2 291.8 1057.7 293.3 1057.2 296.8 1056.7 296.6 1056.2 300.1 1055.7 295.3 1055.2 307 1054.7 308.1 1054.2 304.9 1053.7 307.5 1053.2 309.9 1052.7 311.4 1052.2 313.7 1051.7 315.1 1051.2 304.5 1050.7 301.9 1050.2 297.2 1049.7 299.4 1049.2 303.6 1048.7 305.2 1048.2 305.7 1047.7 300 1047.2 303.2 1046.7 301.6 1046.2 312.7 1045.7 310.3 1045.2 294.8 1044.7 299 1044.2 293.6 1043.7 300.5 1043.2 295.7 1042.7 298.7 1042.2 295.7 1041.7 296 1041.2 294.8 1040.7 290.9 1040.2 293.3 1039.7 289.4 1039.2 289.3 1038.7 288.8 1038.2 286 1037.7 283.1 1037.2 282.8 1036.7 279.2 1036.2 279.9 1035.7 281.1 1035.2 281.3 1034.7 283 1034.2 282.3 1033.7 282.8 1033.2 283.4 1032.7 283.8 1032.2 282.5 1031.7 282.6 1031.2 282.6 1030.7 285.3 1030.2 289.1 1029.7 289.2 1029.2 295.4 1028.7 301.7 1028.2 302.4 1027.7 297.3 1027.2 295.8 1026.7 296.7 1026.2 292.5 1025.7 290 1025.2 293.9 1024.7 290.8 1024.2 295.3 1023.7 293.5 1023.2 291.2 1022.7 295.8 1022.2 295.2 1021.7 296.9 1021.2 295.1 1020.7 292.4 1020.2 292.9 1019.7 288 1019.2 288 1018.7 285.9 1018.2 287.3 1017.7 291.5 1017.2 291.3 1016.7 288.5 1016.2 289.4 1015.7 286.6 1015.2 285 1014.7 288.7 1014.2 288.8 1013.7 290.3 1013.2 294.2 1012.7 294 1012.2 293.1 1011.7 294 1011.2 292.7 1010.7 292.6 1010.2 287.9 1009.7 288.1 1009.2 286.3 1008.7 284.3 1008.2 289.2 1007.7 292 1007.2 292.9 1006.7 295.3 1006.2 289.6 1005.7 285.4 1005.2 284.3 1004.7 282.3 1004.2 284.6 1003.7 285.3 1003.2 285.9 1002.7 287.4 1002.2 288.8 1001.7 289.8 1001.2 289.9 1000.7 298.9 1000.2 298.2 999.7 292.7 999.2 298 998.7 294.9 998.2 296.4 997.7 303.8 997.2 304.3 996.7 305.2 996.2 303.8 995.7 302.7 995.2 304.2 994.7 299.4 994.2 305.2 993.7 298.4 993.2 297.6 992.7 302.8 992.2 297.7 991.7 301.6 991.2 297.2 990.7 300.7 990.2 298.3 989.7 292 989.2 290.3 988.7 285.6 988.2 282.7 987.7 280.5 987.2 280.9 986.7 282.2 986.2 283.9 985.7 284.1 985.2 282.5 984.7 283.4 984.2 285.7 983.7 288.3 983.2 289.4 982.7 291.1 982.2 287.2 981.7 289.1 981.2 289.4 980.7 285.8 980.2 282.5 979.7 285.7 979.2 284.5 978.7 286.9 978.2 287.3 977.7 286.1 977.2 285.3 976.7 283.5 976.2 281.3 975.7 281.4 975.2 281.4 974.7 280.9 974.2 282.7 973.7 283 973.2 287.2 972.7 287.2 972.2 292.4 971.7 289.7 971.2 283 970.7 286.7 970.2 286.7 969.7 289.6 969.2 292 968.7 291.6 968.2 294.6 967.7 296.4 967.2 298.3 966.7 299.3 966.2 307.2 965.7 309.1 965.2 303.4 964.7 310.3 964.2 305.7 963.7 307.5 963.2 306.7 962.7 307.9 962.2 311.9 961.7 313.3 961.2 309.9 960.7 307.4 960.2 309.9 959.7 311.4 959.2 318.2 958.7 311.9 958.2 308.6 957.7 307.9 957.2 302.4 956.7 300.4 956.2 300.6 955.7 297.6 955.2 296.7 954.7 298.1 954.2 300.5 953.7 299.8 953.2 299.1 952.7 294.7 952.2 292.9 951.7 294.2 951.2 293 950.7 290.8 950.2 290.8 949.7 290.9 949.2 290.8 948.7 291.3 948.2 287.5 947.7 288.6 947.2 285.6 946.7 287.5 946.2 286.2 945.7 286.6 945.2 286.7 944.7 284.8 944.2 285.7 943.7 285.9 943.2 285 942.7 288.2 942.2 285.1 941.7 283.7 941.2 289.2 940.7 288.4 940.2 291.4 939.7 293.4 939.2 287.7 938.7 291.7 938.2 288.8 937.7 291.5 937.2 290.8 936.7 290.2 936.2 286.8 935.7 289.8 935.2 289.8 934.7 290.6 934.2 288.7 933.7 290.2 933.2 287.8 932.7 288.3 932.2 289.1 931.7 293.1 931.2 297.1 930.7 297.2 930.2 304.6 929.7 307.4 929.2 305.8 928.7 306.3 928.2 309.9 927.7 304.2 927.2 308 926.7 308 926.2 309.8 925.7 310.2 925.2 311.2 924.7 307.4 924.2 308.2 923.7 309.8 923.2 312.7 922.7 314.2 922.2 311.3 921.7 308.5 921.2 306.7 920.7 308 920.2 304.3 919.7 301.4 919.2 303.3 918.7 302.6 918.2 299.9 917.7 297.3 917.2 293.9 916.7 293.5 916.2 293.5 915.7 294.2 915.2 290.8 914.7 287.8 914.2 288.9 913.7 288.4 913.2 287.7 912.7 287.7 912.2 290.3 911.7 288.9 911.2 289.8 910.7 286.1 910.2 283.9 909.7 282.9 909.2 282.3 908.7 283.1 908.2 284.8 907.7 288 907.2 287.6 906.7 288.6 906.2 287.8 905.7 289.3 905.2 290.8 904.7 294.8 904.2 294.5 903.7 293.5 903.2 293.2 902.7 295.5 902.2 296.5 901.7 301 901.2 303.9 900.7 302.8 900.2 314.4 899.7 313.7 899.2 309.7 898.7 301.4 898.2 309.6 897.7 308.1 897.2 304.1 896.7 304.6 896.2 310.1 895.7 310.5 895.2 315.2 894.7 308.1 894.2 309.4 893.7 298.7 893.2 295.3 892.7 301.8 892.2 295.9 891.7 299.5 891.2 298.8 890.7 297.5 890.2 297.1 889.7 297.8 889.2 297.6 888.7 297 888.2 294.2 887.7 289.9 887.2 288.8 886.7 286.9 886.2 289.5 885.7 286.4 885.2 287.8 884.7 282.7 884.2 284 883.7 281.5 883.2 281.4 882.7 278.7 882.2 278.5 881.7 275.6 881.2 276.9 880.7 275.9 880.2 277 879.7 277.6 879.2 275.9 878.7 276.8 878.2 279.1 877.7 280.8 877.2 281.4 876.7 285.2 876.2 287.1 875.7 292.8 875.2 295.2 874.7 294.4 874.2 295.6 873.7 293 873.2 298.9 872.7 295.1 872.2 297.1 871.7 303.4 871.2 306.9 870.7 308.4 870.2 311 869.7 316.1 869.2 318.3 868.7 317.5 868.2 318.2 867.7 317.5 867.2 319 866.7 315.6 866.2 315.6 865.7 326 865.2 328.5 864.7 311.1 864.2 315.9 863.7 307.9 863.2 311.4 862.7 309.9 862.2 309.8 861.7 306.6 861.2 307.1 860.7 299.7 860.2 296.8 859.7 298.1 859.2 291.4 858.7 293.6 858.2 294.6 857.7 292.1 857.2 292.7 856.7 292.6 856.2 294.3 855.7 297.4 855.2 296.9 854.7 300.5 854.2 299 853.7 298.1 853.2 299.5 852.7 300.1 852.2 297.5 851.7 299.1 851.2 297.7 850.7 293.4 850.2 297.1 849.7 299.2 849.2 297.3 848.7 298.8 848.2 296.4 847.7 291.7 847.2 288.7 846.7 289.1 846.2 289.4 845.7 290.4 845.2 294 844.7 290.3 844.2 284.7 843.7 285.4 843.2 287.1 842.7 284.6 842.2 289 841.7 293.1 841.2 294 840.7 294.4 840.2 298.2 839.7 303.3 839.2 298.7 838.7 301.7 838.2 297 837.7 297.5 837.2 297.1 836.7 298.2 836.2 298 835.7 299 835.2 299.9 834.7 300.6 834.2 298.2 833.7 294.9 833.2 294.3 832.7 300.7 832.2 304.9 831.7 310 831.2 306.1 830.7 303.9 830.2 296.9 829.7 294.1 829.2 297.1 828.7 297 828.2 299.2 827.7 301.4 827.2 295.4 826.7 298.1 826.2 299.7 825.7 297.8 825.2 300.3 824.7 301.9 824.2 299.2 823.7 291.2 823.2 293.2 822.7 293.5 822.2 296.2 821.7 292.1 821.2 289.3 820.7 286.4 820.2 287.8 819.7 290.7 819.2 288.6 818.7 286.9 818.2 286.8 817.7 286.5 817.2 289 816.7 286.3 816.2 285.5 815.7 284.7 815.2 283.6 814.7 286.5 814.2 287.7 813.7 289.1 813.2 288.3 812.7 291.5 812.2 289.9 811.7 293.5 811.2 297.3 810.7 294.5 810.2 293.8 809.7 294.5 809.2 293.9 808.7 299.7 808.2 300.7 807.7 302.7 807.2 300 806.7 295.6 806.2 296.3 805.7 294.3 805.2 301.5 804.7 304.1 804.2 300.7 803.7 302.2 803.2 297.9 802.7 295 802.2 296.8 801.7 296.8 801.2 293 800.7 295.2 800.2 292.4 799.7 291.7 799.2 289.9 798.7 286.7 798.2 286.3 797.7 284.8 797.2 283.2 796.7 281.2 796.2 279.9 795.7 277.2 795.2 278.4 794.7 281.5 794.2 281.1 793.7 280.8 793.2 281.9 792.7 283.4 792.2 284.5 791.7 289 791.2 288.3 790.7 287.2 790.2 283.7 789.7 286.9 789.2 287.4 788.7 287 788.2 287.3 787.7 287.9 787.2 290 786.7 288 786.2 286.3 785.7 284.7 785.2 282.9 784.7 284.9 784.2 285 783.7 284.4 783.2 279.9 782.7 280.8 782.2 283.4 781.7 287.5 781.2 290.9 780.7 297.1 780.2 299.2 779.7 299.8 779.2 305.9 778.7 303.7 778.2 304.4 777.7 299.7 777.2 299.5 776.7 298.5 776.2 308.4 775.7 302.9 775.2 310.8 774.7 303.6 774.2 303.6 773.7 304 773.2 301.3 772.7 301.6 772.2 305.3 771.7 307.5 771.2 315.9 770.7 312.4 770.2 317.2 769.7 317.3 769.2 311 768.7 309.2 768.2 312.6 767.7 321 767.2 323.9 766.7 313.8 766.2 312 765.7 308.1 765.2 308.4 764.7 309.5 764.2 311 763.7 304.4 763.2 306.7 762.7 309.2 762.2 311.9 761.7 305.8 761.2 305 760.7 301.4 760.2 298.3 759.7 299.6 759.2 297.2 758.7 292.3 758.2 288.9 757.7 292.7 757.2 288.4 756.7 282.2 756.2 279.9 755.7 279.8 755.2 280.5 754.7 279.7 754.2 281.5 753.7 280.6 753.2 285 752.7 284.5 752.2 288 751.7 288.6 751.2 286.8 750.7 286.4 750.2 284.5 749.7 283.7 749.2 286.4 748.7 286.4 748.2 285 747.7 283.1 747.2 283.3 746.7 280.3 746.2 280.3 745.7 282.1 745.2 280.6 744.7 280.4 744.2 282.1 743.7 281.3 743.2 282.5 742.7 281.3 742.2 284 741.7 283.4 741.2 284.7 740.7 286.7 740.2 287.7Z" fill="#f5a95a" clip-path="url(#cb2)"/>
<clipPath id="cb3"><rect x="739.5" y="320.4" width="503.8" height="92.2"/></clipPath>
<path d="M740.2 334.2 740.7 335.7 741.2 325.2 741.7 319.7 742.2 323.1 742.7 325.9 743.2 328.6 743.7 323.4 744.2 326.2 744.7 332.2 745.2 324.9 745.7 326.7 746.2 323.2 746.7 327.6 747.2 333.2 747.7 335.6 748.2 342.2 748.7 343.5 749.2 341.5 749.7 339.5 750.2 339.5 750.7 334.9 751.2 335.7 751.7 337.5 752.2 334.8 752.7 336.1 753.2 339.1 753.7 339.5 754.2 341.7 754.7 343 755.2 338.3 755.7 332.8 756.2 337.8 756.7 339.7 757.2 336.5 757.7 340.1 758.2 336.9 758.7 341.5 759.2 342.8 759.7 342.4 760.2 342.2 760.7 339.4 761.2 346.3 761.7 349.1 762.2 352.7 762.7 354.3 763.2 354.8 763.7 348.4 764.2 347.5 764.7 345.2 765.2 341.6 765.7 335.4 766.2 336.5 766.7 335 767.2 337 767.7 345.1 768.2 341.4 768.7 337.7 769.2 333.3 769.7 332.1 770.2 333.3 770.7 333 771.2 339.6 771.7 340.7 772.2 344 772.7 346.1 773.2 351.1 773.7 354.4 774.2 354.7 774.7 356.1 775.2 350.8 775.7 345.6 776.2 338.7 776.7 337.1 777.2 328.9 777.7 335.4 778.2 325.7 778.7 329 779.2 328.6 779.7 328.2 780.2 331 780.7 325 781.2 327.5 781.7 328.2 782.2 332.1 782.7 341.5 783.2 340.1 783.7 342.1 784.2 347.9 784.7 345 785.2 342 785.7 344.8 786.2 348.8 786.7 349.8 787.2 350.8 787.7 354.3 788.2 353.5 788.7 354.3 789.2 351.3 789.7 348.7 790.2 346.3 790.7 344.2 791.2 344.3 791.7 347.1 792.2 346.1 792.7 344.1 793.2 343.5 793.7 337.9 794.2 331.4 794.7 331.3 795.2 327.5 795.7 329.7 796.2 333 796.7 327 797.2 323.6 797.7 325.2 798.2 320.7 798.7 329.8 799.2 334 799.7 329.9 800.2 331.3 800.7 333.5 801.2 325.7 801.7 325.1 802.2 326.5 802.7 323.4 803.2 324.4 803.7 323.5 804.2 320.8 804.7 321.4 805.2 326.8 805.7 326 806.2 329.3 806.7 330.9 807.2 335.1 807.7 335.7 808.2 334.9 808.7 333.4 809.2 326.6 809.7 329.2 810.2 328.4 810.7 316.3 811.2 317.2 811.7 330.4 812.2 335.9 812.7 335 813.2 339.9 813.7 336.2 814.2 335.3 814.7 334.1 815.2 338 815.7 341.1 816.2 338.2 816.7 343 817.2 342.6 817.7 341.8 818.2 344.5 818.7 340 819.2 339.2 819.7 340.1 820.2 341 820.7 336.9 821.2 336.2 821.7 339.7 822.2 344.4 822.7 344.3 823.2 345.4 823.7 339.2 824.2 343.8 824.7 338.2 825.2 337 825.7 336.2 826.2 329.1 826.7 338.4 827.2 336.4 827.7 335.5 828.2 333.3 828.7 323.6 829.2 323.6 829.7 330 830.2 329.8 830.7 330.4 831.2 336.7 831.7 334.7 832.2 333.9 832.7 331.7 833.2 334.8 833.7 336.3 834.2 335.6 834.7 338.4 835.2 335.4 835.7 336.4 836.2 336.8 836.7 331.7 837.2 329.4 837.7 333.6 838.2 324.7 838.7 335 839.2 332.4 839.7 333.7 840.2 336.4 840.7 334.1 841.2 340 841.7 339.6 842.2 341.6 842.7 343.7 843.2 349.3 843.7 348.1 844.2 349.4 844.7 347.9 845.2 349.8 845.7 348.7 846.2 349.2 846.7 346.1 847.2 344.9 847.7 344.7 848.2 340.8 848.7 342.8 849.2 341.6 849.7 344.1 850.2 342.7 850.7 343.3 851.2 337.2 851.7 337.3 852.2 335.4 852.7 330.7 853.2 335.2 853.7 331.4 854.2 322.1 854.7 332.1 855.2 329.5 855.7 334 856.2 334.6 856.7 337.4 857.2 338.2 857.7 344.1 858.2 341.1 858.7 343.1 859.2 346.3 859.7 340.6 860.2 344.6 860.7 346.2 861.2 344 861.7 346.8 862.2 348.4 862.7 352.3 863.2 351.5 863.7 348.6 864.2 349.1 864.7 351.4 865.2 349.1 865.7 351.1 866.2 351.5 866.7 349.6 867.2 346.9 867.7 344.6 868.2 341.1 868.7 336.4 869.2 337.6 869.7 329.8 870.2 326.7 870.7 333.1 871.2 331.5 871.7 330.2 872.2 331.7 872.7 328.5 873.2 326 873.7 327.1 874.2 323.3 874.7 325.8 875.2 331 875.7 329.6 876.2 334 876.7 336.2 877.2 328.4 877.7 340.7 878.2 336.7 878.7 334.5 879.2 329.3 879.7 335 880.2 335 880.7 337.5 881.2 340.3 881.7 341 882.2 339.4 882.7 338.2 883.2 335.6 883.7 331.1 884.2 330.6 884.7 330 885.2 331.5 885.7 334.1 886.2 337.7 886.7 341.4 887.2 346.2 887.7 345.9 888.2 346.4 888.7 346.3 889.2 349.2 889.7 350.6 890.2 351.6 890.7 354.9 891.2 355.6 891.7 357.1 892.2 357.5 892.7 357.1 893.2 358.6 893.7 358.1 894.2 356.9 894.7 352.4 895.2 350 895.7 347.5 896.2 345.7 896.7 342.6 897.2 342.2 897.7 341.4 898.2 342.9 898.7 343.9 899.2 336.6 899.7 333.9 900.2 330 900.7 325.5 901.2 328.5 901.7 336.4 902.2 342.1 902.7 341.8 903.2 335.5 903.7 334.1 904.2 333.3 904.7 338 905.2 339.4 905.7 342.5 906.2 344.1 906.7 346.1 907.2 347.6 907.7 346.6 908.2 344.7 908.7 346.2 909.2 349.3 909.7 354.2 910.2 354.6 910.7 356.8 911.2 357.1 911.7 355.8 912.2 353.6 912.7 352.3 913.2 353.1 913.7 353.5 914.2 354.9 914.7 352.6 915.2 352.8 915.7 353.6 916.2 354.1 916.7 354.8 917.2 351.1 917.7 353.5 918.2 351.5 918.7 350.9 919.2 348.3 919.7 350.3 920.2 347.4 920.7 346 921.2 348 921.7 343.4 922.2 341.9 922.7 341.7 923.2 338.4 923.7 334.4 924.2 330.2 924.7 331.7 925.2 334 925.7 335.2 926.2 342.2 926.7 346.1 927.2 345.7 927.7 344.9 928.2 345 928.7 347.3 929.2 342 929.7 345.3 930.2 349.6 930.7 348.1 931.2 345.8 931.7 343.6 932.2 334 932.7 330.2 933.2 329.6 933.7 324.5 934.2 333.3 934.7 327.5 935.2 328.2 935.7 323.1 936.2 325.7 936.7 330.7 937.2 331.5 937.7 332.8 938.2 336.1 938.7 331.6 939.2 338.9 939.7 343.3 940.2 343.3 940.7 348.9 941.2 346 941.7 348.2 942.2 348.8 942.7 349.3 943.2 345 943.7 345.1 944.2 351.5 944.7 351.8 945.2 351.3 945.7 351.2 946.2 351.4 946.7 348.8 947.2 349 947.7 347.9 948.2 346.4 948.7 347.7 949.2 348.2 949.7 346.4 950.2 341.6 950.7 338.9 951.2 342.9 951.7 338.9 952.2 340.2 952.7 340 953.2 334.3 953.7 334.6 954.2 334.7 954.7 337.5 955.2 337.7 955.7 331.9 956.2 331.9 956.7 332.7 957.2 329 957.7 331.5 958.2 336.1 958.7 336.6 959.2 346 959.7 344 960.2 343.6 960.7 344.5 961.2 342.9 961.7 346.4 962.2 346.6 962.7 346 963.2 353.3 963.7 351.6 964.2 353.6 964.7 356.7 965.2 351.2 965.7 350.6 966.2 355.4 966.7 353 967.2 353.8 967.7 355.9 968.2 356.1 968.7 357.2 969.2 356.2 969.7 354.4 970.2 352.7 970.7 349.4 971.2 348.2 971.7 348.1 972.2 349.7 972.7 349.6 973.2 349.7 973.7 344.8 974.2 340.8 974.7 340.6 975.2 336.4 975.7 334.5 976.2 337.9 976.7 334.6 977.2 336.3 977.7 329.4 978.2 325 978.7 332.6 979.2 332.1 979.7 329.2 980.2 329.9 980.7 320.7 981.2 315.5 981.7 326 982.2 316.8 982.7 320.9 983.2 315.7 983.7 312.7 984.2 322.1 984.7 323.4 985.2 326.1 985.7 328.6 986.2 336.8 986.7 336.4 987.2 341.3 987.7 341.7 988.2 341.6 988.7 336.9 989.2 333.6 989.7 336.6 990.2 337.8 990.7 335.5 991.2 336.7 991.7 331.5 992.2 326 992.7 333.9 993.2 330.2 993.7 330.8 994.2 331.3 994.7 329.6 995.2 329.8 995.7 327.9 996.2 330.5 996.7 326.4 997.2 324.7 997.7 321.7 998.2 323.6 998.7 326.5 999.2 317.7 999.7 318.6 1000.2 317.3 1000.7 312.6 1001.2 316.6 1001.7 328.7 1002.2 332.4 1002.7 333.8 1003.2 339.2 1003.7 346.4 1004.2 346.6 1004.7 352.3 1005.2 348.9 1005.7 343 1006.2 340.4 1006.7 338.6 1007.2 334.6 1007.7 333.7 1008.2 330.9 1008.7 323.3 1009.2 330.6 1009.7 332.8 1010.2 343 1010.7 346.1 1011.2 347.9 1011.7 352.2 1012.2 353.7 1012.7 354.9 1013.2 353.9 1013.7 353.7 1014.2 354.9 1014.7 356.7 1015.2 354.4 1015.7 354.7 1016.2 352.8 1016.7 352.6 1017.2 353.6 1017.7 353 1018.2 349.7 1018.7 347.7 1019.2 348.7 1019.7 349.2 1020.2 348.5 1020.7 339.2 1021.2 337.5 1021.7 343 1022.2 344 1022.7 347.1 1023.2 348.9 1023.7 339.6 1024.2 343.3 1024.7 335.1 1025.2 324.7 1025.7 322.9 1026.2 330 1026.7 333.5 1027.2 335.5 1027.7 341.7 1028.2 340.8 1028.7 341.3 1029.2 343.7 1029.7 343 1030.2 341.6 1030.7 342.2 1031.2 342.8 1031.7 344 1032.2 341.6 1032.7 340.6 1033.2 340.3 1033.7 342.6 1034.2 346.5 1034.7 348.2 1035.2 348.6 1035.7 347.8 1036.2 345.6 1036.7 343.2 1037.2 344.6 1037.7 343.9 1038.2 346.1 1038.7 345.7 1039.2 346.4 1039.7 342.8 1040.2 337.8 1040.7 337.1 1041.2 338 1041.7 337.1 1042.2 337.7 1042.7 337 1043.2 325.3 1043.7 326.2 1044.2 328.7 1044.7 329.4 1045.2 329.2 1045.7 331.2 1046.2 337.5 1046.7 336.9 1047.2 336.1 1047.7 329.5 1048.2 323.1 1048.7 321.8 1049.2 324.2 1049.7 327.2 1050.2 325.7 1050.7 319.8 1051.2 329.4 1051.7 335.6 1052.2 337.9 1052.7 344.5 1053.2 343.4 1053.7 348.2 1054.2 347.7 1054.7 342.3 1055.2 343.8 1055.7 340.8 1056.2 336.6 1056.7 330.8 1057.2 335.2 1057.7 341.7 1058.2 344.4 1058.7 348.6 1059.2 351.4 1059.7 350.4 1060.2 354.1 1060.7 351.1 1061.2 348.3 1061.7 346.2 1062.2 344.4 1062.7 340.5 1063.2 342.8 1063.7 338.7 1064.2 337.5 1064.7 339.1 1065.2 338.5 1065.7 337.3 1066.2 326.8 1066.7 330.5 1067.2 331.5 1067.7 331 1068.2 331.3 1068.7 332.5 1069.2 330.7 1069.7 337.6 1070.2 337.4 1070.7 340.8 1071.2 341.9 1071.7 343.4 1072.2 346.4 1072.7 352 1073.2 353.4 1073.7 351.9 1074.2 350.9 1074.7 348.8 1075.2 348.6 1075.7 350.9 1076.2 348.1 1076.7 349.1 1077.2 352.4 1077.7 353.2 1078.2 348.8 1078.7 347.8 1079.2 345.7 1079.7 344.3 1080.2 342.3 1080.7 344.2 1081.2 340.1 1081.7 341.7 1082.2 343.1 1082.7 339.1 1083.2 336.5 1083.7 327.3 1084.2 336 1084.7 329.5 1085.2 330.1 1085.7 329.1 1086.2 324.3 1086.7 326.4 1087.2 324.6 1087.7 318.9 1088.2 333.8 1088.7 337.1 1089.2 335.7 1089.7 343.4 1090.2 335.8 1090.7 339.1 1091.2 343.8 1091.7 348.9 1092.2 349.5 1092.7 353.3 1093.2 349.6 1093.7 340.7 1094.2 340.2 1094.7 336.7 1095.2 335.7 1095.7 339.3 1096.2 340.7 1096.7 337.7 1097.2 334.4 1097.7 334.1 1098.2 330.9 1098.7 334 1099.2 336 1099.7 337.9 1100.2 343.8 1100.7 343.6 1101.2 346.4 1101.7 347.4 1102.2 346.8 1102.7 350.1 1103.2 349.3 1103.7 350.3 1104.2 349.6 1104.7 351.2 1105.2 353.5 1105.7 353.2 1106.2 354.9 1106.7 358.1 1107.2 356 1107.7 358.3 1108.2 361.3 1108.7 355.8 1109.2 354.6 1109.7 353.7 1110.2 349.3 1110.7 350.5 1111.2 347 1111.7 343.8 1112.2 344.6 1112.7 337.9 1113.2 339.6 1113.7 337.9 1114.2 339.3 1114.7 333.6 1115.2 332.4 1115.7 329 1116.2 330.8 1116.7 333.8 1117.2 339.8 1117.7 339.9 1118.2 342.4 1118.7 342.3 1119.2 346.6 1119.7 347.1 1120.2 345.4 1120.7 343.7 1121.2 344.2 1121.7 343.1 1122.2 346.2 1122.7 346.7 1123.2 343.6 1123.7 346.5 1124.2 346.3 1124.7 346 1125.2 338.6 1125.7 343.7 1126.2 349.6 1126.7 350.1 1127.2 349.1 1127.7 350.2 1128.2 353.2 1128.7 352.1 1129.2 354.6 1129.7 350.8 1130.2 352.5 1130.7 354.4 1131.2 355.9 1131.7 357.7 1132.2 355.6 1132.7 355.4 1133.2 352.6 1133.7 352.1 1134.2 350.3 1134.7 349.9 1135.2 351.6 1135.7 349.8 1136.2 349.5 1136.7 344.2 1137.2 341.1 1137.7 342.5 1138.2 336.1 1138.7 331.3 1139.2 323.9 1139.7 324.5 1140.2 322.8 1140.7 325.7 1141.2 321.9 1141.7 332 1142.2 330.2 1142.7 334.1 1143.2 328.3 1143.7 330.5 1144.2 329.7 1144.7 328.5 1145.2 332.1 1145.7 336.8 1146.2 340.5 1146.7 341.4 1147.2 343.6 1147.7 344.2 1148.2 348.7 1148.7 351.3 1149.2 350.8 1149.7 351.9 1150.2 352 1150.7 350.7 1151.2 348.5 1151.7 345.5 1152.2 345.6 1152.7 345.2 1153.2 340.7 1153.7 342.2 1154.2 335.4 1154.7 340.6 1155.2 341.2 1155.7 341.5 1156.2 345.2 1156.7 343.3 1157.2 347.5 1157.7 348.8 1158.2 346.9 1158.7 345.2 1159.2 344.3 1159.7 345.1 1160.2 346.7 1160.7 346.7 1161.2 344.9 1161.7 341.7 1162.2 339.4 1162.7 338.7 1163.2 333.3 1163.7 339.2 1164.2 338.3 1164.7 340.1 1165.2 340.7 1165.7 344.5 1166.2 346.7 1166.7 350.2 1167.2 348.3 1167.7 348.3 1168.2 349.7 1168.7 351.2 1169.2 353.9 1169.7 353.7 1170.2 353.7 1170.7 349.3 1171.2 349.6 1171.7 351.4 1172.2 349.7 1172.7 345.3 1173.2 345.6 1173.7 341.1 1174.2 343.1 1174.7 340.5 1175.2 335.9 1175.7 335.9 1176.2 333.1 1176.7 335.3 1177.2 340.3 1177.7 342.2 1178.2 341.2 1178.7 346.1 1179.2 343.8 1179.7 343.9 1180.2 347.5 1180.7 348.6 1181.2 351.5 1181.7 352.7 1182.2 353.8 1182.7 353.6 1183.2 353.6 1183.7 353.3 1184.2 352.6 1184.7 352.2 1185.2 355 1185.7 353.7 1186.2 355.3 1186.7 352.7 1187.2 352.3 1187.7 350.5 1188.2 352.4 1188.7 349.4 1189.2 348.8 1189.7 341.5 1190.2 342.1 1190.7 337.2 1191.2 339.5 1191.7 338.5 1192.2 337.6 1192.7 335.9 1193.2 340.2 1193.7 339 1194.2 344.4 1194.7 339.7 1195.2 340 1195.7 345.2 1196.2 348.2 1196.7 353.3 1197.2 352.3 1197.7 348.9 1198.2 349.2 1198.7 350.7 1199.2 346.3 1199.7 340.5 1200.2 338.8 1200.7 332.2 1201.2 330.2 1201.7 325.7 1202.2 331.5 1202.7 329 1203.2 329.7 1203.7 328.2 1204.2 328.2 1204.7 333.5 1205.2 338.5 1205.7 343 1206.2 343.4 1206.7 342.2 1207.2 347.5 1207.7 345.3 1208.2 346.2 1208.7 347.2 1209.2 345.4 1209.7 344.4 1210.2 339 1210.7 337.3 1211.2 345 1211.7 348 1212.2 348.1 1212.7 347.9 1213.2 346 1213.7 347.1 1214.2 345.2 1214.7 346.1 1215.2 347.2 1215.7 343.1 1216.2 341.6 1216.7 338.3 1217.2 336.4 1217.7 338.5 1218.2 339.9 1218.7 348.3 1219.2 350.3 1219.7 350.1 1220.2 346.4 1220.7 348.3 1221.2 348.4 1221.7 343.3 1222.2 341.5 1222.7 337 1223.2 332.1 1223.7 335.7 1224.2 329.6 1224.7 328.5 1225.2 319.6 1225.7 323.5 1226.2 321.5 1226.7 326.4 1227.2 333.9 1227.7 325.3 1228.2 330.6 1228.7 334.5 1229.2 330.8 1229.7 339.5 1230.2 334.2 1230.7 338.2 1231.2 332.4 1231.7 336.8 1232.2 342.4 1232.7 340.3 1233.2 340.3 1233.7 334.3 1234.2 333.7 1234.7 337 1235.2 333.3 1235.7 340.2 1236.2 340.9 1236.7 341.8 1237.2 343.2 1237.7 343.8 1238.2 346.7 1238.7 346.7 1239.2 350.5 1239.7 348.3 1240.2 349.2 1240.7 352.9 1241.2 353.7 1241.7 355.6 1242.2 357.1 1242.7 360.7 1243.2 358.4 1243.7 356.2 1244.2 355.1 1244.2 373.1 1243.7 375.5 1243.2 374.4 1242.7 373.2 1242.2 374.9 1241.7 375.7 1241.2 379.6 1240.7 380.4 1240.2 381.2 1239.7 380.3 1239.2 382.5 1238.7 388.5 1238.2 392.2 1237.7 394.6 1237.2 389.1 1236.7 388.7 1236.2 393.6 1235.7 391.5 1235.2 396.8 1234.7 393.7 1234.2 396.2 1233.7 393.1 1233.2 393.3 1232.7 392.2 1232.2 388.5 1231.7 394.4 1231.2 396.3 1230.7 401.5 1230.2 412.5 1229.7 408.3 1229.2 403.5 1228.7 400.4 1228.2 405.6 1227.7 406.3 1227.2 415.2 1226.7 418.3 1226.2 413.4 1225.7 418.4 1225.2 412.5 1224.7 425 1224.2 412.3 1223.7 411.4 1223.2 400.8 1222.7 390.9 1222.2 386.1 1221.7 382.5 1221.2 382.7 1220.7 381.5 1220.2 386.4 1219.7 387.6 1219.2 390.2 1218.7 390.1 1218.2 394.3 1217.7 395 1217.2 396.4 1216.7 389.2 1216.2 390.4 1215.7 389.9 1215.2 387.7 1214.7 384.7 1214.2 382.5 1213.7 384.4 1213.2 387.8 1212.7 389.2 1212.2 389.6 1211.7 388.3 1211.2 384.7 1210.7 384.7 1210.2 387.2 1209.7 390 1209.2 393.6 1208.7 390.1 1208.2 390 1207.7 389.5 1207.2 388.3 1206.7 383 1206.2 387.6 1205.7 390.2 1205.2 394.9 1204.7 399 1204.2 405.2 1203.7 403 1203.2 408.9 1202.7 408.7 1202.2 398.5 1201.7 399.8 1201.2 395.6 1200.7 392.3 1200.2 390.3 1199.7 388 1199.2 380.7 1198.7 380.8 1198.2 382.4 1197.7 382.7 1197.2 384.7 1196.7 390.6 1196.2 399.4 1195.7 393.3 1195.2 398 1194.7 399.4 1194.2 398 1193.7 399.9 1193.2 397.5 1192.7 397 1192.2 396.4 1191.7 393.4 1191.2 391.5 1190.7 391.8 1190.2 387.8 1189.7 386.6 1189.2 391.6 1188.7 385.7 1188.2 388.8 1187.7 386.9 1187.2 387.8 1186.7 381.4 1186.2 381.1 1185.7 380.8 1185.2 378.8 1184.7 381.8 1184.2 377.7 1183.7 379.7 1183.2 379.8 1182.7 381.7 1182.2 382 1181.7 379.4 1181.2 381.3 1180.7 384.5 1180.2 386.6 1179.7 382.8 1179.2 385.6 1178.7 385.8 1178.2 388.5 1177.7 389.4 1177.2 393.7 1176.7 391.5 1176.2 393.5 1175.7 398.1 1175.2 394.7 1174.7 395.7 1174.2 402 1173.7 398.2 1173.2 395.2 1172.7 398.5 1172.2 391.6 1171.7 390.1 1171.2 388.5 1170.7 386.1 1170.2 380.8 1169.7 379 1169.2 378.7 1168.7 381.3 1168.2 382.7 1167.7 383.8 1167.2 381 1166.7 383 1166.2 383.5 1165.7 385 1165.2 392.8 1164.7 393.8 1164.2 395.6 1163.7 400.8 1163.2 402.2 1162.7 393.3 1162.2 392.4 1161.7 389.3 1161.2 386.6 1160.7 385.7 1160.2 386.7 1159.7 386.9 1159.2 387.8 1158.7 390.7 1158.2 386.8 1157.7 389.9 1157.2 391.6 1156.7 391.8 1156.2 392.2 1155.7 389.2 1155.2 391.5 1154.7 384.5 1154.2 386.5 1153.7 388.6 1153.2 389.5 1152.7 390.3 1152.2 390.6 1151.7 389.6 1151.2 388 1150.7 390.1 1150.2 388.5 1149.7 382.3 1149.2 380.9 1148.7 381.2 1148.2 381.1 1147.7 390.2 1147.2 387.2 1146.7 391.3 1146.2 396.8 1145.7 395.8 1145.2 401.8 1144.7 411.5 1144.2 412.3 1143.7 403.8 1143.2 404.3 1142.7 399.1 1142.2 404.8 1141.7 427.2 1141.2 413.4 1140.7 400.3 1140.2 402.9 1139.7 396.2 1139.2 399.2 1138.7 395.9 1138.2 396.5 1137.7 393.3 1137.2 395.2 1136.7 394.7 1136.2 387 1135.7 384.5 1135.2 381.9 1134.7 381.2 1134.2 379.7 1133.7 376.9 1133.2 376.7 1132.7 376.4 1132.2 375 1131.7 374.1 1131.2 374.4 1130.7 377 1130.2 376.6 1129.7 379.9 1129.2 380.4 1128.7 377.9 1128.2 378.9 1127.7 377.5 1127.2 380.6 1126.7 380.3 1126.2 385.6 1125.7 386.9 1125.2 390.6 1124.7 388.2 1124.2 390.1 1123.7 391.4 1123.2 386.6 1122.7 388.4 1122.2 387.6 1121.7 386.7 1121.2 390 1120.7 391.6 1120.2 389.6 1119.7 388.5 1119.2 387.6 1118.7 391.6 1118.2 392.3 1117.7 397.5 1117.2 402.9 1116.7 397.9 1116.2 398.5 1115.7 404.4 1115.2 407.3 1114.7 403.7 1114.2 398.9 1113.7 396.6 1113.2 393.3 1112.7 396.3 1112.2 393.5 1111.7 389 1111.2 388 1110.7 392.5 1110.2 388.7 1109.7 383.2 1109.2 384.2 1108.7 378.5 1108.2 374.3 1107.7 374.4 1107.2 375.5 1106.7 378 1106.2 378.2 1105.7 379.8 1105.2 381.2 1104.7 382.8 1104.2 381.8 1103.7 385.6 1103.2 383.8 1102.7 385.1 1102.2 385.7 1101.7 387.4 1101.2 387.1 1100.7 389.1 1100.2 385.4 1099.7 387.2 1099.2 388.8 1098.7 392 1098.2 395.9 1097.7 399.7 1097.2 400.9 1096.7 393.6 1096.2 393.5 1095.7 394.7 1095.2 397.2 1094.7 398.6 1094.2 397.9 1093.7 397.8 1093.2 391.6 1092.7 389.7 1092.2 391.5 1091.7 388.5 1091.2 393.4 1090.7 394.5 1090.2 393.2 1089.7 393.7 1089.2 392.9 1088.7 401.3 1088.2 396.8 1087.7 397.1 1087.2 400.1 1086.7 397.6 1086.2 399 1085.7 402.1 1085.2 404.8 1084.7 404.6 1084.2 402.8 1083.7 398.3 1083.2 395.3 1082.7 393.7 1082.2 395.4 1081.7 393.7 1081.2 392.1 1080.7 389.3 1080.2 384.6 1079.7 385.3 1079.2 380.9 1078.7 384.8 1078.2 381.3 1077.7 378.6 1077.2 385.2 1076.7 384.4 1076.2 385.6 1075.7 388.3 1075.2 387.4 1074.7 385.3 1074.2 385.1 1073.7 386.2 1073.2 391.5 1072.7 389.1 1072.2 381.7 1071.7 383.3 1071.2 387.6 1070.7 390.2 1070.2 390.7 1069.7 393.5 1069.2 394.3 1068.7 397.6 1068.2 403.7 1067.7 402.3 1067.2 401.4 1066.7 400.9 1066.2 396.7 1065.7 395 1065.2 390.9 1064.7 391.9 1064.2 394.6 1063.7 393.8 1063.2 394.1 1062.7 385.2 1062.2 384.3 1061.7 385.4 1061.2 385.8 1060.7 382.4 1060.2 378.7 1059.7 384.9 1059.2 387.9 1058.7 387.1 1058.2 391.9 1057.7 393.5 1057.2 400.8 1056.7 398.2 1056.2 407.1 1055.7 401.2 1055.2 397.5 1054.7 390.4 1054.2 385.6 1053.7 381.5 1053.2 385 1052.7 391 1052.2 391.5 1051.7 396.8 1051.2 404.4 1050.7 411.3 1050.2 412.9 1049.7 413.1 1049.2 407.6 1048.7 402 1048.2 405.7 1047.7 399.2 1047.2 400.4 1046.7 396.4 1046.2 392.8 1045.7 396.6 1045.2 401 1044.7 399.7 1044.2 403.2 1043.7 399.4 1043.2 395.4 1042.7 389.6 1042.2 396.5 1041.7 397.1 1041.2 396.8 1040.7 395.4 1040.2 393.9 1039.7 387.6 1039.2 388.4 1038.7 391 1038.2 389.3 1037.7 391.1 1037.2 384.6 1036.7 383.8 1036.2 383.3 1035.7 382.1 1035.2 383 1034.7 382.5 1034.2 383.8 1033.7 391.1 1033.2 390.3 1032.7 387.4 1032.2 392.3 1031.7 393.9 1031.2 397.6 1030.7 401.4 1030.2 400.3 1029.7 395.6 1029.2 396.2 1028.7 396.3 1028.2 399.5 1027.7 402.5 1027.2 401.2 1026.7 398.5 1026.2 395.8 1025.7 397.1 1025.2 398.4 1024.7 405.2 1024.2 403.4 1023.7 399.1 1023.2 398.2 1022.7 391.5 1022.2 390.9 1021.7 386.7 1021.2 385.2 1020.7 385.3 1020.2 380.8 1019.7 381.2 1019.2 382.3 1018.7 380.6 1018.2 381.8 1017.7 383.6 1017.2 384.1 1016.7 382.9 1016.2 382 1015.7 378.6 1015.2 379.5 1014.7 378.7 1014.2 379.8 1013.7 380.8 1013.2 384.1 1012.7 381.1 1012.2 380 1011.7 382.1 1011.2 380 1010.7 386.8 1010.2 390.2 1009.7 393.4 1009.2 396.5 1008.7 401 1008.2 399 1007.7 393.9 1007.2 390.9 1006.7 386.9 1006.2 386.5 1005.7 385.8 1005.2 384.3 1004.7 381.3 1004.2 384.1 1003.7 386.9 1003.2 393.2 1002.7 392.9 1002.2 396.1 1001.7 400.4 1001.2 402.4 1000.7 400.5 1000.2 403 999.7 395.4 999.2 390.2 998.7 394.6 998.2 391.3 997.7 400.2 997.2 401.3 996.7 392.2 996.2 392 995.7 392 995.2 399.4 994.7 414 994.2 402.1 993.7 408 993.2 406.7 992.7 398.5 992.2 399.3 991.7 392.6 991.2 391.4 990.7 396.2 990.2 392.4 989.7 394.8 989.2 392.2 988.7 391.2 988.2 392.8 987.7 394.2 987.2 390.9 986.7 388.6 986.2 397.4 985.7 401.4 985.2 406.9 984.7 413.4 984.2 416 983.7 411.7 983.2 415.1 982.7 413.4 982.2 409.4 981.7 399.6 981.2 400.2 980.7 399 980.2 398.5 979.7 398.7 979.2 402.6 978.7 400.4 978.2 404.6 977.7 402.4 977.2 396.4 976.7 394.4 976.2 390.4 975.7 391.4 975.2 391.2 974.7 393.9 974.2 389.7 973.7 388.5 973.2 383.9 972.7 384.9 972.2 382.4 971.7 379.5 971.2 379.7 970.7 376.1 970.2 373.8 969.7 376.6 969.2 376.3 968.7 376.5 968.2 377.6 967.7 376.9 967.2 379.3 966.7 381.8 966.2 383.5 965.7 388.4 965.2 386 964.7 382.2 964.2 385.8 963.7 386.8 963.2 389.4 962.7 389 962.2 390.9 961.7 390.5 961.2 389.5 960.7 391.8 960.2 388.7 959.7 394.5 959.2 397.7 958.7 397.1 958.2 395.9 957.7 395.7 957.2 391.2 956.7 395.5 956.2 393 955.7 394 955.2 393.7 954.7 387.7 954.2 388.7 953.7 386.4 953.2 390.6 952.7 393 952.2 394.7 951.7 393.9 951.2 393 950.7 387.7 950.2 382.5 949.7 383.5 949.2 386.3 948.7 384.6 948.2 386.8 947.7 384.6 947.2 384.6 946.7 384 946.2 381 945.7 382.4 945.2 380.3 944.7 381 944.2 380.5 943.7 379.6 943.2 380.7 942.7 379.5 942.2 384.7 941.7 388.4 941.2 388 940.7 392.4 940.2 393.5 939.7 395.7 939.2 393.1 938.7 391.9 938.2 391.4 937.7 396.1 937.2 397.1 936.7 399 936.2 408.6 935.7 404 935.2 408.9 934.7 406.2 934.2 404.3 933.7 405.7 933.2 402.8 932.7 396.3 932.2 397.5 931.7 395 931.2 394.1 930.7 389.3 930.2 386.5 929.7 387.7 929.2 385.9 928.7 386.9 928.2 390.9 927.7 386.9 927.2 386.2 926.7 388.3 926.2 390 925.7 396.6 925.2 397.4 924.7 400.4 924.2 397 923.7 395.5 923.2 399.6 922.7 397.9 922.2 395.6 921.7 390.2 921.2 387.1 920.7 385.2 920.2 382.6 919.7 385.4 919.2 384.9 918.7 385.1 918.2 383.5 917.7 383.3 917.2 382.8 916.7 379.3 916.2 377.5 915.7 376.2 915.2 377.9 914.7 376.8 914.2 378.6 913.7 374.5 913.2 376.7 912.7 380.6 912.2 379.9 911.7 383.4 911.2 382.9 910.7 380.4 910.2 382.3 909.7 381.3 909.2 382.8 908.7 385.2 908.2 386.7 907.7 383.9 907.2 387.2 906.7 384.4 906.2 389.3 905.7 390.5 905.2 392.4 904.7 394.7 904.2 394.9 903.7 397.5 903.2 398.7 902.7 398.8 902.2 414.8 901.7 427 901.2 411.5 900.7 406.8 900.2 399.6 899.7 394 899.2 398 898.7 390.3 898.2 389.1 897.7 389.6 897.2 388.1 896.7 386.4 896.2 385.3 895.7 381.7 895.2 379.2 894.7 376.2 894.2 377.3 893.7 375 893.2 375.6 892.7 379 892.2 377.5 891.7 380.5 891.2 377.4 890.7 378.4 890.2 380.9 889.7 380 889.2 381.4 888.7 379.6 888.2 381.3 887.7 381 887.2 388.1 886.7 388.1 886.2 394.2 885.7 399.9 885.2 400.8 884.7 398.3 884.2 395.2 883.7 396.5 883.2 395.5 882.7 391.9 882.2 397.1 881.7 394.9 881.2 400.5 880.7 401.7 880.2 394.6 879.7 400.6 879.2 400.4 878.7 402.8 878.2 400.7 877.7 398.6 877.2 395.2 876.7 401.2 876.2 406.8 875.7 405.3 875.2 409.8 874.7 404 874.2 408.1 873.7 411.6 873.2 411 872.7 414.2 872.2 412.9 871.7 404.5 871.2 397.3 870.7 397.5 870.2 399.2 869.7 401.4 869.2 397.4 868.7 396.8 868.2 394.6 867.7 395 867.2 389.4 866.7 389.3 866.2 386.5 865.7 386.5 865.2 385.8 864.7 385.1 864.2 387.3 863.7 386.8 863.2 385.3 862.7 390.1 862.2 386.7 861.7 387.1 861.2 390.7 860.7 387.8 860.2 386.8 859.7 387.5 859.2 390.1 858.7 386.2 858.2 388.7 857.7 386.1 857.2 387 856.7 387.4 856.2 392.2 855.7 396.2 855.2 395.8 854.7 396.7 854.2 395 853.7 396.7 853.2 405.9 852.7 404.9 852.2 401.9 851.7 394.9 851.2 393.3 850.7 394.6 850.2 393.2 849.7 397.1 849.2 392.5 848.7 393 848.2 390 847.7 390 847.2 393.2 846.7 391.8 846.2 391.1 845.7 388.3 845.2 390.4 844.7 387.4 844.2 387.1 843.7 385.9 843.2 386.6 842.7 385.2 842.2 391.4 841.7 395.5 841.2 397.3 840.7 404.7 840.2 399.9 839.7 399.6 839.2 397.2 838.7 393.6 838.2 404.5 837.7 410.2 837.2 408.7 836.7 407.6 836.2 403.9 835.7 401.5 835.2 397.5 834.7 397.8 834.2 394.7 833.7 392.3 833.2 385.7 832.7 389.9 832.2 400.3 831.7 405.4 831.2 398.1 830.7 404.7 830.2 399.1 829.7 406.8 829.2 403.9 828.7 406.3 828.2 407.5 827.7 400.5 827.2 396.2 826.7 395.7 826.2 393.9 825.7 394.5 825.2 392.2 824.7 388.8 824.2 388.4 823.7 389.1 823.2 388.9 822.7 391.9 822.2 388.2 821.7 390.5 821.2 391.3 820.7 395.8 820.2 390.4 819.7 394 819.2 393.7 818.7 390.8 818.2 393.2 817.7 389.6 817.2 389.5 816.7 390.6 816.2 396.3 815.7 391 815.2 395.2 814.7 395.7 814.2 393.3 813.7 395.7 813.2 396.4 812.7 396.2 812.2 395.4 811.7 397.2 811.2 398.8 810.7 395.7 810.2 400 809.7 402.9 809.2 408.5 808.7 407.6 808.2 418.1 807.7 415.4 807.2 399.3 806.7 396.6 806.2 393.8 805.7 396.9 805.2 397.3 804.7 407.6 804.2 412.6 803.7 410.1 803.2 408.9 802.7 410 802.2 402.9 801.7 403.2 801.2 399.4 800.7 397.9 800.2 406.1 799.7 405.8 799.2 407.8 798.7 408.9 798.2 409.5 797.7 415.4 797.2 406.5 796.7 404 796.2 400.2 795.7 395 795.2 397.2 794.7 396.4 794.2 398 793.7 395 793.2 388.8 792.7 390.9 792.2 383.5 791.7 381.9 791.2 378.6 790.7 378.8 790.2 381.9 789.7 380.2 789.2 380.7 788.7 384 788.2 379.6 787.7 380 787.2 381.6 786.7 383 786.2 381.2 785.7 386.4 785.2 393.4 784.7 392.2 784.2 394.4 783.7 396 783.2 395.1 782.7 396.2 782.2 400.5 781.7 401.4 781.2 400.5 780.7 403.5 780.2 407.3 779.7 406.3 779.2 405.8 778.7 399.1 778.2 397.2 777.7 395 777.2 401.3 776.7 398.9 776.2 389.8 775.7 390.9 775.2 384.5 774.7 377.6 774.2 380.4 773.7 381.2 773.2 382.4 772.7 386.8 772.2 387.3 771.7 391.3 771.2 387.4 770.7 389.6 770.2 389.3 769.7 390.5 769.2 396.8 768.7 394.3 768.2 400.5 767.7 401.3 767.2 399.7 766.7 397.6 766.2 396.9 765.7 397 765.2 397.7 764.7 387.7 764.2 384.5 763.7 380.1 763.2 374.1 762.7 376.7 762.2 380.8 761.7 382.7 761.2 385.7 760.7 385.1 760.2 386.8 759.7 387.5 759.2 394.8 758.7 397.5 758.2 404.1 757.7 402 757.2 403.4 756.7 399.8 756.2 395.5 755.7 398.3 755.2 392.2 754.7 393.3 754.2 394.5 753.7 397.5 753.2 395.4 752.7 395.4 752.2 398.1 751.7 392.7 751.2 390 750.7 393.1 750.2 394.5 749.7 397.5 749.2 397.7 748.7 393.3 748.2 391.4 747.7 391.6 747.2 396.1 746.7 403 746.2 407.7 745.7 410.7 745.2 414.9 744.7 410.9 744.2 407.5 743.7 414.3 743.2 413.3 742.7 422.5 742.2 419.5 741.7 423.8 741.2 416.6 740.7 406.9 740.2 401.8Z" fill="#cb4a39" clip-path="url(#cb3)"/>
<text transform="translate(734.61,443.32) scale(1.0700,1)" font-size="19.80" fill="#000">0</text>
<text transform="translate(823.23,443.32) scale(1.0700,1)" font-size="19.80" fill="#000">100</text>
<text transform="translate(924.31,443.32) scale(1.0700,1)" font-size="19.80" fill="#000">200</text>
<text transform="translate(1025.24,443.32) scale(1.0700,1)" font-size="19.80" fill="#000">300</text>
<text transform="translate(1126.20,443.32) scale(1.0700,1)" font-size="19.80" fill="#000">400</text>
<text transform="translate(1226.82,443.32) scale(1.0700,1)" font-size="19.80" fill="#000">500</text>
<text transform="translate(937.61,483.00) scale(1.0169,1)" font-size="26.00" fill="#000">Time (ns)</text>
<text transform="translate(673.88,326.85) rotate(-90) scale(1.1024,1)" font-size="25.50">Amplitude (mV)</text>
<text transform="translate(693.05,23.80)" font-size="26.50" font-weight="bold" fill="#000">b</text>
</g>
<g id="pc">
<path d="M184.4 595.1C185.4 595 187.9 595.1 189.1 595.4C190.2 595.8 190.1 596.7 191.4 597C192.7 597.3 194.9 597 196.8 597.4C198.7 597.8 200.9 598.5 203 599.3C205.1 600.2 207.1 601.4 209.2 602.4C211.2 603.4 213.8 604.5 215.4 605.5C216.9 606.5 217.2 607.4 218.5 608.2C219.8 609.1 222 609.6 223.1 610.5C224.3 611.5 224.4 612.6 225.4 614C226.5 615.4 228 617.2 229.3 619.1C230.6 620.9 232.1 623.3 233.2 625.2C234.2 627.2 234.9 629 235.5 630.7C236.1 632.3 236.7 634 237 635.3C237.4 636.6 237.8 637.2 237.4 638.4C237 639.6 235.3 641 234.7 642.3C234.1 643.6 234.9 645 233.9 646.1C233 647.3 230.5 648.2 229.3 649.2C228.1 650.3 227.6 651.2 227 652.3C226.3 653.5 226.3 655.2 225.4 656.2C224.5 657.2 223.5 657.9 221.6 658.1C219.6 658.4 216.1 657.9 213.8 657.8C211.5 657.6 209.7 657.4 207.6 657.4C205.6 657.3 203.2 657.6 201.4 657.4C199.6 657.2 198.3 656.9 196.8 656.2C195.2 655.6 194 654.1 192.2 653.5C190.3 652.9 187.5 652.7 186 652.3C184.4 652 184 652.1 182.9 651.2C181.7 650.3 180 648 179 646.9C178 645.9 178 646.3 176.7 645C175.4 643.7 172.3 640.5 171.3 639.2C170.2 637.8 171.4 637.9 170.5 636.9C169.6 635.8 167 634.3 165.8 633C164.7 631.7 163.9 630.4 163.5 629.1C163.1 627.8 163.3 626.4 163.5 625.2C163.7 624.1 164.5 623.4 164.7 622.2C164.8 620.9 164.4 619.4 164.3 617.5C164.2 615.6 163.8 612.3 163.9 610.5C164 608.7 164.5 607.6 165.1 606.7C165.6 605.8 166 606 167.4 605.1C168.8 604.3 171.6 602.9 173.6 601.6C175.5 600.4 177.4 598.4 179 597.4C180.5 596.4 182 596.2 182.9 595.8C183.8 595.4 183.4 595.1 184.4 595.1Z M186 614.8C188.3 614.1 195.5 614.5 198.3 614.8C201.2 615.1 201.2 615.6 203 616.7C204.8 617.8 207.6 620 209.2 621.4C210.7 622.8 211.4 624 212.3 625.2C213.1 626.5 213.8 627.6 214.2 629.1C214.7 630.7 215 632.9 215 634.5C214.9 636.2 214.8 638.2 213.8 639.2C212.9 640.1 211.1 640.1 209.2 640.3C207.2 640.6 204.9 641.4 202.2 640.7C199.5 640 195.1 637.4 192.9 636.1C190.7 634.8 190.3 634.1 189.1 633C187.8 631.8 186 630.4 185.2 629.1C184.3 627.8 184.2 626.9 184 625.2C183.8 623.6 183.7 620.8 184 619.1C184.3 617.3 183.6 615.5 186 614.8Z" fill="#000" fill-rule="evenodd"/>
<path d="M184.7 595.8C185.7 595.7 188.1 595.8 189.2 596C190.3 596.3 190.2 597 191.4 597.3C192.7 597.5 194.9 597 196.8 597.3C198.7 597.6 201 598.2 203.1 598.9C205.1 599.7 207.3 600.9 209.4 602C211.5 603 214.1 604.1 215.6 605.2C217.2 606.2 217.4 607.2 218.6 608.1C219.9 609 222 609.6 223 610.6C224.1 611.6 224.1 612.8 225 614.2C225.9 615.7 227.4 617.4 228.5 619.3C229.7 621.1 231.2 623.4 232.1 625.3C233.1 627.2 233.7 628.9 234.3 630.6C234.9 632.2 235.5 633.8 235.8 635.1C236.2 636.3 236.7 637 236.4 638.1C236 639.3 234.4 640.7 233.9 642C233.4 643.2 234.2 644.7 233.4 645.9C232.6 647 230.1 648 229 649C227.9 650.1 227.4 651 226.8 652.2C226.2 653.3 226.2 655.1 225.3 656.1C224.5 657.1 223.5 657.8 221.6 658.1C219.6 658.4 216.2 658 213.9 657.9C211.6 657.8 209.8 657.7 207.7 657.6C205.6 657.6 203.3 657.9 201.5 657.7C199.7 657.5 198.3 657.2 196.8 656.5C195.2 655.8 193.9 654.3 192.1 653.6C190.3 652.8 187.6 652.6 186.1 652.1C184.6 651.7 184.2 651.7 183.2 650.7C182.1 649.8 180.5 647.5 179.5 646.4C178.5 645.4 178.5 645.8 177.3 644.5C176 643.3 172.9 640.2 171.9 638.9C170.8 637.6 171.9 637.7 170.9 636.7C170 635.7 167.3 634.2 166.1 632.9C165 631.7 164.1 630.4 163.7 629.1C163.3 627.8 163.6 626.4 163.8 625.3C164 624.1 164.8 623.5 165 622.2C165.1 620.9 164.8 619.5 164.6 617.6C164.5 615.7 164.1 612.5 164.2 610.7C164.4 608.9 164.8 607.7 165.3 606.9C165.9 606 166.2 606.1 167.7 605.3C169.1 604.5 171.9 603.2 173.9 601.9C175.8 600.7 177.8 598.8 179.3 597.9C180.9 597 182.3 596.9 183.2 596.5C184.1 596.2 183.7 595.9 184.7 595.8Z" fill="none" stroke="#000" stroke-width="0.9"/>
<path d="M184.5 595.4C185.6 595.3 188 595.4 189.1 595.6C190.3 595.9 190.1 596.7 191.4 597C192.7 597.3 194.9 596.9 196.8 597.3C198.7 597.6 200.9 598.4 203 599.2C205.1 600.1 207.1 601.3 209.2 602.4C211.2 603.5 213.8 604.7 215.2 605.7C216.7 606.7 216.9 607.7 218.1 608.5C219.4 609.4 221.4 610 222.5 610.9C223.6 611.9 223.7 613 224.7 614.4C225.7 615.8 227.2 617.4 228.5 619.3C229.8 621.1 231.4 623.4 232.4 625.3C233.5 627.2 234.2 629 234.9 630.6C235.6 632.3 236.2 633.9 236.6 635.2C236.9 636.5 237.4 637.1 237 638.3C236.6 639.4 234.9 640.8 234.3 642.1C233.8 643.4 234.5 644.8 233.6 645.9C232.7 647.1 230.2 648 229 649.1C227.9 650.1 227.5 651 226.9 652.3C226.3 653.5 226.4 655.3 225.5 656.3C224.7 657.3 223.7 658.1 221.7 658.4C219.8 658.7 216.3 658.2 214 658C211.6 657.9 209.8 657.7 207.7 657.6C205.6 657.4 203.2 657.6 201.4 657.3C199.6 657.1 198.3 656.6 196.8 655.9C195.3 655.2 194 653.7 192.3 653C190.5 652.3 187.7 652.2 186.2 651.8C184.7 651.4 184.3 651.6 183.2 650.7C182 649.8 180.4 647.6 179.3 646.6C178.3 645.6 178.2 646 176.9 644.8C175.6 643.5 172.5 640.4 171.5 639.1C170.4 637.7 171.6 637.8 170.7 636.8C169.9 635.7 167.3 634.2 166.2 632.9C165.1 631.6 164.4 630.4 164.1 629.1C163.7 627.8 164 626.4 164.2 625.3C164.4 624.1 165.2 623.5 165.3 622.2C165.3 621 164.9 619.6 164.7 617.6C164.5 615.7 164.1 612.5 164.2 610.7C164.2 608.8 164.6 607.7 165.2 606.7C165.7 605.8 166 606 167.4 605.2C168.8 604.3 171.7 603 173.7 601.7C175.6 600.5 177.6 598.5 179.1 597.6C180.7 596.6 182.1 596.5 183 596.1C183.9 595.8 183.5 595.4 184.5 595.4Z" fill="none" stroke="#000" stroke-width="0.9"/>
<path d="M184.4 595.1C185.4 594.9 187.8 595 189 595.3C190.1 595.5 190 596.5 191.3 596.8C192.6 597.1 194.8 596.8 196.8 597.2C198.7 597.6 200.9 598.2 203 599.1C205.1 599.9 207.2 601.1 209.3 602.1C211.4 603.1 214.1 604.2 215.6 605.2C217.2 606.2 217.4 607.1 218.7 608C219.9 608.9 222 609.5 223 610.6C224.1 611.6 224 612.8 224.9 614.3C225.8 615.7 227.1 617.5 228.3 619.3C229.4 621.2 230.8 623.5 231.8 625.3C232.8 627.2 233.5 628.9 234.3 630.6C235 632.2 235.8 633.9 236.2 635.1C236.7 636.4 237.3 637.1 237.1 638.3C236.8 639.5 235.1 640.9 234.6 642.2C234.1 643.5 234.8 644.9 233.9 646.1C232.9 647.2 230.3 648.1 229.2 649.1C228 650.1 227.4 651 226.8 652.2C226.2 653.3 226.2 655.1 225.3 656C224.4 657 223.4 657.7 221.4 658C219.5 658.2 216 657.6 213.7 657.5C211.3 657.3 209.5 657 207.5 656.8C205.4 656.6 203.1 656.8 201.4 656.5C199.6 656.2 198.4 655.8 196.9 655.2C195.4 654.6 194.1 653.2 192.3 652.7C190.6 652.1 187.8 652.1 186.2 651.9C184.6 651.7 184.1 652 182.9 651.2C181.6 650.4 179.8 648.2 178.7 647.2C177.6 646.3 177.5 646.7 176.2 645.4C174.9 644.1 171.8 640.8 170.8 639.4C169.8 638 171.1 638 170.3 636.9C169.5 635.9 167 634.3 165.9 633C164.8 631.7 164 630.4 163.7 629.1C163.3 627.8 163.5 626.4 163.7 625.3C163.9 624.1 164.7 623.5 164.9 622.2C165.1 620.9 164.8 619.5 164.8 617.7C164.8 615.8 164.6 612.7 164.9 611C165.2 609.3 165.8 608.4 166.5 607.6C167.2 606.8 167.6 607 168.9 606.2C170.3 605.4 172.9 604.1 174.7 602.8C176.5 601.5 178.2 599.4 179.6 598.3C181 597.3 182.3 596.8 183.1 596.3C183.9 595.7 183.4 595.3 184.4 595.1Z" fill="none" stroke="#000" stroke-width="0.9"/>
<line x1="102.9" y1="577.2" x2="114.7" y2="577.2" stroke="#000" stroke-width="2.5"/>
<line x1="258.4" y1="709.9" x2="258.4" y2="698.1" stroke="#000" stroke-width="2.5"/>
<line x1="102.9" y1="627" x2="114.7" y2="627" stroke="#000" stroke-width="2.5"/>
<line x1="200.1" y1="709.9" x2="200.1" y2="698.1" stroke="#000" stroke-width="2.5"/>
<line x1="102.9" y1="676.7" x2="114.7" y2="676.7" stroke="#000" stroke-width="2.5"/>
<line x1="141.8" y1="709.9" x2="141.8" y2="698.1" stroke="#000" stroke-width="2.5"/>
<line x1="102.9" y1="552.3" x2="108.7" y2="552.3" stroke="#000" stroke-width="2.5"/>
<line x1="287.6" y1="709.9" x2="287.6" y2="704.1" stroke="#000" stroke-width="2.5"/>
<line x1="102.9" y1="602.1" x2="108.7" y2="602.1" stroke="#000" stroke-width="2.5"/>
<line x1="229.3" y1="709.9" x2="229.3" y2="704.1" stroke="#000" stroke-width="2.5"/>
<line x1="102.9" y1="651.8" x2="108.7" y2="651.8" stroke="#000" stroke-width="2.5"/>
<line x1="170.9" y1="709.9" x2="170.9" y2="704.1" stroke="#000" stroke-width="2.5"/>
<line x1="102.9" y1="701.6" x2="108.7" y2="701.6" stroke="#000" stroke-width="2.5"/>
<line x1="112.6" y1="709.9" x2="112.6" y2="704.1" stroke="#000" stroke-width="2.5"/>
<rect x="102.90" y="544.00" width="194.40" height="165.90" fill="none" stroke="#000" stroke-width="2.1"/>
<text transform="translate(48.76,584.00) scale(1.0700,1)" font-size="19.80" fill="#000">0.15</text>
<text transform="translate(48.69,633.77) scale(1.0700,1)" font-size="19.80" fill="#000">0.00</text>
<text transform="translate(41.70,683.54) scale(1.0700,1)" font-size="19.80" fill="#000">-0.15</text>
<text transform="translate(117.61,738.62) scale(1.0700,1)" font-size="19.80" fill="#000">-0.15</text>
<text transform="translate(179.48,738.62) scale(1.0700,1)" font-size="19.80" fill="#000">0.00</text>
<text transform="translate(237.83,738.62) scale(1.0700,1)" font-size="19.80" fill="#000">0.15</text>
<text transform="translate(135.55,767.60)" font-size="23.70" fill="#000">Amp. [N] (V)</text>
<text transform="translate(28.12,708.15) rotate(-90) scale(0.9889,1)" font-size="23.90">Amp. [N+1]  (V)</text>
<path d="M498.6 595.1C500.1 595.1 502.8 595.3 504.6 595.8C506.4 596.4 507.5 597.8 509.1 598.5C510.8 599.2 512.8 599.4 514.4 600C516 600.6 517.4 601.2 518.9 601.9C520.4 602.6 522.2 603.3 523.5 604.1C524.7 605 525.3 606 526.5 607.2C527.6 608.3 528.7 609.9 530.3 610.9C531.8 611.9 534.2 612.3 535.5 613.2C536.9 614.1 537.9 615.1 538.6 616.2C539.2 617.3 538.4 618.2 539.3 619.6C540.2 621 543 622.6 543.8 624.5C544.7 626.5 543.6 629.2 544.2 631.3C544.8 633.4 546.7 635.8 547.2 637.3C547.8 638.9 548.1 639.2 547.6 640.4C547.2 641.5 546 642.5 544.6 644.1C543.2 645.8 541.1 648.7 539.3 650.2C537.5 651.6 535.8 652.1 534 652.8C532.3 653.5 530.1 653.6 528.7 654.3C527.4 655 526.9 656 525.7 657C524.6 658 523.1 659.9 522 660.4C520.8 660.8 520.4 660.2 518.9 659.6C517.4 659 514.7 657.3 512.9 656.6C511.1 655.8 510.3 655.7 508.4 655.1C506.5 654.4 503.6 653.5 501.6 652.8C499.6 652.1 498.1 651.8 496.3 650.9C494.5 650 492.4 648.7 491 647.5C489.6 646.4 489.1 645.6 488 644.1C486.9 642.7 485.6 640.6 484.2 638.9C482.8 637.1 481.2 635.2 479.7 633.6C478.2 631.9 476.4 630.5 475.2 629C474 627.5 473 626.1 472.5 624.5C472 622.9 471.8 620.6 472.1 619.2C472.5 617.8 473.5 617.1 474.4 616.2C475.3 615.3 476.9 615.2 477.4 613.9C477.9 612.7 477.1 610.2 477.4 608.7C477.7 607.2 478.4 606 479.3 604.9C480.2 603.8 481.3 602.9 482.7 602.3C484.2 601.6 486.5 601.5 488 600.7C489.5 600 490.5 598.5 491.8 597.7C493 596.9 494.4 596.3 495.5 595.8C496.7 595.4 497 595.1 498.6 595.1Z" fill="#000"/>
<path d="M498 593.6C499.6 593.4 502.5 593.5 504.3 594.1C506.2 594.7 507.4 596.3 509.1 597.2C510.8 598 512.9 598.6 514.5 599.4C516.2 600.2 517.5 601.1 518.9 601.9C520.3 602.8 522 603.7 523.1 604.6C524.3 605.6 524.9 606.6 526 607.7C527 608.9 528.1 610.4 529.6 611.4C531.1 612.4 533.5 612.7 534.8 613.5C536.2 614.4 537.2 615.4 537.8 616.5C538.4 617.5 537.6 618.4 538.5 619.8C539.4 621.1 542.1 622.6 543 624.5C543.9 626.5 543 629.1 543.7 631.2C544.4 633.4 546.5 635.8 547.3 637.4C548.1 638.9 548.6 639.4 548.3 640.6C548.1 641.9 547 643 545.7 644.7C544.3 646.4 542.1 649.5 540.3 651C538.4 652.4 536.5 652.9 534.6 653.5C532.8 654.1 530.5 654.1 529 654.7C527.5 655.3 526.9 656.1 525.7 657C524.6 657.9 523 659.8 521.9 660.2C520.7 660.5 520.4 660 518.8 659.3C517.3 658.6 514.6 657 512.9 656.2C511.1 655.4 510.2 655.2 508.4 654.5C506.5 653.9 503.7 652.9 501.8 652.2C499.8 651.5 498.4 651.1 496.6 650.3C494.9 649.4 492.8 648.1 491.4 647.1C490 646 489.4 645.3 488.2 644C487 642.6 485.6 640.6 484 638.9C482.5 637.2 480.7 635.4 479.1 633.7C477.4 632.1 475.4 630.7 474.2 629.1C472.9 627.6 472 626.1 471.5 624.5C471 622.8 471 620.5 471.4 619.1C471.9 617.7 473.2 617 474.3 616.2C475.4 615.3 477.2 615.3 477.9 614.1C478.6 613 478 610.6 478.5 609.3C479 607.9 479.8 606.9 480.7 605.9C481.6 604.9 482.7 604.1 484 603.4C485.3 602.7 487.4 602.5 488.7 601.6C490.1 600.7 490.8 599 491.9 598C493 596.9 494.2 595.9 495.2 595.1C496.2 594.4 496.5 593.8 498 593.6Z" fill="none" stroke="#000" stroke-width="0.9"/>
<path d="M498.7 595.4C500.2 595.5 502.9 595.8 504.7 596.4C506.4 597 507.5 598.4 509.1 599C510.7 599.6 512.7 599.8 514.4 600.3C516 600.7 517.4 601.2 519 601.8C520.5 602.4 522.3 603.1 523.6 603.9C524.9 604.8 525.5 605.8 526.6 607C527.8 608.1 528.8 609.8 530.3 610.9C531.7 611.9 534 612.4 535.4 613.3C536.7 614.2 537.6 615.3 538.2 616.3C538.8 617.4 538.1 618.3 539 619.7C539.9 621 542.7 622.6 543.5 624.5C544.4 626.5 543.4 629.1 543.9 631.3C544.5 633.4 546.3 635.7 546.8 637.2C547.3 638.7 547.4 639 547 640.1C546.5 641.2 545.3 642.2 544 643.8C542.6 645.4 540.6 648.4 538.9 649.9C537.3 651.4 535.6 652 534 652.7C532.3 653.5 530.2 653.7 528.8 654.5C527.5 655.2 527 656.1 525.8 657.1C524.7 658.1 523.1 660 521.9 660.3C520.8 660.7 520.4 660 518.9 659.3C517.3 658.6 514.6 657 512.9 656.3C511.1 655.5 510.3 655.5 508.4 654.9C506.5 654.4 503.6 653.6 501.5 653C499.5 652.3 497.9 652.1 496.1 651.2C494.3 650.4 492.2 649 490.8 647.8C489.5 646.6 489 645.6 488 644.1C487 642.6 485.9 640.4 484.6 638.7C483.3 636.9 481.9 635 480.4 633.4C479 631.8 477.2 630.4 476 629C474.8 627.5 473.8 626.2 473.2 624.5C472.6 622.9 472.2 620.7 472.5 619.3C472.7 617.9 473.7 617.1 474.5 616.2C475.4 615.4 477 615.2 477.6 614C478.1 612.7 477.3 610.3 477.6 608.8C477.9 607.3 478.6 606.1 479.5 605C480.3 603.9 481.3 603 482.7 602.3C484.1 601.5 486.4 601.4 487.9 600.6C489.4 599.8 490.4 598.3 491.7 597.6C492.9 596.8 494.4 596.2 495.5 595.9C496.7 595.5 497.2 595.3 498.7 595.4Z" fill="none" stroke="#000" stroke-width="0.9"/>
<path d="M498.6 595.2C500.2 595.4 502.9 595.8 504.7 596.3C506.4 596.9 507.5 598.2 509.1 598.8C510.8 599.4 512.8 599.4 514.4 599.9C516.1 600.3 517.6 600.7 519.2 601.3C520.7 601.9 522.6 602.5 523.9 603.4C525.3 604.3 525.9 605.3 527 606.5C528.2 607.7 529.3 609.5 530.7 610.6C532.2 611.7 534.5 612.1 535.8 613C537.2 614 538.1 615.1 538.7 616.2C539.3 617.3 538.5 618.2 539.4 619.6C540.4 621 543.3 622.5 544.2 624.5C545.1 626.5 544.2 629.2 544.8 631.4C545.5 633.6 547.5 636 548.1 637.6C548.7 639.1 548.9 639.5 548.5 640.7C548 641.8 546.7 642.8 545.3 644.5C543.8 646.1 541.6 649.1 539.8 650.6C538 652 536.2 652.5 534.4 653.2C532.6 654 530.5 654.1 529.1 654.9C527.7 655.6 527.2 656.6 526.1 657.7C525 658.7 523.4 660.7 522.3 661.2C521.1 661.6 520.7 661 519.1 660.3C517.6 659.7 514.8 657.9 513 657.1C511.2 656.3 510.3 656.1 508.4 655.4C506.4 654.7 503.5 653.8 501.5 653.1C499.5 652.4 497.9 652.1 496.1 651.3C494.3 650.5 492 649.2 490.6 648.1C489.1 647 488.5 646.2 487.3 644.8C486 643.3 484.7 641.2 483.3 639.3C481.9 637.5 480.2 635.5 478.8 633.8C477.4 632.1 475.8 630.6 474.8 629.1C473.8 627.5 473.2 626.1 472.9 624.5C472.6 622.9 472.7 620.7 473.1 619.4C473.5 618.1 474.6 617.4 475.4 616.5C476.1 615.6 477.5 615.4 477.8 614.1C478 612.7 476.8 610 476.8 608.3C476.9 606.6 477.2 605.1 477.8 603.9C478.5 602.6 479.5 601.4 480.9 600.6C482.4 599.8 484.9 599.8 486.6 599C488.2 598.3 489.5 597 490.9 596.4C492.4 595.7 494 595.4 495.3 595.2C496.6 595.1 497 595.1 498.6 595.2Z" fill="none" stroke="#000" stroke-width="0.9"/>
<path d="M498.4 594.7C499.9 594.6 502.7 594.6 504.5 595.1C506.3 595.5 507.4 596.9 509.1 597.5C510.8 598.2 512.9 598.5 514.6 599.1C516.3 599.7 517.7 600.5 519.2 601.3C520.7 602.1 522.4 602.9 523.7 603.8C524.9 604.8 525.5 605.8 526.6 607C527.7 608.2 528.8 609.9 530.3 610.9C531.8 611.9 534.2 612.3 535.6 613.2C537 614 538 615.1 538.7 616.2C539.3 617.2 538.5 618.2 539.4 619.6C540.4 621 543.2 622.5 544.1 624.5C545 626.5 544.1 629.2 544.8 631.4C545.5 633.6 547.6 636.1 548.3 637.7C549 639.2 549.4 639.7 549 640.9C548.6 642.1 547.4 643.1 545.9 644.8C544.4 646.5 542 649.4 540.1 650.8C538.2 652.2 536.2 652.5 534.3 653.1C532.4 653.7 530.2 653.7 528.7 654.3C527.3 654.9 526.8 655.8 525.7 656.8C524.5 657.9 523.1 660 522 660.5C520.9 661.1 520.6 660.8 519.1 660.3C517.6 659.8 514.8 658.3 513 657.6C511.2 656.8 510.3 656.7 508.3 656C506.4 655.4 503.4 654.3 501.4 653.5C499.3 652.7 497.9 652.2 496.1 651.2C494.4 650.3 492.3 648.8 490.9 647.6C489.6 646.5 489.1 645.6 487.9 644.2C486.8 642.8 485.5 640.7 484 638.9C482.6 637.2 480.9 635.3 479.3 633.7C477.8 632 475.9 630.6 474.7 629.1C473.5 627.6 472.6 626.2 472.1 624.5C471.5 622.8 471.4 620.5 471.6 619.1C471.9 617.7 472.9 616.9 473.8 616C474.6 615.1 476.2 615 476.6 613.6C477.1 612.3 476.1 609.7 476.4 608.1C476.8 606.6 477.5 605.3 478.4 604.3C479.4 603.2 480.6 602.4 482.2 601.8C483.8 601.2 486.3 601.3 487.9 600.6C489.5 599.9 490.5 598.6 491.8 597.8C493.1 597 494.4 596.3 495.5 595.8C496.6 595.3 496.9 594.8 498.4 594.7Z" fill="none" stroke="#000" stroke-width="0.9"/>
<path d="M498.3 594.3C499.9 594.5 502.8 595 504.6 595.8C506.4 596.5 507.5 598.1 509.1 598.9C510.8 599.6 512.7 599.9 514.3 600.4C516 600.8 517.4 601.3 519 601.8C520.5 602.4 522.4 602.9 523.8 603.6C525.1 604.4 525.9 605.4 527 606.6C528.2 607.7 529.3 609.5 530.7 610.6C532.1 611.7 534.3 612.3 535.4 613.2C536.6 614.2 537.3 615.4 537.7 616.5C538.2 617.6 537.3 618.5 538.2 619.8C539.1 621.2 542 622.6 543 624.5C544.1 626.5 543.5 629.1 544.4 631.3C545.4 633.5 547.7 636.1 548.6 637.8C549.5 639.4 550.1 639.9 549.8 641.2C549.5 642.5 548.3 643.6 546.8 645.3C545.4 647 543 650.1 541 651.5C539 653 537 653.3 535 653.9C533.1 654.5 530.8 654.5 529.2 655C527.7 655.6 527.1 656.4 525.8 657.2C524.6 658 523 659.8 521.8 660.1C520.7 660.3 520.2 659.6 518.7 658.9C517.2 658.2 514.5 656.5 512.8 655.8C511.1 655.1 510.3 655 508.4 654.5C506.5 654 503.7 653.2 501.6 652.6C499.6 652.1 498 651.9 496.2 651.1C494.4 650.3 492.1 649 490.7 647.9C489.3 646.8 488.8 645.9 487.7 644.4C486.6 642.9 485.4 640.8 484 639C482.7 637.2 481.1 635.2 479.6 633.6C478 632 476.2 630.6 474.8 629.1C473.5 627.5 472.4 626.2 471.7 624.5C471.1 622.8 470.7 620.4 470.9 619C471.2 617.6 472.3 616.8 473.2 615.9C474.2 615 476 614.9 476.7 613.7C477.4 612.5 476.8 610 477.3 608.6C477.7 607.1 478.6 606.1 479.5 605C480.4 604 481.4 603 482.7 602.3C484.1 601.5 486.3 601.3 487.7 600.3C489.1 599.4 490 597.7 491.2 596.8C492.4 595.9 493.8 595.1 495 594.7C496.2 594.3 496.7 594.1 498.3 594.3Z" fill="none" stroke="#000" stroke-width="0.9"/>
<line x1="414" y1="577.2" x2="425.8" y2="577.2" stroke="#000" stroke-width="2.5"/>
<line x1="569.4" y1="709.9" x2="569.4" y2="698.1" stroke="#000" stroke-width="2.5"/>
<line x1="414" y1="627" x2="425.8" y2="627" stroke="#000" stroke-width="2.5"/>
<line x1="511.1" y1="709.9" x2="511.1" y2="698.1" stroke="#000" stroke-width="2.5"/>
<line x1="414" y1="676.7" x2="425.8" y2="676.7" stroke="#000" stroke-width="2.5"/>
<line x1="452.9" y1="709.9" x2="452.9" y2="698.1" stroke="#000" stroke-width="2.5"/>
<line x1="414" y1="552.3" x2="419.8" y2="552.3" stroke="#000" stroke-width="2.5"/>
<line x1="598.6" y1="709.9" x2="598.6" y2="704.1" stroke="#000" stroke-width="2.5"/>
<line x1="414" y1="602.1" x2="419.8" y2="602.1" stroke="#000" stroke-width="2.5"/>
<line x1="540.3" y1="709.9" x2="540.3" y2="704.1" stroke="#000" stroke-width="2.5"/>
<line x1="414" y1="651.8" x2="419.8" y2="651.8" stroke="#000" stroke-width="2.5"/>
<line x1="482" y1="709.9" x2="482" y2="704.1" stroke="#000" stroke-width="2.5"/>
<line x1="414" y1="701.6" x2="419.8" y2="701.6" stroke="#000" stroke-width="2.5"/>
<line x1="423.7" y1="709.9" x2="423.7" y2="704.1" stroke="#000" stroke-width="2.5"/>
<rect x="414.00" y="544.00" width="194.30" height="165.90" fill="none" stroke="#000" stroke-width="2.1"/>
<text transform="translate(359.86,584.00) scale(1.0700,1)" font-size="19.80" fill="#000">0.15</text>
<text transform="translate(359.79,633.77) scale(1.0700,1)" font-size="19.80" fill="#000">0.00</text>
<text transform="translate(352.80,683.54) scale(1.0700,1)" font-size="19.80" fill="#000">-0.15</text>
<text transform="translate(428.69,738.62) scale(1.0700,1)" font-size="19.80" fill="#000">-0.15</text>
<text transform="translate(490.53,738.62) scale(1.0700,1)" font-size="19.80" fill="#000">0.00</text>
<text transform="translate(548.85,738.62) scale(1.0700,1)" font-size="19.80" fill="#000">0.15</text>
<text transform="translate(446.65,767.60)" font-size="23.70" fill="#000">Amp. [N] (V)</text>
<text transform="translate(339.22,708.15) rotate(-90) scale(0.9889,1)" font-size="23.90">Amp. [N+1]  (V)</text>
<path d="M177.8 833.3C181.3 833.4 187.8 834.3 193.2 835.1C198.5 835.9 205.6 836.8 209.7 838.1C213.9 839.3 215.4 840.7 218 842.8C220.6 844.9 222.5 848.5 225.1 850.5C227.7 852.5 231.2 853 233.4 854.6C235.5 856.3 236.5 858.4 238.1 860.5C239.7 862.7 241.3 865.7 242.8 867.6C244.4 869.6 245.8 870.4 247.6 872.4C249.3 874.3 251.9 876.9 253.5 879.5C255.1 882 256.2 884.8 257 887.8C257.9 890.7 258.8 894.1 258.8 897.2C258.8 900.4 257.7 903.9 257 906.7C256.3 909.4 255.2 910.8 254.7 913.8C254.2 916.7 254.7 922.1 254.1 924.4C253.5 926.8 253 927.2 251.1 928C249.3 928.8 245 928.2 242.8 929.2C240.7 930.1 240.3 932.7 238.1 933.9C235.9 935.1 232.8 935.8 229.8 936.3C226.9 936.7 223.3 937.1 220.4 936.8C217.4 936.6 215.4 935.3 212.1 934.5C208.7 933.7 203.8 933 200.3 932.1C196.7 931.2 193.4 930.2 190.8 929.2C188.2 928.1 187.4 927.4 184.9 925.6C182.3 923.8 178.2 920.5 175.4 918.5C172.6 916.5 171.1 915.4 168.3 913.8C165.6 912.2 161.6 910.4 158.8 909C156.1 907.7 153.5 907.1 151.7 905.5C150 903.9 149.1 901.8 148.2 899.6C147.3 897.4 147.6 894.7 146.4 892.5C145.2 890.3 142.5 888.7 141.1 886.6C139.7 884.4 138.7 882.2 138.1 879.5C137.6 876.7 137.3 872.6 137.6 870C137.8 867.4 138.9 865.9 139.9 864.1C140.9 862.3 142.7 861.3 143.5 859.4C144.3 857.4 143.7 854.2 144.6 852.3C145.6 850.3 147.6 848.9 149.4 847.5C151.2 846.1 153.7 845.4 155.3 844C156.9 842.6 157.1 840.5 158.8 839.2C160.6 838 163.8 837.1 165.9 836.3C168.1 835.5 169.9 835 171.9 834.5C173.8 834 174.2 833.2 177.8 833.3Z" fill="#000"/>
<path d="M176.7 830.5C180.6 831 187.6 832.8 193.1 834.1C198.5 835.4 205.5 837 209.6 838.6C213.7 840.2 215 841.6 217.6 843.6C220.1 845.7 222.2 848.9 224.9 850.7C227.6 852.5 231.5 852.7 233.8 854.2C236.1 855.8 237.3 857.9 238.7 860.2C240.2 862.4 241.5 865.6 242.6 867.7C243.8 869.8 244.5 870.8 245.8 872.8C247.1 874.9 249 877.3 250.4 879.8C251.7 882.3 252.9 884.8 254 887.6C255.2 890.5 256.8 893.7 257.4 896.9C258 900.1 257.7 903.9 257.4 906.8C257.2 909.7 256.2 911.3 255.7 914.3C255.2 917.3 255.4 922.5 254.5 924.7C253.6 926.9 252.6 926.9 250.5 927.5C248.4 928.1 244.1 927.3 242 928.4C240 929.5 240 932.3 238.1 933.9C236.3 935.5 233.7 937 230.9 938C228.2 939 224.8 940.1 221.8 940C218.8 940 216.6 938.7 213.1 937.7C209.5 936.7 204.1 935.5 200.4 934.1C196.7 932.8 193.3 931.2 190.7 929.7C188.1 928.3 187.5 927.3 184.9 925.5C182.4 923.6 178.2 920.4 175.4 918.5C172.6 916.6 170.8 915.7 167.9 914.2C165 912.7 160.8 911 158.1 909.5C155.4 908.1 153 907.3 151.7 905.5C150.3 903.8 150.2 901.3 149.9 899.1C149.6 896.8 150.6 894.1 149.8 892C149 889.9 146.6 888.5 145.2 886.5C143.7 884.4 142.2 882.5 141 879.8C139.8 877 138.4 872.8 138.1 870.1C137.7 867.5 138 865.5 138.7 863.6C139.4 861.7 141.2 860.6 142.1 858.7C143 856.8 142.9 853.8 144.2 852C145.5 850.1 147.8 849.1 149.7 847.8C151.6 846.5 154.1 845.7 155.4 844.1C156.8 842.5 156.5 840 158 838.2C159.5 836.5 162.2 834.8 164.3 833.6C166.3 832.4 168 831.6 170.1 831C172.2 830.5 172.9 830 176.7 830.5Z" fill="none" stroke="#000" stroke-width="1.0"/>
<path d="M177.3 831.9C180.9 832.2 187.7 833.3 193.1 834.3C198.5 835.3 205.6 836.4 209.8 837.8C213.9 839.2 215.4 840.7 218 842.9C220.5 845 222.5 848.6 225.1 850.5C227.7 852.5 231.3 852.8 233.6 854.4C235.9 856 237.1 858 238.8 860.1C240.6 862.2 242.4 865.2 244.1 867.1C245.8 869.1 247.3 869.9 249.2 872C251 874 253.6 876.7 255.1 879.3C256.7 881.9 257.6 884.8 258.3 887.8C259.1 890.8 259.8 894.2 259.6 897.4C259.5 900.6 258.3 904.1 257.6 906.9C256.8 909.6 255.7 911 255.2 914.1C254.8 917.1 255.4 922.5 254.9 925C254.4 927.4 254 927.9 252.1 928.8C250.3 929.6 246 929 243.7 930C241.5 931 241 933.5 238.7 934.6C236.4 935.7 233.1 936.2 230 936.6C227 937 223.3 937.2 220.4 936.8C217.4 936.5 215.4 935.2 212.1 934.4C208.7 933.7 203.8 933.1 200.3 932.4C196.7 931.6 193.3 930.9 190.7 929.9C188 929 187.2 928.6 184.5 926.9C181.8 925.2 177.4 921.9 174.5 919.9C171.6 917.9 169.9 916.7 167.1 915C164.2 913.3 160.2 911.4 157.5 909.9C154.7 908.4 152.3 907.7 150.7 906C149 904.3 148.4 902 147.7 899.7C146.9 897.5 147.4 894.7 146.3 892.5C145.2 890.3 142.5 888.7 141.1 886.6C139.8 884.4 138.7 882.2 138.1 879.5C137.4 876.7 137 872.5 137.3 869.9C137.5 867.3 138.5 865.7 139.4 863.9C140.4 862.1 142.1 861.1 142.9 859.1C143.7 857.1 143 853.9 144 851.9C145 849.8 146.9 848.4 148.6 846.9C150.4 845.5 152.9 844.6 154.4 843.1C156 841.6 156.1 839.4 157.8 838C159.6 836.6 162.7 835.6 165 834.7C167.2 833.9 169 833.3 171 832.9C173.1 832.4 173.6 831.7 177.3 831.9Z" fill="none" stroke="#000" stroke-width="1.0"/>
<path d="M177.2 831.8C180.9 832 187.7 833.2 193.1 834.3C198.5 835.3 205.6 836.6 209.7 838.1C213.8 839.7 215.2 841.3 217.7 843.5C220.1 845.7 222 849.3 224.6 851.2C227.1 853 230.8 853.3 233.1 854.9C235.4 856.4 236.7 858.2 238.5 860.3C240.3 862.4 242.2 865.3 243.9 867.2C245.6 869.2 247.1 870 248.8 872.1C250.5 874.1 252.8 876.8 254.2 879.4C255.6 882 256.3 884.8 256.9 887.7C257.6 890.7 258.3 894 258.3 897.1C258.3 900.3 257.4 903.8 256.9 906.6C256.4 909.5 255.6 911 255.3 914.1C255.1 917.2 255.9 922.9 255.5 925.4C255 927.9 254.6 928.4 252.6 929.2C250.7 930 246.2 929.2 243.8 930.1C241.4 930.9 240.8 933.3 238.5 934.3C236.1 935.3 232.8 935.8 229.8 936.2C226.8 936.7 223.3 937.1 220.4 936.8C217.4 936.6 215.5 935.5 212.2 934.8C208.9 934.2 203.9 933.7 200.3 932.9C196.7 932.1 193.3 931.2 190.7 930.1C188 929 187.2 928.2 184.6 926.4C182.1 924.5 177.9 921 175.1 918.9C172.4 916.9 170.9 915.6 168.1 914C165.4 912.3 161.4 910.6 158.7 909.2C155.9 907.8 153.3 907.2 151.5 905.6C149.8 904 148.9 901.8 148 899.6C147.1 897.5 147.5 894.7 146.4 892.5C145.2 890.3 142.5 888.7 141.2 886.6C139.8 884.4 138.9 882.2 138.3 879.5C137.7 876.7 137.3 872.6 137.5 870C137.7 867.4 138.6 865.8 139.5 863.9C140.4 862.1 142 861 142.8 859C143.5 857 142.9 853.8 143.9 851.8C144.9 849.8 146.9 848.4 148.7 847C150.6 845.6 153.2 844.9 154.8 843.4C156.3 842 156.5 839.9 158.2 838.5C159.9 837.1 163 836 165.2 835.1C167.3 834.1 169.1 833.5 171.1 832.9C173.1 832.4 173.5 831.6 177.2 831.8Z" fill="none" stroke="#000" stroke-width="1.0"/>
<path d="M177.1 831.5C180.7 831.5 187.5 832.3 193 833.1C198.5 833.9 205.9 834.9 210.2 836.4C214.4 837.8 216 839.5 218.5 841.8C221 844.1 222.8 848.1 225.3 850.2C227.8 852.4 231.2 853 233.3 854.7C235.5 856.4 236.5 858.3 238.3 860.4C240.1 862.5 242 865.3 244 867.2C245.9 869.1 247.9 869.8 250.1 871.7C252.3 873.7 255.4 876.4 257.2 879.1C259 881.8 260.1 884.8 260.9 887.9C261.7 891 262.1 894.6 261.7 897.8C261.3 901 259.6 904.5 258.4 907.2C257.3 909.9 255.7 911.1 255 914C254.4 916.9 254.9 922.2 254.4 924.6C253.9 927.1 253.7 927.7 252.1 928.7C250.4 929.7 246.4 929.4 244.4 930.7C242.4 931.9 242.2 934.8 240 936.1C237.8 937.4 234.4 938.1 231.3 938.6C228.2 939 224.3 939.2 221.2 938.7C218 938.2 215.9 936.6 212.5 935.7C209 934.8 204 934 200.3 933.1C196.7 932.2 193.3 931.2 190.6 930.2C188 929.1 187.2 928.6 184.5 926.8C181.9 925 177.5 921.6 174.7 919.6C171.9 917.5 170.3 916.2 167.5 914.5C164.8 912.9 160.9 910.9 158.2 909.5C155.5 908 153.1 907.3 151.4 905.7C149.7 904 148.8 901.9 147.9 899.7C146.9 897.5 147.1 894.8 145.7 892.6C144.3 890.4 141.1 888.8 139.4 886.6C137.7 884.4 136.3 882.1 135.5 879.2C134.6 876.3 134 871.9 134.2 869.1C134.4 866.4 135.5 864.7 136.6 862.9C137.7 861 139.7 860 140.7 858C141.7 856 141.3 852.8 142.5 850.9C143.8 849 146.1 847.8 148.1 846.5C150.1 845.2 152.9 844.6 154.6 843.3C156.3 842 156.6 840 158.4 838.7C160.2 837.4 163.3 836.5 165.5 835.6C167.6 834.7 169.3 834 171.3 833.3C173.2 832.6 173.5 831.6 177.1 831.5Z" fill="none" stroke="#000" stroke-width="1.0"/>
<path d="M177.8 833.5C181.3 833.4 187.8 834.1 193.1 834.8C198.5 835.4 205.7 836.1 209.9 837.3C214.1 838.5 215.8 839.8 218.5 841.8C221.1 843.9 223.2 847.6 225.8 849.6C228.4 851.6 232 852.2 234.3 853.9C236.5 855.6 237.5 857.7 239.1 859.9C240.7 862.2 242.4 865.2 244 867.2C245.6 869.2 247.1 870 248.9 872C250.7 874.1 253.2 876.7 254.7 879.3C256.2 882 257.1 884.8 257.7 887.8C258.4 890.8 259 894.1 258.8 897.2C258.5 900.3 257.2 903.7 256.4 906.5C255.6 909.2 254.4 910.5 254 913.4C253.5 916.4 254.2 921.8 253.8 924.3C253.4 926.7 253.3 927.4 251.6 928.4C250 929.4 245.9 929 243.9 930.2C241.8 931.3 241.5 934.1 239.4 935.4C237.2 936.6 233.9 937.3 230.8 937.8C227.8 938.3 224.1 938.6 221 938.2C217.9 937.9 215.9 936.4 212.4 935.6C209 934.7 203.9 934 200.3 933C196.7 932.1 193.3 931.1 190.7 929.9C188.1 928.8 187.3 928 184.7 926.2C182.1 924.3 178 920.8 175.3 918.7C172.5 916.7 171.1 915.4 168.4 913.7C165.7 912.1 161.8 910.3 159.1 908.9C156.4 907.5 153.8 906.9 152 905.4C150.1 903.9 149.1 901.8 148 899.6C147 897.5 147.1 894.8 145.7 892.6C144.3 890.4 141.3 888.8 139.8 886.6C138.3 884.4 137.2 882.1 136.5 879.3C135.9 876.5 135.6 872.2 135.9 869.6C136.3 867 137.4 865.4 138.5 863.6C139.6 861.8 141.4 860.8 142.3 858.8C143.1 856.8 142.5 853.6 143.5 851.6C144.6 849.6 146.7 848.2 148.5 846.9C150.4 845.5 153.1 844.8 154.8 843.5C156.5 842.2 156.8 840.3 158.7 839.1C160.6 837.9 163.9 837.2 166.1 836.5C168.3 835.8 170.1 835.4 172 834.9C174 834.3 174.3 833.5 177.8 833.5Z" fill="none" stroke="#000" stroke-width="1.0"/>
<path d="M178.2 834.6C181.7 834.7 188 835.6 193.3 836.3C198.5 837 205.4 837.8 209.5 839C213.6 840.1 215.2 841.3 217.8 843.1C220.5 845 222.6 848.4 225.4 850.1C228.1 851.9 232 852.1 234.5 853.7C237 855.2 238.3 857.1 240.1 859.3C242 861.5 243.8 864.5 245.5 866.6C247.1 868.7 248.5 869.6 250.2 871.7C251.9 873.8 254.2 876.6 255.5 879.3C256.8 881.9 257.4 884.8 258 887.8C258.6 890.8 259.1 894.1 258.8 897.2C258.6 900.3 257.4 903.8 256.5 906.5C255.7 909.2 254.5 910.6 254 913.4C253.4 916.3 253.9 921.6 253.3 923.9C252.6 926.2 252 926.5 250.2 927.2C248.3 927.9 244 927.3 241.9 928.3C239.8 929.3 239.5 931.8 237.4 933.1C235.4 934.3 232.4 935.2 229.6 935.9C226.8 936.7 223.5 937.4 220.6 937.4C217.7 937.4 215.9 936.4 212.5 935.8C209.1 935.2 204 934.6 200.4 933.8C196.7 932.9 193.2 931.9 190.6 930.7C187.9 929.5 187.1 928.6 184.5 926.7C181.9 924.8 177.8 921.2 175 919.1C172.3 917 170.8 915.7 168 914.1C165.3 912.4 161.4 910.6 158.6 909.2C155.9 907.8 153.4 907.1 151.7 905.5C149.9 903.9 149.2 901.7 148.4 899.5C147.6 897.4 148 894.6 146.9 892.4C145.7 890.3 143.1 888.7 141.7 886.6C140.3 884.4 139.2 882.3 138.4 879.5C137.6 876.7 137 872.5 137 869.9C137 867.2 137.6 865.4 138.4 863.5C139.1 861.6 140.6 860.4 141.3 858.3C142 856.2 141.3 852.9 142.4 850.9C143.5 848.9 145.8 847.6 147.8 846.3C149.9 845.1 152.8 844.5 154.7 843.4C156.5 842.2 157 840.4 159 839.4C160.9 838.3 164.2 837.7 166.4 837.1C168.7 836.4 170.5 836.1 172.4 835.6C174.4 835.2 174.8 834.5 178.2 834.6Z" fill="none" stroke="#000" stroke-width="1.0"/>
<path d="M176.6 830.1C180.3 830 187.2 830.8 192.9 831.7C198.5 832.5 206.1 833.7 210.4 835.3C214.8 836.9 216.3 838.8 218.8 841.2C221.3 843.7 223 847.8 225.5 850C227.9 852.3 231.2 852.9 233.3 854.7C235.4 856.5 236.3 858.5 237.9 860.7C239.5 862.8 241.3 865.7 243.1 867.6C244.8 869.5 246.5 870.2 248.6 872.1C250.7 874.1 253.7 876.6 255.5 879.3C257.4 881.9 258.7 884.8 259.7 887.9C260.8 890.9 261.7 894.5 261.7 897.8C261.7 901.1 260.5 904.8 259.7 907.6C258.8 910.5 257.5 911.8 256.8 914.9C256.2 917.9 256.6 923.3 255.9 925.7C255.2 928.1 254.6 928.4 252.6 929.2C250.6 929.9 246.2 929.3 243.9 930.2C241.6 931.1 241.2 933.7 238.9 934.8C236.6 935.9 233.3 936.5 230.2 936.9C227.2 937.3 223.5 937.5 220.5 937.1C217.4 936.7 215.4 935.2 212 934.4C208.7 933.5 203.8 932.8 200.2 931.9C196.7 931 193.4 930.2 190.8 929.2C188.2 928.3 187.4 927.9 184.7 926.3C181.9 924.8 177.5 921.6 174.5 919.9C171.5 918.1 169.6 917 166.5 915.5C163.4 914 159 912.2 156 910.8C153 909.4 150.2 908.7 148.5 907C146.7 905.2 146.1 902.8 145.4 900.4C144.8 898 145.5 895 144.7 892.7C143.8 890.4 141.4 888.8 140.3 886.6C139.1 884.4 138.4 882.2 137.8 879.4C137.3 876.7 137 872.5 137.2 869.9C137.4 867.3 138.3 865.7 139.2 863.8C140.1 862 141.8 860.9 142.6 858.9C143.4 856.9 142.9 853.7 143.9 851.8C145 849.9 147.2 848.6 149.1 847.3C151 846 153.7 845.3 155.2 843.9C156.8 842.5 157 840.4 158.6 839C160.3 837.6 163.3 836.4 165.3 835.3C167.3 834.1 168.9 833.2 170.8 832.3C172.6 831.4 172.9 830.2 176.6 830.1Z" fill="none" stroke="#000" stroke-width="1.0"/>
<path d="M177.2 831.8C180.9 832.2 187.7 833.5 193.1 834.5C198.5 835.5 205.6 836.5 209.8 837.8C214 839.1 215.6 840.3 218.2 842.3C220.9 844.3 223 847.8 225.7 849.7C228.4 851.6 232.2 852 234.5 853.7C236.7 855.4 237.7 857.6 239.3 859.8C240.8 862.1 242.3 865.2 243.8 867.3C245.3 869.3 246.5 870.2 248.2 872.2C249.9 874.2 252.4 876.8 254.1 879.4C255.7 882 257 884.8 258.1 887.8C259.3 890.8 260.6 894.3 260.9 897.6C261.2 900.9 260.4 904.7 259.9 907.7C259.4 910.7 258.3 912.2 257.9 915.3C257.4 918.5 257.8 924.1 257.1 926.5C256.4 928.9 255.6 929.1 253.4 929.8C251.3 930.4 246.6 929.6 244.1 930.4C241.7 931.2 241.1 933.6 238.7 934.6C236.4 935.6 233 936.1 230 936.5C226.9 936.9 223.3 937.1 220.3 936.8C217.4 936.5 215.4 935.2 212.1 934.5C208.7 933.8 203.8 933.2 200.3 932.5C196.7 931.7 193.3 931 190.7 930C188 929.1 187.2 928.7 184.4 927C181.7 925.3 177.3 922 174.4 920C171.5 918.1 169.7 916.9 166.8 915.2C163.9 913.6 159.8 911.7 157 910.2C154.1 908.7 151.6 908 149.8 906.3C148.1 904.7 147.3 902.3 146.5 900.1C145.7 897.8 146.1 894.9 145 892.7C143.8 890.4 141.1 888.8 139.7 886.6C138.4 884.4 137.5 882.2 137 879.4C136.6 876.6 136.5 872.4 136.9 869.8C137.4 867.3 138.7 865.8 139.8 864C140.9 862.3 142.8 861.4 143.5 859.4C144.3 857.4 143.6 854.2 144.4 852.1C145.2 850 146.8 848.3 148.3 846.7C149.8 845 152.1 843.9 153.5 842.2C154.8 840.5 154.8 838 156.5 836.5C158.3 835 161.6 834 164 833.2C166.3 832.5 168.4 832.2 170.6 832C172.8 831.7 173.4 831.4 177.2 831.8Z" fill="none" stroke="#000" stroke-width="1.0"/>
<line x1="102.9" y1="834.5" x2="114.7" y2="834.5" stroke="#000" stroke-width="2.5"/>
<line x1="258.4" y1="967" x2="258.4" y2="955.2" stroke="#000" stroke-width="2.5"/>
<line x1="102.9" y1="884.2" x2="114.7" y2="884.2" stroke="#000" stroke-width="2.5"/>
<line x1="200.1" y1="967" x2="200.1" y2="955.2" stroke="#000" stroke-width="2.5"/>
<line x1="102.9" y1="933.9" x2="114.7" y2="933.9" stroke="#000" stroke-width="2.5"/>
<line x1="141.8" y1="967" x2="141.8" y2="955.2" stroke="#000" stroke-width="2.5"/>
<line x1="102.9" y1="809.7" x2="108.7" y2="809.7" stroke="#000" stroke-width="2.5"/>
<line x1="287.6" y1="967" x2="287.6" y2="961.2" stroke="#000" stroke-width="2.5"/>
<line x1="102.9" y1="859.4" x2="108.7" y2="859.4" stroke="#000" stroke-width="2.5"/>
<line x1="229.3" y1="967" x2="229.3" y2="961.2" stroke="#000" stroke-width="2.5"/>
<line x1="102.9" y1="909" x2="108.7" y2="909" stroke="#000" stroke-width="2.5"/>
<line x1="170.9" y1="967" x2="170.9" y2="961.2" stroke="#000" stroke-width="2.5"/>
<line x1="102.9" y1="958.7" x2="108.7" y2="958.7" stroke="#000" stroke-width="2.5"/>
<line x1="112.6" y1="967" x2="112.6" y2="961.2" stroke="#000" stroke-width="2.5"/>
<rect x="102.90" y="801.40" width="194.40" height="165.60" fill="none" stroke="#000" stroke-width="2.1"/>
<text transform="translate(48.76,841.34) scale(1.0700,1)" font-size="19.80" fill="#000">0.15</text>
<text transform="translate(48.69,891.02) scale(1.0700,1)" font-size="19.80" fill="#000">0.00</text>
<text transform="translate(41.70,940.70) scale(1.0700,1)" font-size="19.80" fill="#000">-0.15</text>
<text transform="translate(117.61,995.72) scale(1.0700,1)" font-size="19.80" fill="#000">-0.15</text>
<text transform="translate(179.48,995.72) scale(1.0700,1)" font-size="19.80" fill="#000">0.00</text>
<text transform="translate(237.83,995.72) scale(1.0700,1)" font-size="19.80" fill="#000">0.15</text>
<text transform="translate(135.55,1024.70)" font-size="23.70" fill="#000">Amp. [N] (V)</text>
<text transform="translate(28.12,965.25) rotate(-90) scale(0.9870,1)" font-size="23.90">Amp. [N+1]  (V)</text>
<path d="M479.5 829.9C484.5 829.6 492.2 828.8 497.9 829.3C503.6 829.7 508.5 830.7 513.8 832.6C519 834.5 525 838.1 529.6 840.5C534.2 842.9 538 844.9 541.5 847.1C545 849.3 547.9 851.1 550.7 853.7C553.6 856.3 556.2 859.9 558.6 862.9C561.1 866 563 869.1 565.2 872.2C567.4 875.3 570.1 878.3 571.8 881.4C573.6 884.5 575.4 887.1 575.8 890.7C576.2 894.2 575.4 899 574.5 902.5C573.6 906.1 571.8 908.5 570.5 911.8C569.2 915.1 568.5 919.3 566.6 922.3C564.6 925.4 561.7 927.8 558.6 930.3C555.6 932.7 551.6 935 548.1 936.9C544.6 938.7 541.5 940.9 537.5 941.5C533.6 942 528.7 940.9 524.3 940.2C519.9 939.4 515.5 938.3 511.1 936.9C506.7 935.4 501.9 933.6 497.9 931.6C494 929.6 490.7 927 487.4 925C484.1 923 480.8 921.7 478.1 919.7C475.5 917.7 474.2 915.5 471.5 913.1C468.9 910.7 464.7 907.8 462.3 905.2C459.9 902.5 458.8 899.7 457 897.3C455.3 894.8 453.5 893.1 451.7 890.7C450 888.2 447.7 885.8 446.5 882.7C445.2 879.7 444.9 875.9 444.5 872.2C444 868.4 443.5 864 443.8 860.3C444.1 856.6 445.1 852.6 446.5 849.7C447.8 846.9 449.5 845.3 451.7 843.1C453.9 840.9 457 838.5 459.7 836.5C462.3 834.6 464.3 832.4 467.6 831.3C470.9 830.2 474.4 830.3 479.5 829.9Z" fill="#000"/>
<path d="M478.3 827.7C483.6 827.4 491.6 826.6 497.5 827C503.5 827.4 508.5 828.4 514 830.4C519.5 832.3 525.7 836.1 530.5 838.6C535.4 841.1 539.2 843.2 542.9 845.5C546.6 847.8 549.7 849.5 552.7 852.2C555.8 855 558.7 858.6 561.4 861.8C564 864.9 566.3 868.2 568.7 871.4C571.1 874.7 573.9 878 575.6 881.2C577.4 884.5 579.1 887.3 579.4 891C579.7 894.6 578.6 899.7 577.5 903.3C576.5 907 574.6 909.5 573.2 912.9C571.8 916.3 571.1 920.7 569.1 923.9C567 927.1 564.1 929.7 560.9 932.3C557.7 934.8 553.6 937.3 550 939.3C546.3 941.3 543.2 943.7 539 944.3C534.9 945 529.9 943.9 525.3 943.2C520.6 942.5 516 941.4 511.3 939.9C506.7 938.4 501.5 936.4 497.4 934.3C493.2 932.1 489.8 929.2 486.3 927C482.9 924.9 479.5 923.4 476.8 921.2C474.1 919.1 472.8 916.8 470.1 914.2C467.3 911.7 463 908.7 460.5 906C457.9 903.2 456.8 900.3 454.9 897.8C453.1 895.2 451.3 893.4 449.4 890.9C447.6 888.4 445.2 885.9 443.8 882.6C442.5 879.4 442 875.5 441.3 871.5C440.7 867.6 439.9 862.9 440 858.8C440.2 854.8 441.1 850.5 442.4 847.4C443.8 844.4 445.7 842.7 448.2 840.5C450.6 838.2 454.1 835.8 457 833.9C460 832 462.2 829.9 465.8 828.8C469.3 827.8 473 828 478.3 827.7Z" fill="none" stroke="#000" stroke-width="1.0"/>
<path d="M478.7 828.6C484 828.4 492 828.1 497.8 828.7C503.7 829.3 508.4 830.4 513.8 832.3C519.2 834.1 525.2 837.4 530.1 839.6C534.9 841.8 539.1 843.4 543 845.4C546.9 847.4 550.3 849 553.4 851.7C556.6 854.4 559.5 858.2 561.9 861.5C564.4 864.8 566.3 868.2 568.2 871.5C570.2 874.8 572.5 878.1 573.9 881.3C575.2 884.5 576.4 887.2 576.4 890.7C576.4 894.2 575 898.9 573.9 902.4C572.8 905.9 571 908.1 569.8 911.5C568.7 914.9 568.6 919.2 567.1 922.7C565.6 926.1 563.6 929.3 560.9 932.3C558.3 935.3 554.7 938.5 551.2 940.8C547.7 943.1 544.2 945.6 539.9 946C535.6 946.4 530 944.4 525.2 943C520.4 941.6 515.7 939.5 511.2 937.5C506.6 935.5 502 933.1 498.1 931C494.1 928.8 491 926.4 487.6 924.5C484.2 922.7 480.7 921.8 477.9 920C475 918.3 473.3 916.3 470.4 914C467.5 911.6 463 908.7 460.3 906.1C457.6 903.4 456.4 900.4 454.4 897.9C452.5 895.4 450.5 893.5 448.7 891C446.8 888.4 444.3 885.8 443.2 882.6C442.1 879.4 442.1 875.5 441.9 871.7C441.8 867.8 441.7 863.5 442.4 859.7C443 856 444.4 852.2 445.8 849.4C447.2 846.5 448.8 844.9 450.9 842.5C453 840.2 455.8 837.4 458.3 835.2C460.9 833 462.8 830.5 466.2 829.4C469.6 828.3 473.5 828.7 478.7 828.6Z" fill="none" stroke="#000" stroke-width="1.0"/>
<path d="M478.6 828.3C483.4 827.1 491.2 825.1 497.2 825C503.1 824.9 508.7 825.5 514.4 827.5C520.1 829.5 526.6 834 531.3 837C536.1 840 539.6 842.7 543 845.4C546.4 848.1 548.8 850.2 551.6 853.1C554.3 856 556.9 859.5 559.4 862.6C562 865.7 564.3 868.8 566.6 871.9C569 875 571.9 878.2 573.7 881.3C575.4 884.5 577 887.2 577.3 890.8C577.7 894.4 576.5 899.2 575.6 902.8C574.8 906.5 573.2 908.9 572.2 912.5C571.2 916 571.2 920.7 569.6 924.2C567.9 927.8 565.5 930.9 562.5 933.6C559.4 936.4 555.2 939.1 551.3 940.9C547.4 942.8 543.7 944.6 539.2 944.7C534.8 944.8 529.4 942.7 524.7 941.4C520 940.1 515.6 938.4 511.1 936.8C506.7 935.2 502 933.4 497.9 931.6C493.9 929.8 490.4 927.6 486.9 925.9C483.4 924.2 479.6 923.3 476.7 921.4C473.8 919.5 472.2 917.3 469.4 914.8C466.6 912.2 462.4 909 460 906.2C457.7 903.3 457 900.2 455.3 897.7C453.7 895.1 452 893.3 450.1 890.8C448.2 888.3 445.4 885.9 443.8 882.6C442.2 879.4 441.1 875.4 440.4 871.3C439.7 867.3 438.8 862.5 439.4 858.6C440 854.7 441.7 850.8 443.7 848.2C445.7 845.6 448.7 844.7 451.5 843C454.3 841.2 458 839.5 460.7 837.6C463.5 835.8 465.1 833.5 468.1 831.9C471.1 830.4 473.7 829.4 478.6 828.3Z" fill="none" stroke="#000" stroke-width="1.0"/>
<path d="M479.5 830C484.6 829.8 492.2 829.1 497.9 829.4C503.7 829.6 508.4 830 513.9 831.5C519.4 833 525.8 836 530.7 838.2C535.7 840.4 540 842.3 543.8 844.5C547.5 846.8 550.5 848.9 553.3 851.9C556.1 854.8 558.3 858.8 560.5 862.1C562.8 865.5 564.5 868.7 566.7 871.9C568.9 875.1 571.8 878.1 573.8 881.3C575.8 884.5 578.1 887.2 578.6 890.9C579.2 894.5 578.2 899.6 577.1 903.2C576 906.8 573.7 909.2 572 912.4C570.4 915.7 569.3 919.6 567.2 922.7C565.1 925.8 562.3 928.3 559.4 930.9C556.4 933.6 552.9 936.4 549.5 938.6C546.1 940.8 543.1 943.6 539 944.3C535 945 529.8 943.8 525.1 942.9C520.5 941.9 515.8 940.4 511.3 938.8C506.7 937.1 501.7 935 497.6 933C493.5 930.9 490.1 928.3 486.7 926.4C483.2 924.4 479.6 923.2 476.8 921.2C474 919.2 472.6 916.9 469.9 914.3C467.3 911.8 463.1 908.6 460.8 905.8C458.5 903 457.7 900 456.1 897.5C454.4 895 452.8 893.2 450.9 890.7C449.1 888.3 446.5 885.9 445 882.7C443.6 879.5 442.8 875.6 442.1 871.7C441.4 867.8 440.5 863.1 440.7 859.1C440.8 855.1 441.7 850.8 443 847.8C444.4 844.7 446.2 843.1 448.7 840.8C451.1 838.6 454.6 836.3 457.6 834.5C460.6 832.7 463.1 831 466.8 830.2C470.4 829.4 474.3 830.1 479.5 830Z" fill="none" stroke="#000" stroke-width="1.0"/>
<path d="M478.9 828.8C484.1 828.6 492 827.9 497.8 828.4C503.6 829 508.5 830 513.8 832C519.2 833.9 525.2 837.6 529.8 840C534.5 842.5 538.3 844.5 541.9 846.6C545.5 848.8 548.5 850.5 551.6 853.1C554.6 855.7 557.6 859.2 560.2 862.3C562.9 865.3 565.2 868.5 567.6 871.7C570 874.8 572.8 878.1 574.6 881.3C576.4 884.5 578.1 887.2 578.4 890.9C578.8 894.5 577.8 899.5 576.8 903.2C575.9 906.8 574.1 909.3 572.7 912.7C571.3 916.1 570.7 920.5 568.5 923.6C566.4 926.7 563.2 929 559.9 931.3C556.5 933.6 552.2 935.6 548.4 937.3C544.7 939 541.5 940.9 537.5 941.4C533.5 941.9 528.8 940.9 524.4 940.3C520 939.7 515.7 939 511.2 937.8C506.7 936.6 501.7 935 497.6 933.1C493.5 931.2 490.1 928.4 486.7 926.3C483.3 924.2 480 922.7 477.4 920.6C474.7 918.5 473.5 916.2 470.8 913.7C468.1 911.2 463.7 908.4 461.1 905.7C458.5 903 457.1 900.2 455.1 897.7C453.2 895.2 451.2 893.4 449.5 890.9C447.7 888.4 445.5 885.8 444.4 882.7C443.4 879.5 443.4 875.7 443.1 871.9C442.8 868.1 442.4 863.7 442.8 859.9C443.1 856.1 443.9 852 445.1 849C446.3 846 447.9 844.2 450.1 841.9C452.2 839.5 455.3 837 458.1 834.9C460.8 832.9 463 830.8 466.4 829.7C469.9 828.7 473.6 829 478.9 828.8Z" fill="none" stroke="#000" stroke-width="1.0"/>
<path d="M479.2 829.5C484.3 829 492 828.1 497.8 828.4C503.6 828.6 508.5 829.2 514 830.9C519.5 832.5 525.8 835.8 530.8 838.2C535.7 840.5 539.8 842.6 543.4 844.9C547 847.3 549.8 849.5 552.4 852.5C554.9 855.5 556.9 859.5 559 862.8C561 866.1 562.5 869.2 564.6 872.3C566.7 875.4 569.5 878.4 571.6 881.4C573.7 884.5 576.3 887.2 577.1 890.8C577.9 894.4 577.4 899.5 576.6 903.1C575.7 906.7 573.6 909.1 572 912.4C570.4 915.7 569.3 919.7 567.2 922.8C565.2 925.9 562.4 928.3 559.5 931C556.5 933.7 553 936.6 549.6 938.8C546.3 941.1 543.3 943.9 539.2 944.6C535.1 945.2 529.7 943.8 525.1 942.6C520.4 941.5 515.7 939.6 511.2 937.7C506.7 935.8 501.9 933.4 498 931.2C494.1 929.1 490.9 926.6 487.5 924.7C484.1 922.9 480.6 921.9 477.8 920.1C475 918.3 473.4 916.2 470.6 913.8C467.8 911.4 463.6 908.4 461.1 905.7C458.7 903 457.8 900 456 897.5C454.2 895 452.3 893.3 450.4 890.8C448.4 888.3 445.7 885.9 444.2 882.7C442.7 879.5 442.1 875.5 441.7 871.6C441.2 867.7 440.9 863.2 441.5 859.4C442.1 855.7 443.7 851.8 445.4 849.1C447 846.4 449.2 845.1 451.5 843C453.9 840.9 457 838.5 459.6 836.5C462.3 834.5 464.2 832.2 467.4 831.1C470.7 829.9 474.2 829.9 479.2 829.5Z" fill="none" stroke="#000" stroke-width="1.0"/>
<path d="M479.1 829.3C484.4 829.3 492.1 828.9 497.9 829.1C503.7 829.4 508.4 829.6 514 830.9C519.5 832.2 526.2 834.9 531.4 837C536.5 839 541.1 840.9 545 843.2C548.8 845.6 551.6 848 554.3 851.1C556.9 854.3 558.7 858.6 560.7 862C562.7 865.5 564.1 868.8 566.2 872C568.3 875.2 571.2 878.2 573.2 881.3C575.3 884.5 577.7 887.2 578.3 890.9C578.9 894.5 578 899.6 577 903.2C576 906.8 573.7 909.1 572.3 912.5C570.9 915.9 570.3 920.2 568.4 923.5C566.6 926.9 564.3 929.9 561.5 932.8C558.6 935.7 554.9 938.7 551.2 940.9C547.6 943 544.1 945.3 539.8 945.7C535.4 946 529.9 944.1 525.1 942.8C520.4 941.6 515.8 940 511.2 938.4C506.6 936.9 501.7 935.3 497.5 933.4C493.4 931.6 489.7 929.4 486.1 927.5C482.5 925.6 478.8 924.3 476.1 922.1C473.4 919.9 472.4 917.1 470 914.3C467.6 911.5 464 908.2 461.8 905.4C459.5 902.6 458.6 899.8 456.7 897.3C454.7 894.9 452.2 893.3 449.9 890.8C447.5 888.4 444.2 885.9 442.6 882.6C441 879.3 440.5 875.2 440.1 871.3C439.7 867.3 439.6 862.8 440.1 858.9C440.7 855 442 851 443.4 848C444.8 845 446.4 843.2 448.6 840.8C450.8 838.4 453.9 835.6 456.8 833.6C459.7 831.7 462.1 829.7 465.9 829C469.6 828.2 473.8 829.2 479.1 829.3Z" fill="none" stroke="#000" stroke-width="1.0"/>
<path d="M478.3 827.7C483.5 827.1 491.3 825.7 497.3 825.8C503.3 825.8 508.6 826.2 514.3 828C520 829.8 526.7 833.6 531.6 836.4C536.5 839.2 540.4 841.8 543.8 844.5C547.2 847.3 549.5 849.7 552 852.8C554.5 855.8 556.7 859.6 558.9 862.8C561.2 866 563.2 869 565.6 872.1C567.9 875.2 571 878.2 573 881.4C575 884.5 577 887.2 577.6 890.8C578.1 894.4 577.1 899.4 576.2 903C575.4 906.6 573.5 909.1 572.3 912.5C571 916 570.6 920.4 568.7 923.7C566.9 927 564.2 929.8 561.2 932.5C558.1 935.1 554 937.7 550.3 939.7C546.7 941.8 543.4 944 539.2 944.6C535 945.2 529.9 944 525.2 943.2C520.6 942.4 516 941.3 511.3 939.7C506.7 938.2 501.5 936.2 497.4 933.9C493.3 931.7 490 928.6 486.7 926.3C483.4 924 480.4 922.3 477.8 920.1C475.2 917.9 474.1 915.7 471.2 913.3C468.4 910.9 463.8 908.4 460.9 905.8C457.9 903.3 455.9 900.5 453.7 898.1C451.4 895.6 449 893.7 447.1 891.1C445.3 888.5 443.2 885.8 442.5 882.6C441.8 879.4 442.5 875.5 442.7 871.8C443 868.1 443.1 864 443.8 860.3C444.4 856.6 445.2 852.7 446.4 849.7C447.6 846.7 448.8 844.9 450.8 842.5C452.8 840 455.7 837.3 458.3 835.2C460.9 833 462.9 830.8 466.3 829.5C469.6 828.3 473.1 828.3 478.3 827.7Z" fill="none" stroke="#000" stroke-width="1.0"/>
<path d="M478.4 827.9C483.5 827.3 491.6 826.4 497.5 826.8C503.4 827.3 508.6 828.5 514 830.5C519.5 832.6 525.5 836.6 530.2 839.3C534.8 842 538.5 844.2 541.9 846.6C545.3 849.1 547.9 851 550.6 853.8C553.3 856.6 555.6 860.2 557.9 863.3C560.2 866.4 562 869.4 564.2 872.4C566.5 875.4 569.3 878.4 571.4 881.4C573.5 884.5 575.9 887.1 576.9 890.8C577.9 894.4 577.8 899.5 577.2 903.3C576.7 907 575.2 909.7 573.8 913.2C572.4 916.6 571.4 920.9 569 923.9C566.6 926.8 562.9 928.8 559.4 930.9C555.8 933 551.4 934.7 547.7 936.3C543.9 937.9 540.9 939.9 537 940.4C533.1 941 528.5 940.2 524.2 939.7C519.9 939.2 515.6 938.6 511.2 937.4C506.7 936.2 501.8 934.5 497.7 932.6C493.7 930.7 490.2 928 486.9 925.9C483.6 923.8 480.3 922.4 477.6 920.3C475 918.2 473.7 915.9 471.1 913.5C468.4 911 464.1 908.2 461.6 905.5C459 902.9 457.7 900 455.8 897.6C453.8 895.1 451.8 893.3 450 890.8C448.2 888.4 445.8 885.8 444.7 882.7C443.7 879.5 443.7 875.7 443.5 872C443.4 868.3 443.4 864 444.1 860.4C444.7 856.8 446.1 853.1 447.5 850.4C449 847.6 450.7 846.2 452.7 843.9C454.8 841.6 457.5 839 459.8 836.7C462.2 834.4 463.7 831.7 466.8 830.3C469.9 828.8 473.3 828.5 478.4 827.9Z" fill="none" stroke="#000" stroke-width="1.0"/>
<path d="M478 827.2C483.3 826.8 491.5 826.3 497.5 826.9C503.5 827.6 508.5 828.9 514 831C519.4 833.1 525.4 836.9 530.2 839.4C534.9 841.9 538.8 843.8 542.5 846C546.2 848.2 549.3 849.9 552.3 852.5C555.4 855.2 558.2 858.8 560.8 862C563.4 865.2 565.6 868.4 568 871.6C570.4 874.8 573.4 878 575.4 881.2C577.3 884.5 579.3 887.3 579.8 891C580.2 894.7 579.1 899.8 578 903.4C576.8 907.1 574.5 909.5 572.9 912.8C571.2 916.1 570.2 920.1 568 923.2C565.8 926.3 562.8 928.7 559.7 931.2C556.6 933.7 552.8 936.3 549.3 938.4C545.8 940.5 542.8 943 538.7 943.7C534.7 944.4 529.6 943.4 525.1 942.5C520.5 941.7 515.8 940.5 511.3 938.9C506.7 937.3 501.7 935.3 497.6 933.2C493.5 931.1 490.1 928.3 486.7 926.3C483.3 924.2 479.9 922.9 477.2 920.8C474.5 918.8 473.1 916.5 470.4 914C467.7 911.5 463.4 908.5 460.8 905.8C458.2 903.1 456.9 900.3 454.8 897.8C452.8 895.3 450.5 893.5 448.4 891C446.3 888.5 443.5 885.8 442.2 882.6C440.9 879.3 440.7 875.3 440.6 871.4C440.4 867.5 440.6 863.1 441.4 859.4C442.2 855.7 443.9 852 445.5 849.2C447.1 846.4 449 845 451.1 842.7C453.3 840.4 456 837.6 458.4 835.3C460.9 833 462.5 830.2 465.8 828.9C469.1 827.5 472.7 827.5 478 827.2Z" fill="none" stroke="#000" stroke-width="1.0"/>
<line x1="414" y1="834.5" x2="425.8" y2="834.5" stroke="#000" stroke-width="2.5"/>
<line x1="569.4" y1="967" x2="569.4" y2="955.2" stroke="#000" stroke-width="2.5"/>
<line x1="414" y1="884.2" x2="425.8" y2="884.2" stroke="#000" stroke-width="2.5"/>
<line x1="511.1" y1="967" x2="511.1" y2="955.2" stroke="#000" stroke-width="2.5"/>
<line x1="414" y1="933.9" x2="425.8" y2="933.9" stroke="#000" stroke-width="2.5"/>
<line x1="452.9" y1="967" x2="452.9" y2="955.2" stroke="#000" stroke-width="2.5"/>
<line x1="414" y1="809.7" x2="419.8" y2="809.7" stroke="#000" stroke-width="2.5"/>
<line x1="598.6" y1="967" x2="598.6" y2="961.2" stroke="#000" stroke-width="2.5"/>
<line x1="414" y1="859.4" x2="419.8" y2="859.4" stroke="#000" stroke-width="2.5"/>
<line x1="540.3" y1="967" x2="540.3" y2="961.2" stroke="#000" stroke-width="2.5"/>
<line x1="414" y1="909" x2="419.8" y2="909" stroke="#000" stroke-width="2.5"/>
<line x1="482" y1="967" x2="482" y2="961.2" stroke="#000" stroke-width="2.5"/>
<line x1="414" y1="958.7" x2="419.8" y2="958.7" stroke="#000" stroke-width="2.5"/>
<line x1="423.7" y1="967" x2="423.7" y2="961.2" stroke="#000" stroke-width="2.5"/>
<rect x="414.00" y="801.40" width="194.30" height="165.60" fill="none" stroke="#000" stroke-width="2.1"/>
<text transform="translate(359.86,841.34) scale(1.0700,1)" font-size="19.80" fill="#000">0.15</text>
<text transform="translate(359.79,891.02) scale(1.0700,1)" font-size="19.80" fill="#000">0.00</text>
<text transform="translate(352.80,940.70) scale(1.0700,1)" font-size="19.80" fill="#000">-0.15</text>
<text transform="translate(428.69,995.72) scale(1.0700,1)" font-size="19.80" fill="#000">-0.15</text>
<text transform="translate(490.53,995.72) scale(1.0700,1)" font-size="19.80" fill="#000">0.00</text>
<text transform="translate(548.85,995.72) scale(1.0700,1)" font-size="19.80" fill="#000">0.15</text>
<text transform="translate(446.65,1024.70)" font-size="23.70" fill="#000">Amp. [N] (V)</text>
<text transform="translate(339.22,965.25) rotate(-90) scale(0.9870,1)" font-size="23.90">Amp. [N+1]  (V)</text>
<text transform="translate(18.56,518.70)" font-size="26.50" font-weight="bold" fill="#000">c</text>
</g>
<g id="pd">
<defs><radialGradient id="hl" cx="0.38" cy="0.3" r="0.6"><stop offset="0" stop-color="#fff" stop-opacity="0.55"/><stop offset="0.5" stop-color="#fff" stop-opacity="0"/></radialGradient></defs>
<rect x="980.4" y="544.0" width="94.2" height="165.8" fill="#d5ebe5"/>
<rect x="1074.6" y="544.0" width="171.4" height="166.7" fill="#f2e3e4"/>
<line x1="740.2" y1="542.8" x2="1245.8" y2="542.8" stroke="#000" stroke-width="2.3"/>
<line x1="740.2" y1="541.7" x2="740.2" y2="714.8" stroke="#000" stroke-width="2.3"/>
<line x1="739.1" y1="713.7" x2="1245.8" y2="713.7" stroke="#000" stroke-width="2.3"/>
<line x1="1244.6" y1="544" x2="1244.6" y2="710.7" stroke="#4b3636" stroke-width="2.3"/>
<line x1="1244.6" y1="710.7" x2="1244.6" y2="713.7" stroke="#000" stroke-width="2.3"/>
<line x1="740.2" y1="699.4" x2="752" y2="699.4" stroke="#000" stroke-width="2.5"/>
<text transform="translate(699.78,706.22) scale(1.0700,1)" font-size="19.80" fill="#000">0.0</text>
<line x1="740.2" y1="656.7" x2="752" y2="656.7" stroke="#000" stroke-width="2.5"/>
<text transform="translate(699.88,663.53) scale(1.0700,1)" font-size="19.80" fill="#000">0.3</text>
<line x1="740.2" y1="614" x2="752" y2="614" stroke="#000" stroke-width="2.5"/>
<text transform="translate(699.88,620.84) scale(1.0700,1)" font-size="19.80" fill="#000">0.6</text>
<line x1="740.2" y1="571.3" x2="752" y2="571.3" stroke="#000" stroke-width="2.5"/>
<text transform="translate(699.95,578.15) scale(1.0700,1)" font-size="19.80" fill="#000">0.9</text>
<line x1="740.2" y1="678.1" x2="746" y2="678.1" stroke="#000" stroke-width="2.5"/>
<line x1="740.2" y1="635.4" x2="746" y2="635.4" stroke="#000" stroke-width="2.5"/>
<line x1="740.2" y1="592.7" x2="746" y2="592.7" stroke="#000" stroke-width="2.5"/>
<line x1="740.2" y1="550" x2="746" y2="550" stroke="#000" stroke-width="2.5"/>
<line x1="908.3" y1="712.7" x2="908.3" y2="701.9" stroke="#000" stroke-width="2.5"/>
<line x1="1076.5" y1="712.7" x2="1076.5" y2="701.9" stroke="#4b3636" stroke-width="2.5"/>
<line x1="824.3" y1="712.7" x2="824.3" y2="707.9" stroke="#000" stroke-width="2.5"/>
<line x1="992.4" y1="712.7" x2="992.4" y2="707.9" stroke="#2b453f" stroke-width="2.5"/>
<line x1="1160.5" y1="712.7" x2="1160.5" y2="707.9" stroke="#4b3636" stroke-width="2.5"/>
<text transform="translate(722.52,744.42) scale(1.0700,1)" font-size="19.80" fill="#000">500</text>
<text transform="translate(890.54,744.42) scale(1.0700,1)" font-size="19.80" fill="#000">600</text>
<text transform="translate(1058.66,744.42) scale(1.0700,1)" font-size="19.80" fill="#000">700</text>
<text transform="translate(1226.88,744.42) scale(1.0700,1)" font-size="19.80" fill="#000">800</text>
<clipPath id="cdl"><rect x="900" y="500" width="174.6" height="300"/></clipPath>
<clipPath id="cdr"><rect x="1074.6" y="500" width="300" height="300"/></clipPath>
<rect x="801.1" y="693.1" width="13.0" height="13.0" rx="6.5" fill="#ee825f"/>
<circle cx="807.6" cy="699.6" r="6.5" fill="url(#hl)"/>
<rect x="868.1" y="693.4" width="13.0" height="13.0" rx="6.5" fill="#5abe9b"/>
<circle cx="874.6" cy="699.9" r="6.5" fill="url(#hl)"/>
<rect x="902.0" y="691.8" width="13.0" height="13.0" rx="6.5" fill="#87a0d2"/>
<circle cx="908.5" cy="698.3" r="6.5" fill="url(#hl)"/>
<rect x="985.8" y="674.1" width="13.0" height="13.0" rx="6.5" fill="#bea4c0"/>
<circle cx="992.3" cy="680.6" r="6.5" fill="url(#hl)"/>
<rect x="1053.1" y="691.5" width="13.0" height="13.0" rx="6.5" fill="#97ce88"/>
<circle cx="1059.6" cy="698.0" r="6.5" fill="url(#hl)"/>
<rect x="1069.9" y="584.5" width="13.0" height="35.4" rx="6.5" fill="#dcd67c" clip-path="url(#cdl)"/>
<rect x="1069.9" y="584.5" width="13.0" height="35.4" rx="6.5" fill="#edc97c" clip-path="url(#cdr)"/>
<circle cx="1076.4" cy="591.0" r="6.5" fill="url(#hl)"/>
<rect x="1103.6" y="579.2" width="13.0" height="24.4" rx="6.5" fill="#e2c1a5"/>
<circle cx="1110.1" cy="585.7" r="6.5" fill="url(#hl)"/>
<rect x="1170.7" y="543.1" width="13.0" height="30.8" rx="6.5" fill="#c6b5b9"/>
<circle cx="1177.2" cy="549.6" r="6.5" fill="url(#hl)"/>
<rect x="1204.2" y="572.2" width="13.0" height="24.8" rx="6.5" fill="#ec967d"/>
<circle cx="1210.7" cy="578.7" r="6.5" fill="url(#hl)"/>
<path d="M795.2 699.5L796.8 698.0L818.4 698.0L820.0 699.5L818.4 701.0L796.8 701.0Z" fill="#000"/>
<path d="M862.2 699.8L863.8 698.3L885.4 698.3L887.0 699.8L885.4 701.2L863.8 701.2Z" fill="#000"/>
<path d="M896.1 698.3L897.7 696.8L919.3 696.8L920.9 698.3L919.3 699.8L897.7 699.8Z" fill="#000"/>
<path d="M979.9 680.6L981.5 679.1L1003.1 679.1L1004.7 680.6L1003.1 682.1L981.5 682.1Z" fill="#2b453f"/>
<path d="M1047.2 698.3L1048.8 696.8L1070.4 696.8L1072.0 698.3L1070.4 699.8L1048.8 699.8Z" fill="#2b453f"/>
<line x1="1076.4" y1="591.2" x2="1076.4" y2="613.6" stroke="#2b453f" stroke-width="2.6" clip-path="url(#cdl)"/>
<line x1="1066.5" y1="591.2" x2="1086.3" y2="591.2" stroke="#2b453f" stroke-width="2.3" clip-path="url(#cdl)"/>
<line x1="1066.5" y1="613.6" x2="1086.3" y2="613.6" stroke="#2b453f" stroke-width="2.3" clip-path="url(#cdl)"/>
<path d="M1064.0 602.6L1065.6 601.1L1087.2 601.1L1088.8 602.6L1087.2 604.1L1065.6 604.1Z" fill="#2b453f" clip-path="url(#cdl)"/>
<line x1="1076.4" y1="591.2" x2="1076.4" y2="613.6" stroke="#4b3636" stroke-width="2.6" clip-path="url(#cdr)"/>
<line x1="1066.5" y1="591.2" x2="1086.3" y2="591.2" stroke="#4b3636" stroke-width="2.3" clip-path="url(#cdr)"/>
<line x1="1066.5" y1="613.6" x2="1086.3" y2="613.6" stroke="#4b3636" stroke-width="2.3" clip-path="url(#cdr)"/>
<path d="M1064.0 602.6L1065.6 601.1L1087.2 601.1L1088.8 602.6L1087.2 604.1L1065.6 604.1Z" fill="#4b3636" clip-path="url(#cdr)"/>
<line x1="1110.1" y1="585.8" x2="1110.1" y2="596.9" stroke="#4b3636" stroke-width="2.6"/>
<line x1="1100.2" y1="585.8" x2="1120" y2="585.8" stroke="#4b3636" stroke-width="2.3"/>
<line x1="1100.2" y1="596.9" x2="1120" y2="596.9" stroke="#4b3636" stroke-width="2.3"/>
<path d="M1097.7 590.7L1099.3 589.2L1120.9 589.2L1122.5 590.7L1120.9 592.2L1099.3 592.2Z" fill="#4b3636"/>
<line x1="1177.2" y1="548.9" x2="1177.2" y2="567.5" stroke="#4b3636" stroke-width="2.6"/>
<line x1="1167.3" y1="548.9" x2="1187.1" y2="548.9" stroke="#4b3636" stroke-width="2.3"/>
<line x1="1167.3" y1="567.5" x2="1187.1" y2="567.5" stroke="#4b3636" stroke-width="2.3"/>
<path d="M1164.8 557.6L1166.4 556.1L1188.0 556.1L1189.6 557.6L1188.0 559.1L1166.4 559.1Z" fill="#4b3636"/>
<line x1="1210.7" y1="579" x2="1210.7" y2="590.2" stroke="#4b3636" stroke-width="2.6"/>
<line x1="1200.8" y1="579" x2="1220.6" y2="579" stroke="#4b3636" stroke-width="2.3"/>
<line x1="1200.8" y1="590.2" x2="1220.6" y2="590.2" stroke="#4b3636" stroke-width="2.3"/>
<path d="M1198.3 584.1L1199.9 582.6L1221.5 582.6L1223.1 584.1L1221.5 585.6L1199.9 585.6Z" fill="#4b3636"/>
<text transform="translate(913.52,772.30) scale(1.1336,1)" font-size="23.90" fill="#000">Current (mA)</text>
<text transform="translate(672.15,759.67) rotate(-90) scale(1.1090,1)" font-size="23.80">Max Lyap. exp. (/ns)</text>
<text transform="translate(720.90,518.40)" font-size="26.70" font-weight="bold" fill="#000">d</text>
</g>
<g id="pe">
<rect x="743.50" y="801.40" width="502.50" height="165.60" fill="none" stroke="#000" stroke-width="2.3"/>
<line x1="743.5" y1="937.3" x2="755.3" y2="937.3" stroke="#000" stroke-width="2.5"/>
<text transform="translate(721.08,944.21) scale(1.0700,1)" font-size="19.80" fill="#000">2</text>
<line x1="743.5" y1="907" x2="755.3" y2="907" stroke="#000" stroke-width="2.5"/>
<text transform="translate(720.95,913.87) scale(1.0700,1)" font-size="19.80" fill="#000">3</text>
<line x1="743.5" y1="876.8" x2="755.3" y2="876.8" stroke="#000" stroke-width="2.5"/>
<text transform="translate(720.64,883.61) scale(1.0700,1)" font-size="19.80" fill="#000">4</text>
<line x1="743.5" y1="846.5" x2="755.3" y2="846.5" stroke="#000" stroke-width="2.5"/>
<text transform="translate(720.91,853.26) scale(1.0700,1)" font-size="19.80" fill="#000">5</text>
<line x1="743.5" y1="816.3" x2="755.3" y2="816.3" stroke="#000" stroke-width="2.5"/>
<text transform="translate(720.95,823.12) scale(1.0700,1)" font-size="19.80" fill="#000">6</text>
<line x1="743.5" y1="952.4" x2="749.3" y2="952.4" stroke="#000" stroke-width="2.5"/>
<line x1="743.5" y1="922.2" x2="749.3" y2="922.2" stroke="#000" stroke-width="2.5"/>
<line x1="743.5" y1="891.9" x2="749.3" y2="891.9" stroke="#000" stroke-width="2.5"/>
<line x1="743.5" y1="861.7" x2="749.3" y2="861.7" stroke="#000" stroke-width="2.5"/>
<line x1="743.5" y1="831.4" x2="749.3" y2="831.4" stroke="#000" stroke-width="2.5"/>
<line x1="789.2" y1="967" x2="789.2" y2="955.2" stroke="#000" stroke-width="2.5"/>
<line x1="880.5" y1="967" x2="880.5" y2="955.2" stroke="#000" stroke-width="2.5"/>
<line x1="971.9" y1="967" x2="971.9" y2="955.2" stroke="#000" stroke-width="2.5"/>
<line x1="1063.3" y1="967" x2="1063.3" y2="955.2" stroke="#000" stroke-width="2.5"/>
<line x1="1154.6" y1="967" x2="1154.6" y2="955.2" stroke="#000" stroke-width="2.5"/>
<line x1="834.9" y1="967" x2="834.9" y2="961.2" stroke="#000" stroke-width="2.5"/>
<line x1="926.2" y1="967" x2="926.2" y2="961.2" stroke="#000" stroke-width="2.5"/>
<line x1="1017.6" y1="967" x2="1017.6" y2="961.2" stroke="#000" stroke-width="2.5"/>
<line x1="1109" y1="967" x2="1109" y2="961.2" stroke="#000" stroke-width="2.5"/>
<line x1="1200.3" y1="967" x2="1200.3" y2="961.2" stroke="#000" stroke-width="2.5"/>
<text transform="translate(777.01,993.32) scale(1.0700,1)" font-size="19.80" fill="#000">10</text>
<text transform="translate(868.64,993.32) scale(1.0700,1)" font-size="19.80" fill="#000">20</text>
<text transform="translate(960.14,993.32) scale(1.0700,1)" font-size="19.80" fill="#000">30</text>
<text transform="translate(1051.66,993.32) scale(1.0700,1)" font-size="19.80" fill="#000">40</text>
<text transform="translate(1142.84,993.32) scale(1.0700,1)" font-size="19.80" fill="#000">50</text>
<text transform="translate(1234.09,993.32) scale(1.0700,1)" font-size="19.80" fill="#000">60</text>
<clipPath id="ce"><rect x="744.6" y="802.5" width="500.3" height="163.4"/></clipPath>
<g clip-path="url(#ce)">
<path d="M743.5 956.9 769.9 956.8 796.4 956.7 822.8 956.6 849.3 956.6 875.7 956.5 902.2 956.4 928.6 956.3 955.1 956.2 981.5 956.1 1008 956.1 1034.4 956 1060.9 955.9 1087.3 955.8 1113.8 955.7 1140.2 955.6 1166.7 955.6 1193.1 955.5 1219.6 955.4 1246 955.3" fill="none" stroke="#2d5f9a" stroke-width="2.2"/>
<path d="M752.6 952.4 754 955.5 757.4 955.8 754.8 958.1 755.6 961.4 752.6 959.7 749.7 961.4 750.4 958.1 747.9 955.8 751.3 955.5Z" fill="#fff" stroke="#fff" stroke-width="4.5" stroke-linejoin="round"/><path d="M752.6 952.4 754 955.5 757.4 955.8 754.8 958.1 755.6 961.4 752.6 959.7 749.7 961.4 750.4 958.1 747.9 955.8 751.3 955.5Z" fill="#fff" stroke="#2d5f9a" stroke-width="2.0" stroke-linejoin="miter" stroke-miterlimit="3"/>
<path d="M789.2 952.3 790.5 955.4 793.9 955.7 791.4 958 792.1 961.3 789.2 959.6 786.2 961.3 787 958 784.4 955.7 787.8 955.4Z" fill="#fff" stroke="#fff" stroke-width="4.5" stroke-linejoin="round"/><path d="M789.2 952.3 790.5 955.4 793.9 955.7 791.4 958 792.1 961.3 789.2 959.6 786.2 961.3 787 958 784.4 955.7 787.8 955.4Z" fill="#fff" stroke="#2d5f9a" stroke-width="2.0" stroke-linejoin="miter" stroke-miterlimit="3"/>
<path d="M825.7 952.1 827.1 955.3 830.5 955.6 827.9 957.8 828.7 961.2 825.7 959.4 822.8 961.2 823.5 957.8 821 955.6 824.4 955.3Z" fill="#fff" stroke="#fff" stroke-width="4.5" stroke-linejoin="round"/><path d="M825.7 952.1 827.1 955.3 830.5 955.6 827.9 957.8 828.7 961.2 825.7 959.4 822.8 961.2 823.5 957.8 821 955.6 824.4 955.3Z" fill="#fff" stroke="#2d5f9a" stroke-width="2.0" stroke-linejoin="miter" stroke-miterlimit="3"/>
<path d="M862.3 952 863.6 955.2 867 955.5 864.5 957.7 865.2 961.1 862.3 959.3 859.3 961.1 860.1 957.7 857.5 955.5 860.9 955.2Z" fill="#fff" stroke="#fff" stroke-width="4.5" stroke-linejoin="round"/><path d="M862.3 952 863.6 955.2 867 955.5 864.5 957.7 865.2 961.1 862.3 959.3 859.3 961.1 860.1 957.7 857.5 955.5 860.9 955.2Z" fill="#fff" stroke="#2d5f9a" stroke-width="2.0" stroke-linejoin="miter" stroke-miterlimit="3"/>
<path d="M898.8 951.9 900.2 955 903.6 955.4 901 957.6 901.8 961 898.8 959.2 895.9 961 896.6 957.6 894.1 955.4 897.5 955Z" fill="#fff" stroke="#fff" stroke-width="4.5" stroke-linejoin="round"/><path d="M898.8 951.9 900.2 955 903.6 955.4 901 957.6 901.8 961 898.8 959.2 895.9 961 896.6 957.6 894.1 955.4 897.5 955Z" fill="#fff" stroke="#2d5f9a" stroke-width="2.0" stroke-linejoin="miter" stroke-miterlimit="3"/>
<path d="M935.4 951.8 936.7 954.9 940.1 955.2 937.6 957.5 938.3 960.8 935.4 959.1 932.4 960.8 933.2 957.5 930.6 955.2 934 954.9Z" fill="#fff" stroke="#fff" stroke-width="4.5" stroke-linejoin="round"/><path d="M935.4 951.8 936.7 954.9 940.1 955.2 937.6 957.5 938.3 960.8 935.4 959.1 932.4 960.8 933.2 957.5 930.6 955.2 934 954.9Z" fill="#fff" stroke="#2d5f9a" stroke-width="2.0" stroke-linejoin="miter" stroke-miterlimit="3"/>
<path d="M971.9 951.7 973.3 954.8 976.7 955.1 974.1 957.4 974.8 960.7 971.9 959 969 960.7 969.7 957.4 967.2 955.1 970.6 954.8Z" fill="#fff" stroke="#fff" stroke-width="4.5" stroke-linejoin="round"/><path d="M971.9 951.7 973.3 954.8 976.7 955.1 974.1 957.4 974.8 960.7 971.9 959 969 960.7 969.7 957.4 967.2 955.1 970.6 954.8Z" fill="#fff" stroke="#2d5f9a" stroke-width="2.0" stroke-linejoin="miter" stroke-miterlimit="3"/>
<path d="M1008.5 951.6 1009.8 954.7 1013.2 955 1010.6 957.3 1011.4 960.6 1008.5 958.9 1005.5 960.6 1006.3 957.3 1003.7 955 1007.1 954.7Z" fill="#fff" stroke="#fff" stroke-width="4.5" stroke-linejoin="round"/><path d="M1008.5 951.6 1009.8 954.7 1013.2 955 1010.6 957.3 1011.4 960.6 1008.5 958.9 1005.5 960.6 1006.3 957.3 1003.7 955 1007.1 954.7Z" fill="#fff" stroke="#2d5f9a" stroke-width="2.0" stroke-linejoin="miter" stroke-miterlimit="3"/>
<path d="M1045 951.4 1046.4 954.6 1049.8 954.9 1047.2 957.2 1047.9 960.5 1045 958.7 1042.1 960.5 1042.8 957.2 1040.2 954.9 1043.6 954.6Z" fill="#fff" stroke="#fff" stroke-width="4.5" stroke-linejoin="round"/><path d="M1045 951.4 1046.4 954.6 1049.8 954.9 1047.2 957.2 1047.9 960.5 1045 958.7 1042.1 960.5 1042.8 957.2 1040.2 954.9 1043.6 954.6Z" fill="#fff" stroke="#2d5f9a" stroke-width="2.0" stroke-linejoin="miter" stroke-miterlimit="3"/>
<path d="M1081.5 951.3 1082.9 954.5 1086.3 954.8 1083.7 957 1084.5 960.4 1081.5 958.6 1078.6 960.4 1079.4 957 1076.8 954.8 1080.2 954.5Z" fill="#fff" stroke="#fff" stroke-width="4.5" stroke-linejoin="round"/><path d="M1081.5 951.3 1082.9 954.5 1086.3 954.8 1083.7 957 1084.5 960.4 1081.5 958.6 1078.6 960.4 1079.4 957 1076.8 954.8 1080.2 954.5Z" fill="#fff" stroke="#2d5f9a" stroke-width="2.0" stroke-linejoin="miter" stroke-miterlimit="3"/>
<path d="M1118.1 951.2 1119.4 954.3 1122.8 954.7 1120.3 956.9 1121 960.3 1118.1 958.5 1115.2 960.3 1115.9 956.9 1113.3 954.7 1116.7 954.3Z" fill="#fff" stroke="#fff" stroke-width="4.5" stroke-linejoin="round"/><path d="M1118.1 951.2 1119.4 954.3 1122.8 954.7 1120.3 956.9 1121 960.3 1118.1 958.5 1115.2 960.3 1115.9 956.9 1113.3 954.7 1116.7 954.3Z" fill="#fff" stroke="#2d5f9a" stroke-width="2.0" stroke-linejoin="miter" stroke-miterlimit="3"/>
<path d="M1154.6 951.1 1156 954.2 1159.4 954.5 1156.8 956.8 1157.6 960.1 1154.6 958.4 1151.7 960.1 1152.4 956.8 1149.9 954.5 1153.3 954.2Z" fill="#fff" stroke="#fff" stroke-width="4.5" stroke-linejoin="round"/><path d="M1154.6 951.1 1156 954.2 1159.4 954.5 1156.8 956.8 1157.6 960.1 1154.6 958.4 1151.7 960.1 1152.4 956.8 1149.9 954.5 1153.3 954.2Z" fill="#fff" stroke="#2d5f9a" stroke-width="2.0" stroke-linejoin="miter" stroke-miterlimit="3"/>
<path d="M1191.2 951 1192.5 954.1 1195.9 954.4 1193.4 956.7 1194.1 960 1191.2 958.3 1188.2 960 1189 956.7 1186.4 954.4 1189.8 954.1Z" fill="#fff" stroke="#fff" stroke-width="4.5" stroke-linejoin="round"/><path d="M1191.2 951 1192.5 954.1 1195.9 954.4 1193.4 956.7 1194.1 960 1191.2 958.3 1188.2 960 1189 956.7 1186.4 954.4 1189.8 954.1Z" fill="#fff" stroke="#2d5f9a" stroke-width="2.0" stroke-linejoin="miter" stroke-miterlimit="3"/>
<path d="M1227.7 950.9 1229.1 954 1232.5 954.3 1229.9 956.6 1230.7 959.9 1227.7 958.2 1224.8 959.9 1225.5 956.6 1223 954.3 1226.4 954Z" fill="#fff" stroke="#fff" stroke-width="4.5" stroke-linejoin="round"/><path d="M1227.7 950.9 1229.1 954 1232.5 954.3 1229.9 956.6 1230.7 959.9 1227.7 958.2 1224.8 959.9 1225.5 956.6 1223 954.3 1226.4 954Z" fill="#fff" stroke="#2d5f9a" stroke-width="2.0" stroke-linejoin="miter" stroke-miterlimit="3"/>
<path d="M743.5 941.3 746.7 940.5 749.8 939.7 753 938.9 756.1 938.2 759.3 937.4 762.5 936.7 765.6 935.9 768.8 935.2 771.9 934.5 775.1 933.8 778.3 933.1 781.4 932.5 784.6 931.8 787.7 931.2 790.9 930.6 794.1 930 797.2 929.5 800.4 928.9 803.5 928.4 806.7 927.9 809.9 927.4 813 927 816.2 926.5 819.3 926.1 822.5 925.7 825.7 925.3 828.8 924.9 832 924.5 835.2 924.1 838.3 923.8 841.5 923.4 844.6 923 847.8 922.7 851 922.4 854.1 922 857.3 921.7 860.4 921.4 863.6 921 866.8 920.7 869.9 920.3 873.1 920 876.2 919.7 879.4 919.3 882.6 919 885.7 918.6 888.9 918.3 892 917.9 895.2 917.6 898.4 917.2 901.5 916.8 904.7 916.5 907.8 916.1 911 915.8 914.2 915.4 917.3 915.1 920.5 914.8 923.6 914.4 926.8 914.1 930 913.8 933.1 913.4 936.3 913.1 939.4 912.8 942.6 912.5 945.8 912.3 948.9 912 952.1 911.7 955.2 911.5 958.4 911.2 961.6 911 964.7 910.7 967.9 910.5 971 910.2 974.2 910 977.4 909.8 980.5 909.6 983.7 909.3 986.8 909.1 990 908.9 993.2 908.7 996.3 908.5 999.5 908.3 1002.7 908.1 1005.8 907.9 1009 907.7 1012.1 907.6 1015.3 907.4 1018.5 907.3 1021.6 907.1 1024.8 907 1027.9 906.9 1031.1 906.7 1034.3 906.6 1037.4 906.5 1040.6 906.4 1043.7 906.3 1046.9 906.2 1050.1 906.1 1053.2 906 1056.4 905.9 1059.5 905.8 1062.7 905.7 1065.9 905.6 1069 905.5 1072.2 905.4 1075.3 905.3 1078.5 905.3 1081.7 905.2 1084.8 905.1 1088 905 1091.1 905 1094.3 904.9 1097.5 904.8 1100.6 904.8 1103.8 904.7 1106.9 904.7 1110.1 904.6 1113.3 904.6 1116.4 904.5 1119.6 904.5 1122.7 904.4 1125.9 904.4 1129.1 904.3 1132.2 904.3 1135.4 904.2 1138.5 904.2 1141.7 904.1 1144.9 904.1 1148 904.1 1151.2 904 1154.3 904 1157.5 904 1160.7 903.9 1163.8 903.9 1167 903.9 1170.2 903.8 1173.3 903.8 1176.5 903.8 1179.6 903.7 1182.8 903.7 1186 903.7 1189.1 903.7 1192.3 903.6 1195.4 903.6 1198.6 903.6 1201.8 903.6 1204.9 903.5 1208.1 903.5 1211.2 903.5 1214.4 903.5 1217.6 903.4 1220.7 903.4 1223.9 903.4 1227 903.4 1230.2 903.4 1233.4 903.4 1236.5 903.3 1239.7 903.3 1242.8 903.3 1246 903.3" fill="none" stroke="#6a9cb8" stroke-width="2.2"/>
<circle cx="807.5" cy="927.8" r="4.25" fill="#fff" stroke="#fff" stroke-width="4.6"/><circle cx="807.5" cy="927.8" r="4.25" fill="#fff" stroke="#6a9cb8" stroke-width="1.8"/>
<circle cx="880.5" cy="919.2" r="4.25" fill="#fff" stroke="#fff" stroke-width="4.6"/><circle cx="880.5" cy="919.2" r="4.25" fill="#fff" stroke="#6a9cb8" stroke-width="1.8"/>
<circle cx="953.6" cy="911.6" r="4.25" fill="#fff" stroke="#fff" stroke-width="4.6"/><circle cx="953.6" cy="911.6" r="4.25" fill="#fff" stroke="#6a9cb8" stroke-width="1.8"/>
<circle cx="1026.7" cy="906.9" r="4.25" fill="#fff" stroke="#fff" stroke-width="4.6"/><circle cx="1026.7" cy="906.9" r="4.25" fill="#fff" stroke="#6a9cb8" stroke-width="1.8"/>
<circle cx="1099.8" cy="904.8" r="4.25" fill="#fff" stroke="#fff" stroke-width="4.6"/><circle cx="1099.8" cy="904.8" r="4.25" fill="#fff" stroke="#6a9cb8" stroke-width="1.8"/>
<circle cx="1172.9" cy="903.8" r="4.25" fill="#fff" stroke="#fff" stroke-width="4.6"/><circle cx="1172.9" cy="903.8" r="4.25" fill="#fff" stroke="#6a9cb8" stroke-width="1.8"/>
<circle cx="1246.0" cy="903.3" r="4.25" fill="#fff" stroke="#fff" stroke-width="4.6"/><circle cx="1246.0" cy="903.3" r="4.25" fill="#fff" stroke="#6a9cb8" stroke-width="1.8"/>
<path d="M743.5 946.9 746.7 946 749.8 945.1 753 944.2 756.1 943.3 759.3 942.4 762.5 941.5 765.6 940.6 768.8 939.8 771.9 938.9 775.1 938.1 778.3 937.2 781.4 936.3 784.6 935.5 787.7 934.7 790.9 933.8 794.1 933 797.2 932.2 800.4 931.4 803.5 930.6 806.7 929.8 809.9 929 813 928.2 816.2 927.4 819.3 926.7 822.5 925.9 825.7 925.2 828.8 924.4 832 923.7 835.2 922.9 838.3 922.2 841.5 921.5 844.6 920.8 847.8 920 851 919.3 854.1 918.6 857.3 917.9 860.4 917.2 863.6 916.5 866.8 915.7 869.9 915 873.1 914.3 876.2 913.6 879.4 912.9 882.6 912.1 885.7 911.4 888.9 910.7 892 910 895.2 909.2 898.4 908.5 901.5 907.8 904.7 907.1 907.8 906.4 911 905.7 914.2 904.9 917.3 904.2 920.5 903.5 923.6 902.8 926.8 902.1 930 901.4 933.1 900.6 936.3 899.9 939.4 899.2 942.6 898.5 945.8 897.8 948.9 897.1 952.1 896.4 955.2 895.6 958.4 894.9 961.6 894.2 964.7 893.5 967.9 892.7 971 892 974.2 891.3 977.4 890.5 980.5 889.8 983.7 889 986.8 888.3 990 887.6 993.2 886.8 996.3 886.1 999.5 885.4 1002.7 884.7 1005.8 884 1009 883.3 1012.1 882.5 1015.3 881.9 1018.5 881.2 1021.6 880.5 1024.8 879.8 1027.9 879.1 1031.1 878.5 1034.3 877.8 1037.4 877.1 1040.6 876.5 1043.7 875.8 1046.9 875.1 1050.1 874.5 1053.2 873.8 1056.4 873.2 1059.5 872.5 1062.7 871.9 1065.9 871.2 1069 870.6 1072.2 870 1075.3 869.4 1078.5 868.8 1081.7 868.2 1084.8 867.7 1088 867.1 1091.1 866.6 1094.3 866.1 1097.5 865.6 1100.6 865.1 1103.8 864.6 1106.9 864.1 1110.1 863.7 1113.3 863.2 1116.4 862.7 1119.6 862.3 1122.7 861.8 1125.9 861.4 1129.1 861 1132.2 860.6 1135.4 860.1 1138.5 859.7 1141.7 859.3 1144.9 859 1148 858.6 1151.2 858.2 1154.3 857.9 1157.5 857.6 1160.7 857.3 1163.8 857 1167 856.7 1170.2 856.4 1173.3 856.2 1176.5 855.9 1179.6 855.7 1182.8 855.5 1186 855.2 1189.1 855 1192.3 854.8 1195.4 854.6 1198.6 854.4 1201.8 854.2 1204.9 854 1208.1 853.8 1211.2 853.6 1214.4 853.4 1217.6 853.3 1220.7 853.1 1223.9 852.9 1227 852.8 1230.2 852.7 1233.4 852.6 1236.5 852.5 1239.7 852.4 1242.8 852.3 1246 852.2" fill="none" stroke="#eca33a" stroke-width="2.2"/>
<path d="M807.5 924.7L812.5 933.9L802.5 933.9Z" fill="#fff" stroke="#fff" stroke-width="4.6" stroke-linejoin="round"/><path d="M807.5 924.7L812.5 933.9L802.5 933.9Z" fill="#fff" stroke="#eca33a" stroke-width="1.8" stroke-linejoin="miter"/>
<path d="M880.5 907.7L885.5 916.9L875.5 916.9Z" fill="#fff" stroke="#fff" stroke-width="4.6" stroke-linejoin="round"/><path d="M880.5 907.7L885.5 916.9L875.5 916.9Z" fill="#fff" stroke="#eca33a" stroke-width="1.8" stroke-linejoin="miter"/>
<path d="M953.6 891.1L958.6 900.3L948.6 900.3Z" fill="#fff" stroke="#fff" stroke-width="4.6" stroke-linejoin="round"/><path d="M953.6 891.1L958.6 900.3L948.6 900.3Z" fill="#fff" stroke="#eca33a" stroke-width="1.8" stroke-linejoin="miter"/>
<path d="M1026.7 874.5L1031.7 883.7L1021.7 883.7Z" fill="#fff" stroke="#fff" stroke-width="4.6" stroke-linejoin="round"/><path d="M1026.7 874.5L1031.7 883.7L1021.7 883.7Z" fill="#fff" stroke="#eca33a" stroke-width="1.8" stroke-linejoin="miter"/>
<path d="M1099.8 860.3L1104.8 869.5L1094.8 869.5Z" fill="#fff" stroke="#fff" stroke-width="4.6" stroke-linejoin="round"/><path d="M1099.8 860.3L1104.8 869.5L1094.8 869.5Z" fill="#fff" stroke="#eca33a" stroke-width="1.8" stroke-linejoin="miter"/>
<path d="M1172.9 851.3L1177.9 860.5L1167.9 860.5Z" fill="#fff" stroke="#fff" stroke-width="4.6" stroke-linejoin="round"/><path d="M1172.9 851.3L1177.9 860.5L1167.9 860.5Z" fill="#fff" stroke="#eca33a" stroke-width="1.8" stroke-linejoin="miter"/>
<path d="M1246.0 847.3L1251.0 856.5L1241.0 856.5Z" fill="#fff" stroke="#fff" stroke-width="4.6" stroke-linejoin="round"/><path d="M1246.0 847.3L1251.0 856.5L1241.0 856.5Z" fill="#fff" stroke="#eca33a" stroke-width="1.8" stroke-linejoin="miter"/>
<path d="M743.5 924.3 746.7 922.4 749.8 920.6 753 918.8 756.1 917 759.3 915.2 762.5 913.4 765.6 911.7 768.8 910 771.9 908.3 775.1 906.7 778.3 905.1 781.4 903.5 784.6 901.9 787.7 900.3 790.9 898.8 794.1 897.4 797.2 895.9 800.4 894.5 803.5 893.1 806.7 891.8 809.9 890.5 813 889.2 816.2 888 819.3 886.7 822.5 885.5 825.7 884.3 828.8 883.1 832 881.9 835.2 880.8 838.3 879.7 841.5 878.6 844.6 877.5 847.8 876.4 851 875.3 854.1 874.3 857.3 873.3 860.4 872.3 863.6 871.3 866.8 870.3 869.9 869.4 873.1 868.4 876.2 867.5 879.4 866.6 882.6 865.7 885.7 864.9 888.9 864 892 863.1 895.2 862.3 898.4 861.4 901.5 860.6 904.7 859.8 907.8 859 911 858.2 914.2 857.4 917.3 856.7 920.5 855.9 923.6 855.2 926.8 854.5 930 853.8 933.1 853.1 936.3 852.4 939.4 851.7 942.6 851.1 945.8 850.5 948.9 849.9 952.1 849.3 955.2 848.7 958.4 848.1 961.6 847.6 964.7 847 967.9 846.4 971 845.9 974.2 845.3 977.4 844.8 980.5 844.2 983.7 843.7 986.8 843.2 990 842.7 993.2 842.2 996.3 841.7 999.5 841.3 1002.7 840.8 1005.8 840.4 1009 840.1 1012.1 839.7 1015.3 839.4 1018.5 839.1 1021.6 838.8 1024.8 838.5 1027.9 838.3 1031.1 838.1 1034.3 837.9 1037.4 837.7 1040.6 837.5 1043.7 837.3 1046.9 837.1 1050.1 836.9 1053.2 836.8 1056.4 836.6 1059.5 836.4 1062.7 836.3 1065.9 836.1 1069 836 1072.2 835.9 1075.3 835.8 1078.5 835.6 1081.7 835.6 1084.8 835.5 1088 835.4 1091.1 835.4 1094.3 835.3 1097.5 835.3 1100.6 835.3 1103.8 835.3 1106.9 835.3 1110.1 835.3 1113.3 835.3 1116.4 835.3 1119.6 835.3 1122.7 835.3 1125.9 835.3 1129.1 835.3 1132.2 835.3 1135.4 835.3 1138.5 835.3 1141.7 835.3 1144.9 835.3 1148 835.3 1151.2 835.3 1154.3 835.3 1157.5 835.3 1160.7 835.3 1163.8 835.3 1167 835.3 1170.2 835.3 1173.3 835.3 1176.5 835.3 1179.6 835.3 1182.8 835.3 1186 835.3 1189.1 835.3 1192.3 835.2 1195.4 835.2 1198.6 835.2 1201.8 835.2 1204.9 835.2 1208.1 835.1 1211.2 835.1 1214.4 835.1 1217.6 835 1220.7 835 1223.9 835 1227 834.9 1230.2 834.9 1233.4 834.9 1236.5 834.8 1239.7 834.8 1242.8 834.7 1246 834.7" fill="none" stroke="#e8585c" stroke-width="2.2"/>
<rect x="803.6" y="887.6" width="7.8" height="7.8" fill="#fff" stroke="#fff" stroke-width="4.6"/><rect x="803.6" y="887.6" width="7.8" height="7.8" fill="#fff" stroke="#e8585c" stroke-width="1.8"/>
<rect x="876.6" y="862.4" width="7.8" height="7.8" fill="#fff" stroke="#fff" stroke-width="4.6"/><rect x="876.6" y="862.4" width="7.8" height="7.8" fill="#fff" stroke="#e8585c" stroke-width="1.8"/>
<rect x="949.7" y="845.1" width="7.8" height="7.8" fill="#fff" stroke="#fff" stroke-width="4.6"/><rect x="949.7" y="845.1" width="7.8" height="7.8" fill="#fff" stroke="#e8585c" stroke-width="1.8"/>
<rect x="1022.8" y="834.5" width="7.8" height="7.8" fill="#fff" stroke="#fff" stroke-width="4.6"/><rect x="1022.8" y="834.5" width="7.8" height="7.8" fill="#fff" stroke="#e8585c" stroke-width="1.8"/>
<rect x="1095.9" y="831.4" width="7.8" height="7.8" fill="#fff" stroke="#fff" stroke-width="4.6"/><rect x="1095.9" y="831.4" width="7.8" height="7.8" fill="#fff" stroke="#e8585c" stroke-width="1.8"/>
<rect x="1169.0" y="831.4" width="7.8" height="7.8" fill="#fff" stroke="#fff" stroke-width="4.6"/><rect x="1169.0" y="831.4" width="7.8" height="7.8" fill="#fff" stroke="#e8585c" stroke-width="1.8"/>
<rect x="1242.1" y="830.8" width="7.8" height="7.8" fill="#fff" stroke="#fff" stroke-width="4.6"/><rect x="1242.1" y="830.8" width="7.8" height="7.8" fill="#fff" stroke="#e8585c" stroke-width="1.8"/>
</g>
<line x1="753" y1="811.8" x2="757.8" y2="811.8" stroke="#2d5f9a" stroke-width="2.2"/>
<line x1="768.6" y1="811.8" x2="773.6" y2="811.8" stroke="#2d5f9a" stroke-width="2.2"/>
<path d="M763.1 807.3 764.5 810.4 767.9 810.8 765.3 813 766 816.3 763.1 814.6 760.2 816.3 760.9 813 758.3 810.8 761.7 810.4Z" fill="#fff" stroke="#2d5f9a" stroke-width="2.0" stroke-linejoin="miter" stroke-miterlimit="3"/>
<text transform="translate(782.34,817.02) scale(0.9798,1)" font-size="14.30" fill="#000">540 mA</text>
<line x1="753" y1="829.2" x2="757.8" y2="829.2" stroke="#6a9cb8" stroke-width="2.2"/>
<line x1="768.6" y1="829.2" x2="773.6" y2="829.2" stroke="#6a9cb8" stroke-width="2.2"/>
<circle cx="763.1" cy="829.2" r="4.25" fill="#fff" stroke="#6a9cb8" stroke-width="1.8"/>
<text transform="translate(782.19,834.42) scale(0.9829,1)" font-size="14.30" fill="#000">650 mA</text>
<line x1="753" y1="845.8" x2="757.8" y2="845.8" stroke="#eca33a" stroke-width="2.2"/>
<line x1="768.6" y1="845.8" x2="773.6" y2="845.8" stroke="#eca33a" stroke-width="2.2"/>
<path d="M763.1 840.9L768.1 850.1L758.1 850.1Z" fill="#fff" stroke="#eca33a" stroke-width="1.8" stroke-linejoin="miter"/>
<text transform="translate(782.18,851.02) scale(0.9831,1)" font-size="14.30" fill="#000">700 mA</text>
<line x1="753" y1="863.7" x2="757.8" y2="863.7" stroke="#e8585c" stroke-width="2.2"/>
<line x1="768.6" y1="863.7" x2="773.6" y2="863.7" stroke="#e8585c" stroke-width="2.2"/>
<rect x="759.2" y="859.8" width="7.8" height="7.8" fill="#fff" stroke="#e8585c" stroke-width="1.8"/>
<text transform="translate(782.18,868.92) scale(0.9831,1)" font-size="14.30" fill="#000">760 mA</text>
<text transform="translate(851.71,1023.60) scale(1.0789,1)" font-size="25.90" fill="#000">Embedding dimension</text>
<text transform="translate(699.34,982.63) rotate(-90) scale(1.0156,1)" font-size="27.80">Corr. dimension</text>
<text transform="translate(721.56,786.30)" font-size="26.70" font-weight="bold" fill="#000">e</text>
</g>
</svg></body></html>
